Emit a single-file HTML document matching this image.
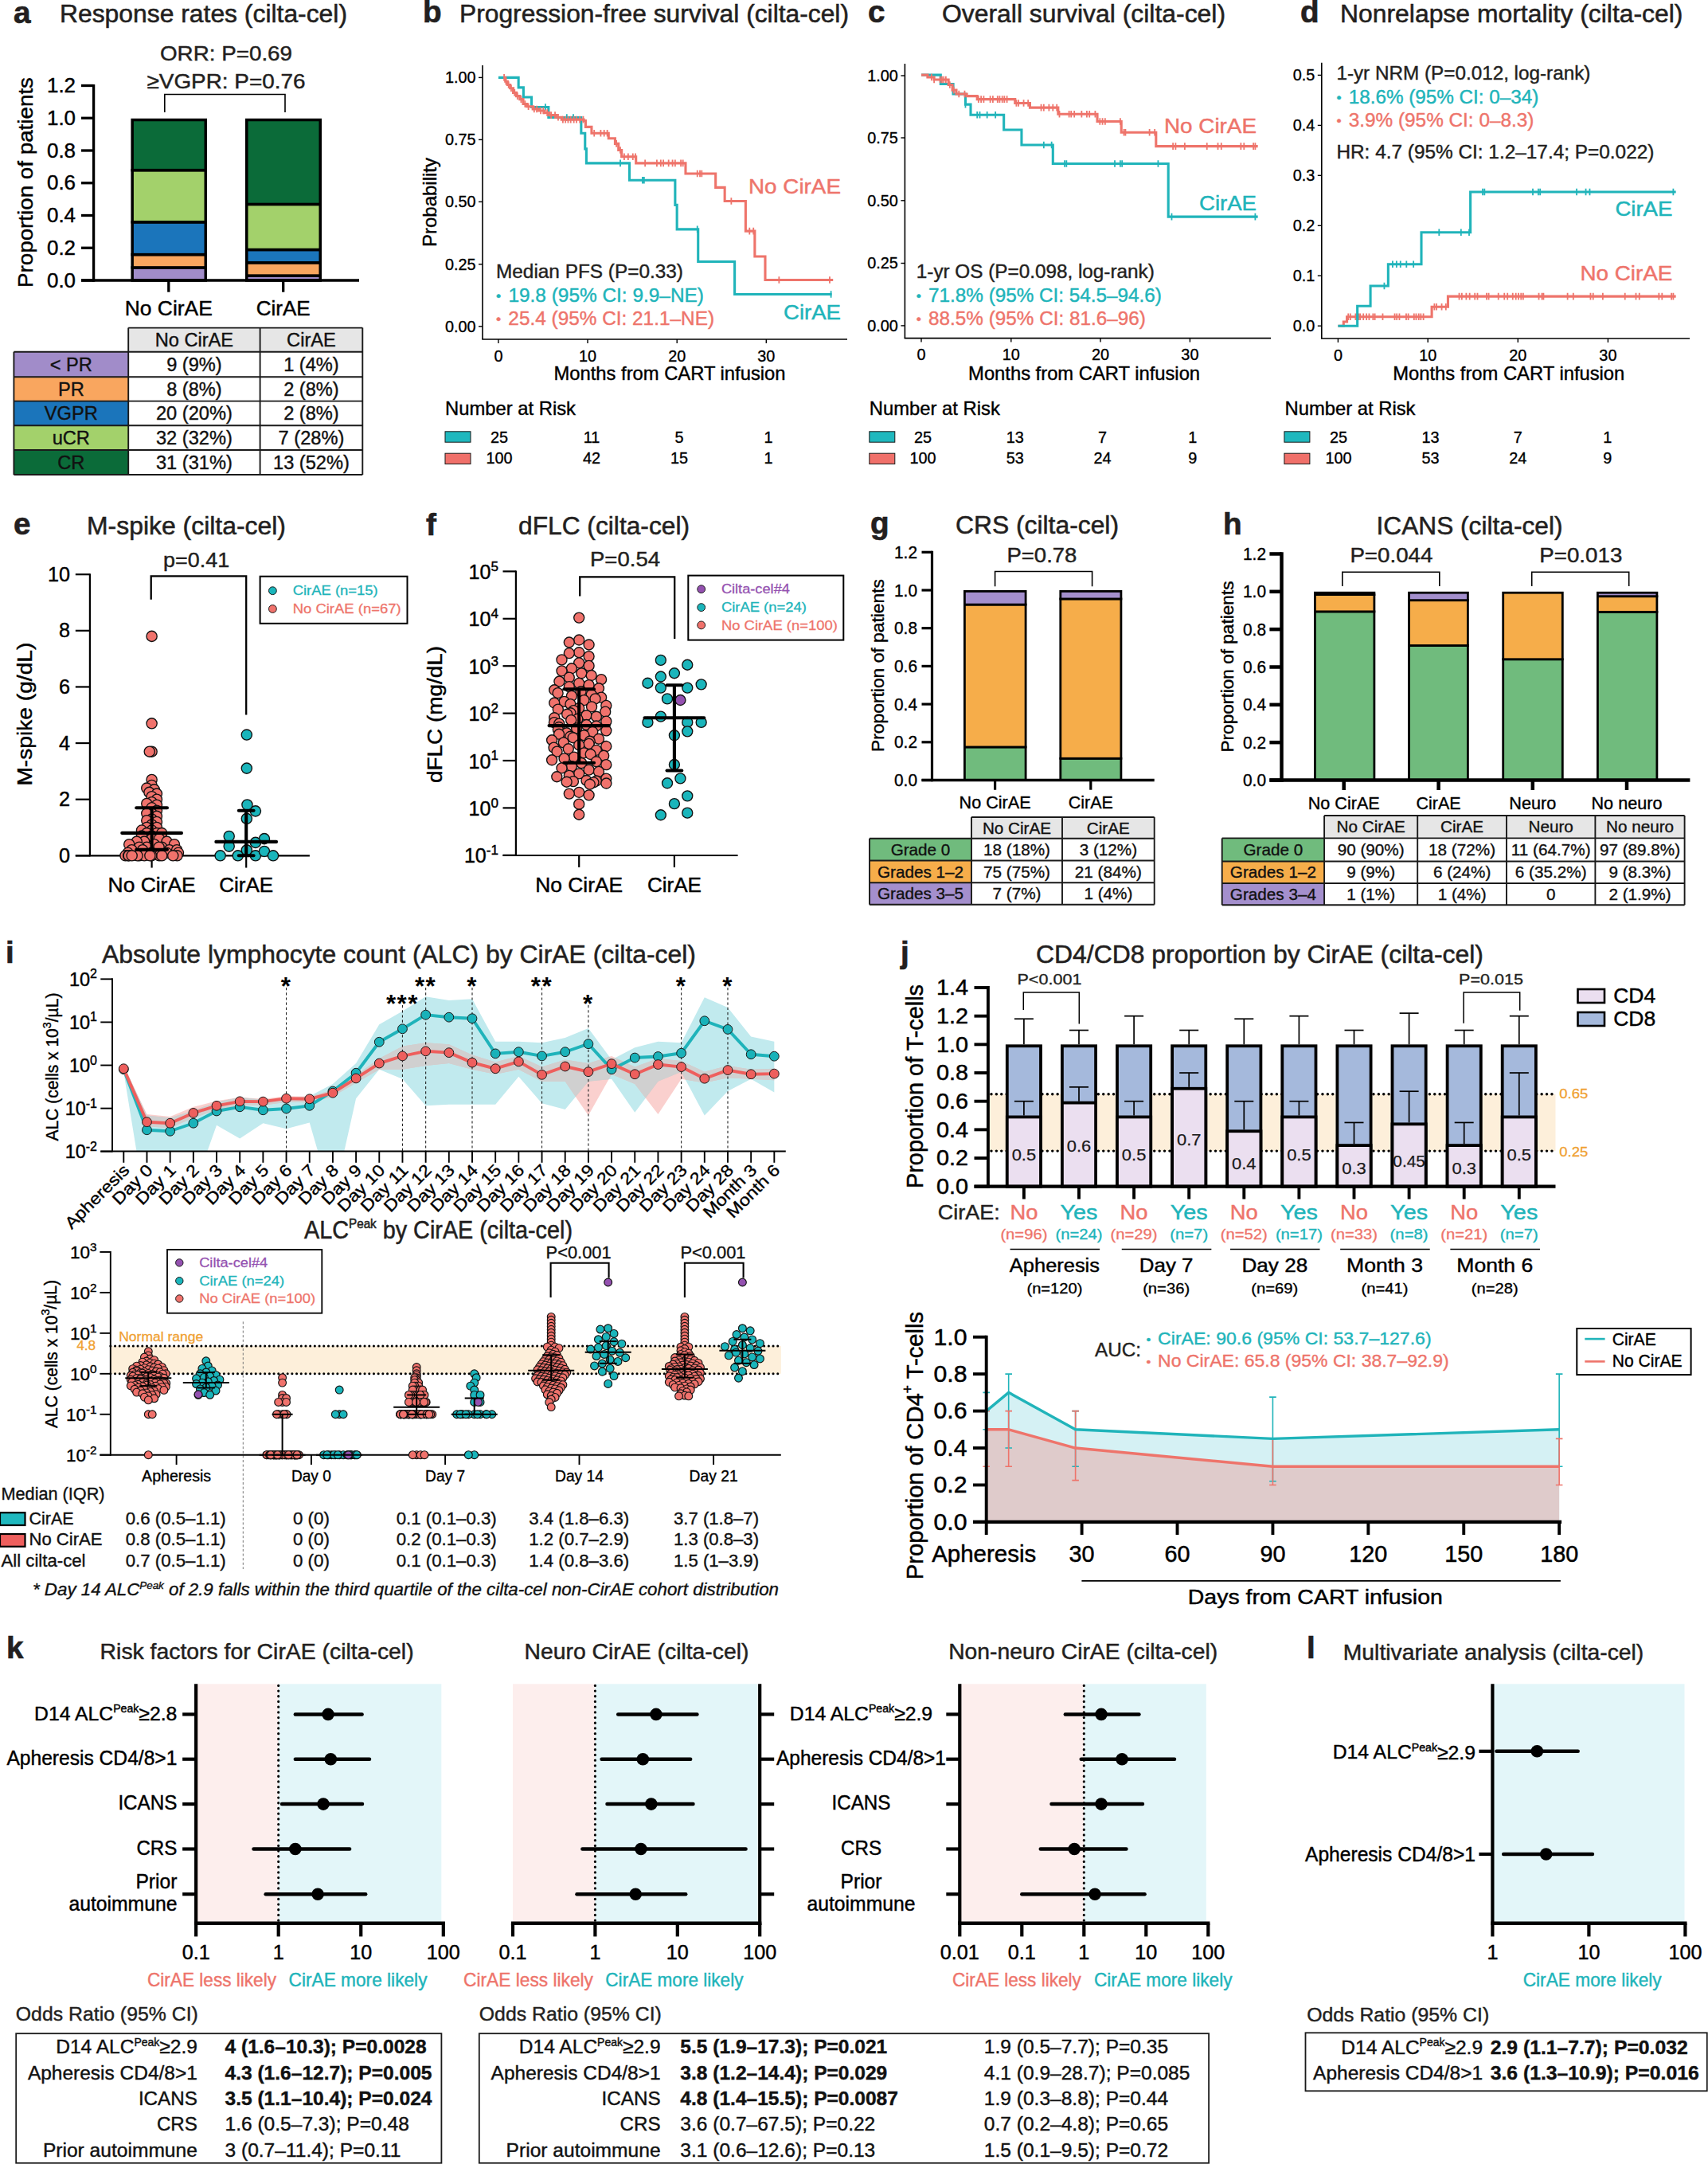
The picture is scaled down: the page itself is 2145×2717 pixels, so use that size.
<!DOCTYPE html>
<html lang="en"><head><meta charset="utf-8"><title>Figure</title>
<style>
html,body{margin:0;padding:0;background:#fff;}
svg{display:block;font-family:'Liberation Sans', Arial, Helvetica, sans-serif;}
text{white-space:pre;}
</style></head><body>
<svg width="2145" height="2717" viewBox="0 0 2145 2717">
<rect width="2145" height="2717" fill="#fff"/>
<g><text x="17" y="29" font-size="38.66" fill="#231f20" stroke="#231f20" stroke-width="0.66" font-weight="bold">a</text>
<text x="75" y="28" font-size="30.83" fill="#231f20" stroke="#231f20" stroke-width="0.52" textLength="361" lengthAdjust="spacingAndGlyphs">Response rates (cilta-cel)</text>
<text x="284" y="76" font-size="26.44" text-anchor="middle" fill="#231f20" stroke="#231f20" stroke-width="0.45" textLength="166" lengthAdjust="spacingAndGlyphs">ORR: P=0.69</text>
<text x="284" y="110.5" font-size="26.44" text-anchor="middle" fill="#231f20" stroke="#231f20" stroke-width="0.45" textLength="199" lengthAdjust="spacingAndGlyphs">≥VGPR: P=0.76</text>
<path d="M206.8 141 V118.5 H358 V141" fill="none" stroke="#000" stroke-width="1.6"/>
<rect x="166.15" y="335.91" width="92.1" height="16.09" fill="#a18cc9" stroke="#000" stroke-width="3.5"/>
<rect x="166.15" y="319.61" width="92.1" height="16.3" fill="#f9a65f" stroke="#000" stroke-width="3.5"/>
<rect x="166.15" y="278.86" width="92.1" height="40.75" fill="#1b75bb" stroke="#000" stroke-width="3.5"/>
<rect x="166.15" y="213.66" width="92.1" height="65.2" fill="#a3d16b" stroke="#000" stroke-width="3.5"/>
<rect x="166.15" y="150.5" width="92.1" height="63.16" fill="#0b6b39" stroke="#000" stroke-width="3.5"/>
<rect x="309.75" y="346.1" width="92.5" height="5.9" fill="#a18cc9" stroke="#000" stroke-width="3.5"/>
<rect x="309.75" y="329.8" width="92.5" height="16.3" fill="#f9a65f" stroke="#000" stroke-width="3.5"/>
<rect x="309.75" y="313.5" width="92.5" height="16.3" fill="#1b75bb" stroke="#000" stroke-width="3.5"/>
<rect x="309.75" y="256.45" width="92.5" height="57.05" fill="#a3d16b" stroke="#000" stroke-width="3.5"/>
<rect x="309.75" y="150.5" width="92.5" height="105.95" fill="#0b6b39" stroke="#000" stroke-width="3.5"/>
<line x1="117.6" y1="105.9" x2="117.6" y2="353.7" stroke="#000" stroke-width="3.3"/>
<line x1="102" y1="352" x2="451" y2="352" stroke="#000" stroke-width="3.4"/>
<line x1="102" y1="352" x2="117.6" y2="352" stroke="#000" stroke-width="3.3"/>
<text x="95" y="360.6" font-size="25.08" text-anchor="end" stroke="#000" stroke-width="0.43" textLength="36" lengthAdjust="spacingAndGlyphs">0.0</text>
<line x1="102" y1="311.25" x2="117.6" y2="311.25" stroke="#000" stroke-width="3.3"/>
<text x="95" y="319.85" font-size="25.08" text-anchor="end" stroke="#000" stroke-width="0.43" textLength="36" lengthAdjust="spacingAndGlyphs">0.2</text>
<line x1="102" y1="270.5" x2="117.6" y2="270.5" stroke="#000" stroke-width="3.3"/>
<text x="95" y="279.1" font-size="25.08" text-anchor="end" stroke="#000" stroke-width="0.43" textLength="36" lengthAdjust="spacingAndGlyphs">0.4</text>
<line x1="102" y1="229.75" x2="117.6" y2="229.75" stroke="#000" stroke-width="3.3"/>
<text x="95" y="238.35" font-size="25.08" text-anchor="end" stroke="#000" stroke-width="0.43" textLength="36" lengthAdjust="spacingAndGlyphs">0.6</text>
<line x1="102" y1="189" x2="117.6" y2="189" stroke="#000" stroke-width="3.3"/>
<text x="95" y="197.6" font-size="25.08" text-anchor="end" stroke="#000" stroke-width="0.43" textLength="36" lengthAdjust="spacingAndGlyphs">0.8</text>
<line x1="102" y1="148.25" x2="117.6" y2="148.25" stroke="#000" stroke-width="3.3"/>
<text x="95" y="156.85" font-size="25.08" text-anchor="end" stroke="#000" stroke-width="0.43" textLength="36" lengthAdjust="spacingAndGlyphs">1.0</text>
<line x1="102" y1="107.5" x2="117.6" y2="107.5" stroke="#000" stroke-width="3.3"/>
<text x="95" y="116.1" font-size="25.08" text-anchor="end" stroke="#000" stroke-width="0.43" textLength="36" lengthAdjust="spacingAndGlyphs">1.2</text>
<line x1="211.8" y1="352" x2="211.8" y2="366.7" stroke="#000" stroke-width="3.3"/>
<line x1="355.7" y1="352" x2="355.7" y2="366.7" stroke="#000" stroke-width="3.3"/>
<text x="211.8" y="396" font-size="26.12" text-anchor="middle" stroke="#000" stroke-width="0.44" textLength="110" lengthAdjust="spacingAndGlyphs">No CirAE</text>
<text x="355.7" y="396" font-size="26.12" text-anchor="middle" stroke="#000" stroke-width="0.44" textLength="68" lengthAdjust="spacingAndGlyphs">CirAE</text>
<text x="40.5" y="229" font-size="26.12" text-anchor="middle" stroke="#000" stroke-width="0.44" textLength="264" lengthAdjust="spacingAndGlyphs" transform="rotate(-90 40.5 229)">Proportion of patients</text>
<rect x="161.2" y="411.6" width="294.1" height="30.1" fill="#e6e6e6"/>
<rect x="17.4" y="441.7" width="143.8" height="31.6" fill="#a18cc9"/>
<rect x="17.4" y="473.3" width="143.8" height="30.3" fill="#f9a65f"/>
<rect x="17.4" y="503.6" width="143.8" height="30.7" fill="#1b75bb"/>
<rect x="17.4" y="534.3" width="143.8" height="30.7" fill="#a3d16b"/>
<rect x="17.4" y="565" width="143.8" height="31" fill="#0b6b39"/>
<path d="M161.2 411.6 H455.3 M17.4 441.7 H455.3 M17.4 473.3 H455.3 M17.4 503.6 H455.3 M17.4 534.3 H455.3 M17.4 565 H455.3 M17.4 596 H455.3 M17.4 441.7 V596 M161.2 411.6 V596 M326.6 411.6 V596 M455.3 411.6 V596" fill="none" stroke="#1a1a1a" stroke-width="1.9"/>
<text x="243.9" y="434.79" font-size="23.62" text-anchor="middle" fill="#111" stroke="#111" stroke-width="0.4">No CirAE</text>
<text x="390.95" y="434.79" font-size="23.62" text-anchor="middle" fill="#111" stroke="#111" stroke-width="0.4">CirAE</text>
<text x="89.3" y="465.64" font-size="23.62" text-anchor="middle" fill="#111" stroke="#111" stroke-width="0.4">&lt; PR</text>
<text x="243.9" y="465.64" font-size="23.62" text-anchor="middle" fill="#111" stroke="#111" stroke-width="0.4">9 (9%)</text>
<text x="390.95" y="465.64" font-size="23.62" text-anchor="middle" fill="#111" stroke="#111" stroke-width="0.4">1 (4%)</text>
<text x="89.3" y="496.59" font-size="23.62" text-anchor="middle" fill="#111" stroke="#111" stroke-width="0.4">PR</text>
<text x="243.9" y="496.59" font-size="23.62" text-anchor="middle" fill="#111" stroke="#111" stroke-width="0.4">8 (8%)</text>
<text x="390.95" y="496.59" font-size="23.62" text-anchor="middle" fill="#111" stroke="#111" stroke-width="0.4">2 (8%)</text>
<text x="89.3" y="527.09" font-size="23.62" text-anchor="middle" fill="#111" stroke="#111" stroke-width="0.4">VGPR</text>
<text x="243.9" y="527.09" font-size="23.62" text-anchor="middle" fill="#111" stroke="#111" stroke-width="0.4">20 (20%)</text>
<text x="390.95" y="527.09" font-size="23.62" text-anchor="middle" fill="#111" stroke="#111" stroke-width="0.4">2 (8%)</text>
<text x="89.3" y="557.79" font-size="23.62" text-anchor="middle" fill="#111" stroke="#111" stroke-width="0.4">uCR</text>
<text x="243.9" y="557.79" font-size="23.62" text-anchor="middle" fill="#111" stroke="#111" stroke-width="0.4">32 (32%)</text>
<text x="390.95" y="557.79" font-size="23.62" text-anchor="middle" fill="#111" stroke="#111" stroke-width="0.4">7 (28%)</text>
<text x="89.3" y="588.64" font-size="23.62" text-anchor="middle" fill="#111" stroke="#111" stroke-width="0.4">CR</text>
<text x="243.9" y="588.64" font-size="23.62" text-anchor="middle" fill="#111" stroke="#111" stroke-width="0.4">31 (31%)</text>
<text x="390.95" y="588.64" font-size="23.62" text-anchor="middle" fill="#111" stroke="#111" stroke-width="0.4">13 (52%)</text></g>
<g><text x="531" y="28" font-size="38.66" fill="#231f20" stroke="#231f20" stroke-width="0.66" font-weight="bold">b</text>
<text x="577" y="28" font-size="30.83" fill="#231f20" stroke="#231f20" stroke-width="0.52" textLength="489" lengthAdjust="spacingAndGlyphs">Progression-free survival (cilta-cel)</text>
<line x1="606" y1="82" x2="606" y2="426" stroke="#000" stroke-width="1.6"/>
<line x1="605.2" y1="426" x2="1064" y2="426" stroke="#000" stroke-width="1.6"/>
<line x1="601" y1="97.4" x2="606" y2="97.4" stroke="#000" stroke-width="1.4"/>
<text x="597.5" y="104.2" font-size="19.85" text-anchor="end" stroke="#000" stroke-width="0.34">1.00</text>
<line x1="601" y1="175.4" x2="606" y2="175.4" stroke="#000" stroke-width="1.4"/>
<text x="597.5" y="182.2" font-size="19.85" text-anchor="end" stroke="#000" stroke-width="0.34">0.75</text>
<line x1="601" y1="253.4" x2="606" y2="253.4" stroke="#000" stroke-width="1.4"/>
<text x="597.5" y="260.2" font-size="19.85" text-anchor="end" stroke="#000" stroke-width="0.34">0.50</text>
<line x1="601" y1="331.8" x2="606" y2="331.8" stroke="#000" stroke-width="1.4"/>
<text x="597.5" y="338.6" font-size="19.85" text-anchor="end" stroke="#000" stroke-width="0.34">0.25</text>
<line x1="601" y1="409.8" x2="606" y2="409.8" stroke="#000" stroke-width="1.4"/>
<text x="597.5" y="416.6" font-size="19.85" text-anchor="end" stroke="#000" stroke-width="0.34">0.00</text>
<line x1="625.9" y1="426" x2="625.9" y2="431" stroke="#000" stroke-width="1.4"/>
<text x="625.9" y="453.5" font-size="19.85" text-anchor="middle" stroke="#000" stroke-width="0.34">0</text>
<line x1="738" y1="426" x2="738" y2="431" stroke="#000" stroke-width="1.4"/>
<text x="738" y="453.5" font-size="19.85" text-anchor="middle" stroke="#000" stroke-width="0.34">10</text>
<line x1="850.2" y1="426" x2="850.2" y2="431" stroke="#000" stroke-width="1.4"/>
<text x="850.2" y="453.5" font-size="19.85" text-anchor="middle" stroke="#000" stroke-width="0.34">20</text>
<line x1="962.3" y1="426" x2="962.3" y2="431" stroke="#000" stroke-width="1.4"/>
<text x="962.3" y="453.5" font-size="19.85" text-anchor="middle" stroke="#000" stroke-width="0.34">30</text>
<text x="841" y="477" font-size="22.99" text-anchor="middle" stroke="#000" stroke-width="0.39" textLength="291" lengthAdjust="spacingAndGlyphs">Months from CART infusion</text>
<text x="559" y="520.6" font-size="22.99" stroke="#000" stroke-width="0.39" textLength="164" lengthAdjust="spacingAndGlyphs">Number at Risk</text>
<rect x="559" y="541.8" width="32" height="13.4" fill="#1fb8be" stroke="#1a1a1a" stroke-width="1"/>
<rect x="559" y="569.2" width="32" height="13.4" fill="#f0706a" stroke="#1a1a1a" stroke-width="1"/>
<text x="627" y="555.7" font-size="19.85" text-anchor="middle" stroke="#000" stroke-width="0.34">25</text>
<text x="743" y="555.7" font-size="19.85" text-anchor="middle" stroke="#000" stroke-width="0.34">11</text>
<text x="853" y="555.7" font-size="19.85" text-anchor="middle" stroke="#000" stroke-width="0.34">5</text>
<text x="965" y="555.7" font-size="19.85" text-anchor="middle" stroke="#000" stroke-width="0.34">1</text>
<text x="627" y="582" font-size="19.85" text-anchor="middle" stroke="#000" stroke-width="0.34">100</text>
<text x="743" y="582" font-size="19.85" text-anchor="middle" stroke="#000" stroke-width="0.34">42</text>
<text x="853" y="582" font-size="19.85" text-anchor="middle" stroke="#000" stroke-width="0.34">15</text>
<text x="965" y="582" font-size="19.85" text-anchor="middle" stroke="#000" stroke-width="0.34">1</text>
<text x="547.5" y="254" font-size="22.99" text-anchor="middle" stroke="#000" stroke-width="0.39" textLength="112" lengthAdjust="spacingAndGlyphs" transform="rotate(-90 547.5 254)">Probability</text>
<path d="M625.9 97.38 H651.15 V109.84 H657.38 V121.97 H667.54 V134.43 H688.85 V147.54 H729.84 V167.21 H734.75 V186.89 H736.39 V204.92 H790.49 V226.23 H847.87 V257.38 H850.16 V287.87 H876.72 V328.52 H922.62 V369.51 H1044.59 V369.51" fill="none" stroke="#20b4ba" stroke-width="3.1" stroke-linejoin="miter"/>
<path d="M684.92 130.13 V138.73 M711.8 143.24 V151.84 M720 143.24 V151.84 M779.02 200.62 V209.22 M806.89 221.93 V230.53 M808.85 221.93 V230.53 M875.74 283.57 V292.17 M1043.61 365.21 V373.81" fill="none" stroke="#20b4ba" stroke-width="1.8"/>
<path d="M633.11 97.4 H634.75 V102.3 H637.38 V106.56 H640.66 V110.82 H644.59 V116.39 H648.52 V120.66 H652.79 V124.59 H657.05 V130.49 H661.64 V133.77 H669.18 V137.05 H676.72 V139.02 H683.93 V141.64 H689.84 V144.59 H698.69 V147.21 H705.25 V150.16 H733.11 V151.48 H735.41 V159.34 H742.95 V167.21 H764.26 V173.77 H772.46 V180.33 H776.72 V188.52 H780.66 V196.72 H798.69 V204.92 H860.98 V218.03 H898.69 V235.41 H910.16 V252.46 H936.39 V290.16 H947.87 V321.97 H960.98 V351.48 H1046.23 V351.48" fill="none" stroke="#ee746b" stroke-width="3.1" stroke-linejoin="miter"/>
<path d="M633.11 93.1 V101.7 M635.41 98 V106.6 M638.69 102.26 V110.86 M641.97 106.52 V115.12 M646.23 112.09 V120.69 M649.84 116.36 V124.96 M654.43 120.29 V128.89 M659.34 126.19 V134.79 M663.61 129.47 V138.07 M670.82 132.75 V141.35 M674.1 132.75 V141.35 M679.02 134.72 V143.32 M682.3 134.72 V143.32 M687.21 137.34 V145.94 M692.13 140.29 V148.89 M697.05 140.29 V148.89 M700.98 142.91 V151.51 M706.89 145.86 V154.46 M710.16 145.86 V154.46 M713.44 145.86 V154.46 M716.72 145.86 V154.46 M720.66 145.86 V154.46 M723.93 145.86 V154.46 M728.2 145.86 V154.46 M732.46 145.86 V154.46 M746.23 162.91 V171.51 M754.43 162.91 V171.51 M758.69 162.91 V171.51 M762.62 162.91 V171.51 M774.1 176.03 V184.63 M779.02 184.22 V192.82 M783.93 192.42 V201.02 M788.85 192.42 V201.02 M794.75 192.42 V201.02 M798.03 192.42 V201.02 M810.16 200.62 V209.22 M824.92 200.62 V209.22 M829.84 200.62 V209.22 M833.11 200.62 V209.22 M839.67 200.62 V209.22 M844.59 200.62 V209.22 M847.87 200.62 V209.22 M855.08 200.62 V209.22 M857.7 200.62 V209.22 M875.74 213.73 V222.33 M879.02 213.73 V222.33 M881.31 213.73 V222.33 M918.36 248.16 V256.76 M941.31 285.86 V294.46 M946.23 285.86 V294.46 M978.36 347.18 V355.78 M1041.97 347.18 V355.78" fill="none" stroke="#ee746b" stroke-width="1.8"/>
<text x="623" y="349" font-size="24.03" fill="#231f20" stroke="#231f20" stroke-width="0.41" textLength="235" lengthAdjust="spacingAndGlyphs">Median PFS (P=0.33)</text>
<text x="623" y="378.7" font-size="24.03" fill="#20b4ba" stroke="#20b4ba" stroke-width="0.41" textLength="261" lengthAdjust="spacingAndGlyphs"><tspan font-size="72%" dy="-0.09em">•</tspan><tspan dy="0.065em" dx="0.1em"> 19.8 (95% CI: 9.9–NE)</tspan></text>
<text x="623" y="408" font-size="24.03" fill="#ee746b" stroke="#ee746b" stroke-width="0.41" textLength="274" lengthAdjust="spacingAndGlyphs"><tspan font-size="72%" dy="-0.09em">•</tspan><tspan dy="0.065em" dx="0.1em"> 25.4 (95% CI: 21.1–NE)</tspan></text>
<text x="1056" y="242.6" font-size="26.65" text-anchor="end" fill="#ee746b" stroke="#ee746b" stroke-width="0.45" textLength="116" lengthAdjust="spacingAndGlyphs">No CirAE</text>
<text x="1056" y="400.6" font-size="26.65" text-anchor="end" fill="#20b4ba" stroke="#20b4ba" stroke-width="0.45" textLength="72" lengthAdjust="spacingAndGlyphs">CirAE</text></g>
<g><text x="1090" y="28" font-size="38.66" fill="#231f20" stroke="#231f20" stroke-width="0.66" font-weight="bold">c</text>
<text x="1183" y="28" font-size="30.83" fill="#231f20" stroke="#231f20" stroke-width="0.52" textLength="356" lengthAdjust="spacingAndGlyphs">Overall survival (cilta-cel)</text>
<line x1="1136.4" y1="80" x2="1136.4" y2="424.6" stroke="#000" stroke-width="1.6"/>
<line x1="1135.6" y1="424.6" x2="1596" y2="424.6" stroke="#000" stroke-width="1.6"/>
<line x1="1131.4" y1="95" x2="1136.4" y2="95" stroke="#000" stroke-width="1.4"/>
<text x="1127.9" y="101.8" font-size="19.85" text-anchor="end" stroke="#000" stroke-width="0.34">1.00</text>
<line x1="1131.4" y1="173" x2="1136.4" y2="173" stroke="#000" stroke-width="1.4"/>
<text x="1127.9" y="179.8" font-size="19.85" text-anchor="end" stroke="#000" stroke-width="0.34">0.75</text>
<line x1="1131.4" y1="251.8" x2="1136.4" y2="251.8" stroke="#000" stroke-width="1.4"/>
<text x="1127.9" y="258.6" font-size="19.85" text-anchor="end" stroke="#000" stroke-width="0.34">0.50</text>
<line x1="1131.4" y1="330.5" x2="1136.4" y2="330.5" stroke="#000" stroke-width="1.4"/>
<text x="1127.9" y="337.3" font-size="19.85" text-anchor="end" stroke="#000" stroke-width="0.34">0.25</text>
<line x1="1131.4" y1="408.9" x2="1136.4" y2="408.9" stroke="#000" stroke-width="1.4"/>
<text x="1127.9" y="415.7" font-size="19.85" text-anchor="end" stroke="#000" stroke-width="0.34">0.00</text>
<line x1="1157" y1="424.6" x2="1157" y2="429.6" stroke="#000" stroke-width="1.4"/>
<text x="1157" y="452.1" font-size="19.85" text-anchor="middle" stroke="#000" stroke-width="0.34">0</text>
<line x1="1269.8" y1="424.6" x2="1269.8" y2="429.6" stroke="#000" stroke-width="1.4"/>
<text x="1269.8" y="452.1" font-size="19.85" text-anchor="middle" stroke="#000" stroke-width="0.34">10</text>
<line x1="1382" y1="424.6" x2="1382" y2="429.6" stroke="#000" stroke-width="1.4"/>
<text x="1382" y="452.1" font-size="19.85" text-anchor="middle" stroke="#000" stroke-width="0.34">20</text>
<line x1="1494.4" y1="424.6" x2="1494.4" y2="429.6" stroke="#000" stroke-width="1.4"/>
<text x="1494.4" y="452.1" font-size="19.85" text-anchor="middle" stroke="#000" stroke-width="0.34">30</text>
<text x="1361.6" y="477" font-size="22.99" text-anchor="middle" stroke="#000" stroke-width="0.39" textLength="291" lengthAdjust="spacingAndGlyphs">Months from CART infusion</text>
<text x="1091.8" y="520.6" font-size="22.99" stroke="#000" stroke-width="0.39" textLength="164" lengthAdjust="spacingAndGlyphs">Number at Risk</text>
<rect x="1091.8" y="541.8" width="32" height="13.4" fill="#1fb8be" stroke="#1a1a1a" stroke-width="1"/>
<rect x="1091.8" y="569.2" width="32" height="13.4" fill="#f0706a" stroke="#1a1a1a" stroke-width="1"/>
<text x="1159" y="555.7" font-size="19.85" text-anchor="middle" stroke="#000" stroke-width="0.34">25</text>
<text x="1274.8" y="555.7" font-size="19.85" text-anchor="middle" stroke="#000" stroke-width="0.34">13</text>
<text x="1384.6" y="555.7" font-size="19.85" text-anchor="middle" stroke="#000" stroke-width="0.34">7</text>
<text x="1497.7" y="555.7" font-size="19.85" text-anchor="middle" stroke="#000" stroke-width="0.34">1</text>
<text x="1159" y="582" font-size="19.85" text-anchor="middle" stroke="#000" stroke-width="0.34">100</text>
<text x="1274.8" y="582" font-size="19.85" text-anchor="middle" stroke="#000" stroke-width="0.34">53</text>
<text x="1384.6" y="582" font-size="19.85" text-anchor="middle" stroke="#000" stroke-width="0.34">24</text>
<text x="1497.7" y="582" font-size="19.85" text-anchor="middle" stroke="#000" stroke-width="0.34">9</text>
<path d="M1157.05 94.1 H1181.31 V105.57 H1197.05 V118.03 H1212.46 V131.15 H1219.02 V144.26 H1260.66 V162.95 H1282.95 V181.97 H1322.3 V205.57 H1467.21 V272.13 H1579.67 V272.13" fill="none" stroke="#20b4ba" stroke-width="3.1" stroke-linejoin="miter"/>
<path d="M1212.46 126.85 V135.45 M1227.21 139.96 V148.56 M1230.49 139.96 V148.56 M1239.67 139.96 V148.56 M1250.16 139.96 V148.56 M1310.82 177.67 V186.27 M1320.66 177.67 V186.27 M1337.05 201.27 V209.87 M1339.34 201.27 V209.87 M1400 201.27 V209.87 M1406.89 201.27 V209.87 M1409.18 201.27 V209.87 M1454.43 201.27 V209.87 M1471.48 267.83 V276.43 M1576.39 267.83 V276.43" fill="none" stroke="#20b4ba" stroke-width="1.8"/>
<path d="M1157.05 94.1 H1164.92 V97.05 H1173.11 V100 H1191.15 V106.56 H1196.07 V113.11 H1200.98 V118.03 H1214.1 V120.66 H1227.21 V124.59 H1274.75 V129.51 H1293.44 V135.08 H1328.85 V143.28 H1378.03 V152.46 H1408.2 V166.23 H1451.8 V183.61 H1579.67 V183.61" fill="none" stroke="#ee746b" stroke-width="3.1" stroke-linejoin="miter"/>
<path d="M1169.84 92.75 V101.35 M1173.11 95.7 V104.3 M1180.66 95.7 V104.3 M1182.95 95.7 V104.3 M1185.25 95.7 V104.3 M1187.87 95.7 V104.3 M1192.79 102.26 V110.86 M1197.7 108.81 V117.41 M1204.26 113.73 V122.33 M1211.48 113.73 V122.33 M1228.85 120.29 V128.89 M1232.13 120.29 V128.89 M1235.41 120.29 V128.89 M1243.61 120.29 V128.89 M1246.89 120.29 V128.89 M1252.79 120.29 V128.89 M1255.41 120.29 V128.89 M1258.69 120.29 V128.89 M1261.31 120.29 V128.89 M1264.59 120.29 V128.89 M1276.39 125.21 V133.81 M1279.02 125.21 V133.81 M1285.57 125.21 V133.81 M1291.15 125.21 V133.81 M1307.54 130.78 V139.38 M1310.82 130.78 V139.38 M1317.38 130.78 V139.38 M1322.3 130.78 V139.38 M1327.21 130.78 V139.38 M1330.49 138.98 V147.58 M1342.62 138.98 V147.58 M1345.25 138.98 V147.58 M1349.18 138.98 V147.58 M1358.36 138.98 V147.58 M1364.92 138.98 V147.58 M1368.2 138.98 V147.58 M1375.41 138.98 V147.58 M1381.31 148.16 V156.76 M1384.59 148.16 V156.76 M1387.87 148.16 V156.76 M1406.89 148.16 V156.76 M1411.48 161.93 V170.53 M1413.44 161.93 V170.53 M1443.61 161.93 V170.53 M1450.16 161.93 V170.53 M1473.11 179.31 V187.91 M1476.39 179.31 V187.91 M1487.87 179.31 V187.91 M1515.74 179.31 V187.91 M1529.51 179.31 V187.91 M1533.77 179.31 V187.91 M1558.36 179.31 V187.91 M1562.3 179.31 V187.91 M1574.1 179.31 V187.91 M1576.39 179.31 V187.91" fill="none" stroke="#ee746b" stroke-width="1.8"/>
<text x="1150.8" y="349" font-size="24.03" fill="#231f20" stroke="#231f20" stroke-width="0.41" textLength="299" lengthAdjust="spacingAndGlyphs">1-yr OS (P=0.098, log-rank)</text>
<text x="1150.8" y="378.7" font-size="24.03" fill="#20b4ba" stroke="#20b4ba" stroke-width="0.41" textLength="308" lengthAdjust="spacingAndGlyphs"><tspan font-size="72%" dy="-0.09em">•</tspan><tspan dy="0.065em" dx="0.1em"> 71.8% (95% CI: 54.5–94.6)</tspan></text>
<text x="1150.8" y="408" font-size="24.03" fill="#ee746b" stroke="#ee746b" stroke-width="0.41" textLength="288" lengthAdjust="spacingAndGlyphs"><tspan font-size="72%" dy="-0.09em">•</tspan><tspan dy="0.065em" dx="0.1em"> 88.5% (95% CI: 81.6–96)</tspan></text>
<text x="1578" y="167" font-size="26.65" text-anchor="end" fill="#ee746b" stroke="#ee746b" stroke-width="0.45" textLength="116" lengthAdjust="spacingAndGlyphs">No CirAE</text>
<text x="1578" y="264" font-size="26.65" text-anchor="end" fill="#20b4ba" stroke="#20b4ba" stroke-width="0.45" textLength="72" lengthAdjust="spacingAndGlyphs">CirAE</text></g>
<g><text x="1633" y="28" font-size="38.66" fill="#231f20" stroke="#231f20" stroke-width="0.66" font-weight="bold">d</text>
<text x="1683" y="28" font-size="30.83" fill="#231f20" stroke="#231f20" stroke-width="0.52" textLength="430.5" lengthAdjust="spacingAndGlyphs">Nonrelapse mortality (cilta-cel)</text>
<line x1="1659.8" y1="78.7" x2="1659.8" y2="425" stroke="#000" stroke-width="1.6"/>
<line x1="1659" y1="425" x2="2122" y2="425" stroke="#000" stroke-width="1.6"/>
<line x1="1654.8" y1="94.4" x2="1659.8" y2="94.4" stroke="#000" stroke-width="1.4"/>
<text x="1651.3" y="101.2" font-size="19.85" text-anchor="end" stroke="#000" stroke-width="0.34">0.5</text>
<line x1="1654.8" y1="157.4" x2="1659.8" y2="157.4" stroke="#000" stroke-width="1.4"/>
<text x="1651.3" y="164.2" font-size="19.85" text-anchor="end" stroke="#000" stroke-width="0.34">0.4</text>
<line x1="1654.8" y1="220.3" x2="1659.8" y2="220.3" stroke="#000" stroke-width="1.4"/>
<text x="1651.3" y="227.1" font-size="19.85" text-anchor="end" stroke="#000" stroke-width="0.34">0.3</text>
<line x1="1654.8" y1="283.3" x2="1659.8" y2="283.3" stroke="#000" stroke-width="1.4"/>
<text x="1651.3" y="290.1" font-size="19.85" text-anchor="end" stroke="#000" stroke-width="0.34">0.2</text>
<line x1="1654.8" y1="346.2" x2="1659.8" y2="346.2" stroke="#000" stroke-width="1.4"/>
<text x="1651.3" y="353" font-size="19.85" text-anchor="end" stroke="#000" stroke-width="0.34">0.1</text>
<line x1="1654.8" y1="409.2" x2="1659.8" y2="409.2" stroke="#000" stroke-width="1.4"/>
<text x="1651.3" y="416" font-size="19.85" text-anchor="end" stroke="#000" stroke-width="0.34">0.0</text>
<line x1="1680.4" y1="425" x2="1680.4" y2="430" stroke="#000" stroke-width="1.4"/>
<text x="1680.4" y="452.5" font-size="19.85" text-anchor="middle" stroke="#000" stroke-width="0.34">0</text>
<line x1="1793.2" y1="425" x2="1793.2" y2="430" stroke="#000" stroke-width="1.4"/>
<text x="1793.2" y="452.5" font-size="19.85" text-anchor="middle" stroke="#000" stroke-width="0.34">10</text>
<line x1="1906.3" y1="425" x2="1906.3" y2="430" stroke="#000" stroke-width="1.4"/>
<text x="1906.3" y="452.5" font-size="19.85" text-anchor="middle" stroke="#000" stroke-width="0.34">20</text>
<line x1="2019.4" y1="425" x2="2019.4" y2="430" stroke="#000" stroke-width="1.4"/>
<text x="2019.4" y="452.5" font-size="19.85" text-anchor="middle" stroke="#000" stroke-width="0.34">30</text>
<text x="1894.8" y="477" font-size="22.99" text-anchor="middle" stroke="#000" stroke-width="0.39" textLength="291" lengthAdjust="spacingAndGlyphs">Months from CART infusion</text>
<text x="1613.5" y="520.6" font-size="22.99" stroke="#000" stroke-width="0.39" textLength="164" lengthAdjust="spacingAndGlyphs">Number at Risk</text>
<rect x="1612.9" y="541.8" width="32" height="13.4" fill="#1fb8be" stroke="#1a1a1a" stroke-width="1"/>
<rect x="1612.9" y="569.2" width="32" height="13.4" fill="#f0706a" stroke="#1a1a1a" stroke-width="1"/>
<text x="1681" y="555.7" font-size="19.85" text-anchor="middle" stroke="#000" stroke-width="0.34">25</text>
<text x="1796.5" y="555.7" font-size="19.85" text-anchor="middle" stroke="#000" stroke-width="0.34">13</text>
<text x="1906.3" y="555.7" font-size="19.85" text-anchor="middle" stroke="#000" stroke-width="0.34">7</text>
<text x="2018.8" y="555.7" font-size="19.85" text-anchor="middle" stroke="#000" stroke-width="0.34">1</text>
<text x="1681" y="582" font-size="19.85" text-anchor="middle" stroke="#000" stroke-width="0.34">100</text>
<text x="1796.5" y="582" font-size="19.85" text-anchor="middle" stroke="#000" stroke-width="0.34">53</text>
<text x="1906.3" y="582" font-size="19.85" text-anchor="middle" stroke="#000" stroke-width="0.34">24</text>
<text x="2018.8" y="582" font-size="19.85" text-anchor="middle" stroke="#000" stroke-width="0.34">9</text>
<path d="M1680.41 409.18 H1687.3 V403.93 H1691.56 V397.7 H1798.11 V385.25 H1818.44 V372.13 H2104.67 V372.13" fill="none" stroke="#ee746b" stroke-width="3.1" stroke-linejoin="miter"/>
<path d="M1693.2 393.4 V402 M1695.82 393.4 V402 M1702.38 393.4 V402 M1704.34 393.4 V402 M1706.31 393.4 V402 M1708.28 393.4 V402 M1712.21 393.4 V402 M1716.15 393.4 V402 M1719.43 393.4 V402 M1724.34 393.4 V402 M1726.64 393.4 V402 M1736.48 393.4 V402 M1751.56 393.4 V402 M1754.18 393.4 V402 M1757.46 393.4 V402 M1765.98 393.4 V402 M1768.61 393.4 V402 M1775.82 393.4 V402 M1778.44 393.4 V402 M1781.72 393.4 V402 M1784.34 393.4 V402 M1787.62 393.4 V402 M1801.39 380.95 V389.55 M1804.02 380.95 V389.55 M1810.57 380.95 V389.55 M1815.82 380.95 V389.55 M1832.54 367.83 V376.43 M1835.82 367.83 V376.43 M1841.39 367.83 V376.43 M1845.66 367.83 V376.43 M1852.21 367.83 V376.43 M1855.49 367.83 V376.43 M1866.97 367.83 V376.43 M1869.59 367.83 V376.43 M1881.72 367.83 V376.43 M1889.26 367.83 V376.43 M1893.2 367.83 V376.43 M1899.75 367.83 V376.43 M1903.69 367.83 V376.43 M1906.97 367.83 V376.43 M1910.25 367.83 V376.43 M1912.87 367.83 V376.43 M1932.54 367.83 V376.43 M1936.48 367.83 V376.43 M1938.44 367.83 V376.43 M1968.61 367.83 V376.43 M1975.82 367.83 V376.43 M1997.46 367.83 V376.43 M2000.74 367.83 V376.43 M2012.87 367.83 V376.43 M2040.74 367.83 V376.43 M2054.51 367.83 V376.43 M2058.77 367.83 V376.43 M2083.36 367.83 V376.43 M2087.3 367.83 V376.43 M2099.1 367.83 V376.43 M2101.39 367.83 V376.43" fill="none" stroke="#ee746b" stroke-width="1.8"/>
<path d="M1680.41 409.18 H1704.67 V384.26 H1721.07 V359.02 H1743.36 V331.8 H1785 V291.8 H1846.64 V240.98 H2104.67 V240.98" fill="none" stroke="#20b4ba" stroke-width="3.1" stroke-linejoin="miter"/>
<path d="M1738.44 354.72 V363.32 M1748.93 327.5 V336.1 M1753.85 327.5 V336.1 M1758.77 327.5 V336.1 M1766.31 327.5 V336.1 M1775.16 327.5 V336.1 M1807.3 287.5 V296.1 M1834.84 287.5 V296.1 M1845 287.5 V296.1 M1862.05 236.68 V245.28 M1864.34 236.68 V245.28 M1925 236.68 V245.28 M1931.89 236.68 V245.28 M1934.18 236.68 V245.28 M1980.08 236.68 V245.28 M1991.56 236.68 V245.28 M1996.48 236.68 V245.28 M2101.39 236.68 V245.28" fill="none" stroke="#20b4ba" stroke-width="1.8"/>
<text x="1678.4" y="100" font-size="24.03" fill="#231f20" stroke="#231f20" stroke-width="0.41" textLength="319" lengthAdjust="spacingAndGlyphs">1-yr NRM (P=0.012, log-rank)</text>
<text x="1678.4" y="129.5" font-size="24.03" fill="#20b4ba" stroke="#20b4ba" stroke-width="0.41" textLength="254" lengthAdjust="spacingAndGlyphs"><tspan font-size="72%" dy="-0.09em">•</tspan><tspan dy="0.065em" dx="0.1em"> 18.6% (95% CI: 0–34)</tspan></text>
<text x="1678.4" y="159" font-size="24.03" fill="#ee746b" stroke="#ee746b" stroke-width="0.41" textLength="248" lengthAdjust="spacingAndGlyphs"><tspan font-size="72%" dy="-0.09em">•</tspan><tspan dy="0.065em" dx="0.1em"> 3.9% (95% CI: 0–8.3)</tspan></text>
<text x="1678.4" y="199" font-size="24.03" fill="#231f20" stroke="#231f20" stroke-width="0.41" textLength="399" lengthAdjust="spacingAndGlyphs">HR: 4.7 (95% CI: 1.2–17.4; P=0.022)</text>
<text x="2100.4" y="270.5" font-size="26.65" text-anchor="end" fill="#20b4ba" stroke="#20b4ba" stroke-width="0.45" textLength="72" lengthAdjust="spacingAndGlyphs">CirAE</text>
<text x="2100.4" y="351.8" font-size="26.65" text-anchor="end" fill="#ee746b" stroke="#ee746b" stroke-width="0.45" textLength="116" lengthAdjust="spacingAndGlyphs">No CirAE</text></g>
<g><text x="17" y="670.6" font-size="38.66" fill="#231f20" stroke="#231f20" stroke-width="0.66" font-weight="bold">e</text>
<text x="109" y="670.6" font-size="30.83" fill="#231f20" stroke="#231f20" stroke-width="0.52" textLength="250" lengthAdjust="spacingAndGlyphs">M-spike (cilta-cel)</text>
<text x="246.6" y="711.7" font-size="26.12" text-anchor="middle" fill="#231f20" stroke="#231f20" stroke-width="0.44" textLength="83" lengthAdjust="spacingAndGlyphs">p=0.41</text>
<path d="M189.7 752.8 V723.4 H309.2 V897.6" fill="none" stroke="#000" stroke-width="2.3"/>
<line x1="112.9" y1="720.3" x2="112.9" y2="1075.2" stroke="#000" stroke-width="2.2"/>
<line x1="94.8" y1="1074.3" x2="388.9" y2="1074.3" stroke="#000" stroke-width="2.2"/>
<line x1="94.8" y1="1074.3" x2="112.9" y2="1074.3" stroke="#000" stroke-width="2.2"/>
<text x="88" y="1082.9" font-size="25.08" text-anchor="end" stroke="#000" stroke-width="0.43" textLength="14" lengthAdjust="spacingAndGlyphs">0</text>
<line x1="94.8" y1="1003.68" x2="112.9" y2="1003.68" stroke="#000" stroke-width="2.2"/>
<text x="88" y="1012.28" font-size="25.08" text-anchor="end" stroke="#000" stroke-width="0.43" textLength="14" lengthAdjust="spacingAndGlyphs">2</text>
<line x1="94.8" y1="933.06" x2="112.9" y2="933.06" stroke="#000" stroke-width="2.2"/>
<text x="88" y="941.66" font-size="25.08" text-anchor="end" stroke="#000" stroke-width="0.43" textLength="14" lengthAdjust="spacingAndGlyphs">4</text>
<line x1="94.8" y1="862.44" x2="112.9" y2="862.44" stroke="#000" stroke-width="2.2"/>
<text x="88" y="871.04" font-size="25.08" text-anchor="end" stroke="#000" stroke-width="0.43" textLength="14" lengthAdjust="spacingAndGlyphs">6</text>
<line x1="94.8" y1="791.82" x2="112.9" y2="791.82" stroke="#000" stroke-width="2.2"/>
<text x="88" y="800.42" font-size="25.08" text-anchor="end" stroke="#000" stroke-width="0.43" textLength="14" lengthAdjust="spacingAndGlyphs">8</text>
<line x1="94.8" y1="721.2" x2="112.9" y2="721.2" stroke="#000" stroke-width="2.2"/>
<text x="88" y="729.8" font-size="25.08" text-anchor="end" stroke="#000" stroke-width="0.43" textLength="28" lengthAdjust="spacingAndGlyphs">10</text>
<line x1="190.6" y1="1074.3" x2="190.6" y2="1089.5" stroke="#000" stroke-width="2.2"/>
<line x1="309.2" y1="1074.3" x2="309.2" y2="1089.5" stroke="#000" stroke-width="2.2"/>
<g fill="#f0726c" stroke="#111" stroke-width="1.35"><circle cx="190.6" cy="798.88" r="6.6"/><circle cx="190.6" cy="908.34" r="6.6"/><circle cx="190.6" cy="943.65" r="6.6"/><circle cx="187.76" cy="943.65" r="6.6"/><circle cx="190.6" cy="978.96" r="6.6"/><circle cx="190.6" cy="986.02" r="6.6"/><circle cx="184.3" cy="989.56" r="6.6"/><circle cx="193.75" cy="991.32" r="6.6"/><circle cx="187.45" cy="994.85" r="6.6"/><circle cx="196.9" cy="996.62" r="6.6"/><circle cx="190.6" cy="1000.15" r="6.6"/><circle cx="196.9" cy="1003.68" r="6.6"/><circle cx="190.6" cy="1007.21" r="6.6"/><circle cx="184.3" cy="1008.98" r="6.6"/><circle cx="196.9" cy="1010.74" r="6.6"/><circle cx="190.6" cy="1014.27" r="6.6"/><circle cx="196.9" cy="1017.8" r="6.6"/><circle cx="190.6" cy="1021.33" r="6.6"/><circle cx="184.3" cy="1021.33" r="6.6"/><circle cx="196.9" cy="1024.87" r="6.6"/><circle cx="190.6" cy="1028.4" r="6.6"/><circle cx="184.3" cy="1030.16" r="6.6"/><circle cx="196.9" cy="1031.93" r="6.6"/><circle cx="190.6" cy="1035.46" r="6.6"/><circle cx="196.9" cy="1038.99" r="6.6"/><circle cx="184.3" cy="1038.99" r="6.6"/><circle cx="190.6" cy="1042.52" r="6.6"/><circle cx="178" cy="1042.52" r="6.6"/><circle cx="184.3" cy="1046.05" r="6.6"/><circle cx="196.9" cy="1046.05" r="6.6"/><circle cx="203.2" cy="1046.05" r="6.6"/><circle cx="190.6" cy="1049.58" r="6.6"/><circle cx="178" cy="1049.58" r="6.6"/><circle cx="190.6" cy="1053.11" r="6.6"/><circle cx="200.05" cy="1053.11" r="6.6"/><circle cx="181.15" cy="1056.64" r="6.6"/><circle cx="209.5" cy="1056.64" r="6.6"/><circle cx="171.7" cy="1056.64" r="6.6"/><circle cx="193.75" cy="1060.18" r="6.6"/><circle cx="162.25" cy="1060.18" r="6.6"/><circle cx="218.95" cy="1060.18" r="6.6"/><circle cx="184.3" cy="1063.71" r="6.6"/><circle cx="203.2" cy="1063.71" r="6.6"/><circle cx="174.85" cy="1063.71" r="6.6"/><circle cx="199.62" cy="1063.71" r="6.6"/><circle cx="212.65" cy="1067.24" r="6.6"/><circle cx="165.4" cy="1067.24" r="6.6"/><circle cx="222.1" cy="1067.24" r="6.6"/><circle cx="179.13" cy="1067.24" r="6.6"/><circle cx="190.6" cy="1070.77" r="6.6"/><circle cx="160.64" cy="1070.77" r="6.6"/><circle cx="209.22" cy="1070.77" r="6.6"/><circle cx="190.5" cy="1070.77" r="6.6"/><circle cx="223.96" cy="1070.77" r="6.6"/><circle cx="200.05" cy="1074.3" r="6.6"/><circle cx="174.85" cy="1074.3" r="6.6"/><circle cx="203.25" cy="1074.3" r="6.6"/><circle cx="222.46" cy="1074.3" r="6.6"/><circle cx="157.49" cy="1074.3" r="6.6"/><circle cx="217.24" cy="1074.3" r="6.6"/><circle cx="181.25" cy="1074.3" r="6.6"/><circle cx="172.49" cy="1074.3" r="6.6"/><circle cx="161.15" cy="1074.3" r="6.6"/><circle cx="190.21" cy="1074.3" r="6.6"/><circle cx="161.75" cy="1074.3" r="6.6"/><circle cx="188.36" cy="1074.3" r="6.6"/><circle cx="165.66" cy="1074.3" r="6.6"/></g>
<g fill="#1ab5bb" stroke="#111" stroke-width="1.35"><circle cx="309.83" cy="922.56" r="6.6"/><circle cx="309.83" cy="964.61" r="6.6"/><circle cx="310.46" cy="1010.45" r="6.6"/><circle cx="320.9" cy="1018.36" r="6.6"/><circle cx="309.83" cy="1027.84" r="6.6"/><circle cx="287.7" cy="1049.97" r="6.6"/><circle cx="331.96" cy="1053.13" r="6.6"/><circle cx="320.9" cy="1057.88" r="6.6"/><circle cx="287.7" cy="1062.62" r="6.6"/><circle cx="276.64" cy="1074.32" r="6.6"/><circle cx="298.77" cy="1074.32" r="6.6"/><circle cx="309.83" cy="1067.36" r="6.6"/><circle cx="320.9" cy="1074.32" r="6.6"/><circle cx="331.96" cy="1068.94" r="6.6"/><circle cx="343.03" cy="1074.32" r="6.6"/></g>
<line x1="190.6" y1="1014.2" x2="190.6" y2="1066.7" stroke="#000" stroke-width="4.1"/>
<line x1="153.25" y1="1045.9" x2="227.95" y2="1045.9" stroke="#000" stroke-width="4.1" stroke-linecap="round"/>
<line x1="171.25" y1="1014.2" x2="209.95" y2="1014.2" stroke="#000" stroke-width="4.1" stroke-linecap="round"/>
<line x1="171.25" y1="1066.7" x2="209.95" y2="1066.7" stroke="#000" stroke-width="4.1" stroke-linecap="round"/>
<line x1="309.2" y1="1017.7" x2="309.2" y2="1074.3" stroke="#000" stroke-width="4.1"/>
<line x1="271.35" y1="1056.9" x2="347.05" y2="1056.9" stroke="#000" stroke-width="4.1" stroke-linecap="round"/>
<line x1="299.85" y1="1017.7" x2="318.55" y2="1017.7" stroke="#000" stroke-width="4.1" stroke-linecap="round"/>
<line x1="299.85" y1="1074.3" x2="318.55" y2="1074.3" stroke="#000" stroke-width="4.1" stroke-linecap="round"/>
<text x="190.6" y="1119.5" font-size="26.12" text-anchor="middle" stroke="#000" stroke-width="0.44" textLength="110" lengthAdjust="spacingAndGlyphs">No CirAE</text>
<text x="309.2" y="1119.5" font-size="26.12" text-anchor="middle" stroke="#000" stroke-width="0.44" textLength="68" lengthAdjust="spacingAndGlyphs">CirAE</text>
<text x="40" y="896.6" font-size="26.12" text-anchor="middle" stroke="#000" stroke-width="0.44" textLength="180" lengthAdjust="spacingAndGlyphs" transform="rotate(-90 40 896.6)">M-spike (g/dL)</text>
<rect x="326.6" y="723.7" width="184.9" height="59.1" fill="#fff" stroke="#000" stroke-width="2"/>
<circle cx="342.4" cy="741.7" r="4.9" fill="#1ab5bb" stroke="#1a1a1a" stroke-width="1"/>
<text x="367.7" y="747" font-size="17.24" fill="#20b4ba" stroke="#20b4ba" stroke-width="0.29" textLength="107" lengthAdjust="spacingAndGlyphs">CirAE (n=15)</text>
<circle cx="342.4" cy="764.5" r="4.9" fill="#f0726c" stroke="#1a1a1a" stroke-width="1"/>
<text x="367.7" y="769.5" font-size="17.24" fill="#ee746b" stroke="#ee746b" stroke-width="0.29" textLength="136" lengthAdjust="spacingAndGlyphs">No CirAE (n=67)</text></g>
<g><text x="535" y="671.5" font-size="38.66" fill="#231f20" stroke="#231f20" stroke-width="0.66" font-weight="bold">f</text>
<text x="651" y="671" font-size="30.83" fill="#231f20" stroke="#231f20" stroke-width="0.52" textLength="215" lengthAdjust="spacingAndGlyphs">dFLC (cilta-cel)</text>
<text x="785" y="711" font-size="26.12" text-anchor="middle" fill="#231f20" stroke="#231f20" stroke-width="0.44" textLength="88" lengthAdjust="spacingAndGlyphs">P=0.54</text>
<path d="M728.2 748.5 V724.3 H847.2 V802" fill="none" stroke="#000" stroke-width="2.3"/>
<g fill="#f0726c" stroke="#111" stroke-width="1.35"><circle cx="727.2" cy="775.61" r="6.5"/><circle cx="727.2" cy="803.53" r="6.5"/><circle cx="714.8" cy="806.5" r="6.5"/><circle cx="739.6" cy="809.47" r="6.5"/><circle cx="727.2" cy="819.2" r="6.5"/><circle cx="714.8" cy="820.16" r="6.5"/><circle cx="739.6" cy="824.09" r="6.5"/><circle cx="705.5" cy="828.43" r="6.5"/><circle cx="727.2" cy="832.35" r="6.5"/><circle cx="739.6" cy="835.94" r="6.5"/><circle cx="717.9" cy="839.26" r="6.5"/><circle cx="705.5" cy="842.36" r="6.5"/><circle cx="730.3" cy="845.27" r="6.5"/><circle cx="742.7" cy="848.02" r="6.5"/><circle cx="714.8" cy="850.64" r="6.5"/><circle cx="755.1" cy="853.13" r="6.5"/><circle cx="702.4" cy="855.53" r="6.5"/><circle cx="727.2" cy="857.83" r="6.5"/><circle cx="739.6" cy="860.05" r="6.5"/><circle cx="714.8" cy="862.19" r="6.5"/><circle cx="752" cy="864.27" r="6.5"/><circle cx="696.2" cy="866.29" r="6.5"/><circle cx="729.61" cy="868.26" r="6.5"/><circle cx="700.6" cy="870.18" r="6.5"/><circle cx="742.7" cy="872.05" r="6.5"/><circle cx="717.9" cy="873.88" r="6.5"/><circle cx="755.1" cy="875.67" r="6.5"/><circle cx="747.51" cy="877.44" r="6.5"/><circle cx="733.4" cy="879.16" r="6.5"/><circle cx="708.6" cy="880.87" r="6.5"/><circle cx="696.2" cy="882.54" r="6.5"/><circle cx="716.4" cy="884.19" r="6.5"/><circle cx="761.3" cy="885.82" r="6.5"/><circle cx="743.07" cy="887.43" r="6.5"/><circle cx="727.2" cy="889.01" r="6.5"/><circle cx="700.81" cy="890.59" r="6.5"/><circle cx="720.39" cy="892.14" r="6.5"/><circle cx="760.2" cy="893.68" r="6.5"/><circle cx="716.48" cy="895.21" r="6.5"/><circle cx="712.19" cy="896.73" r="6.5"/><circle cx="736.5" cy="898.24" r="6.5"/><circle cx="748.9" cy="899.73" r="6.5"/><circle cx="696.2" cy="901.22" r="6.5"/><circle cx="725.37" cy="902.71" r="6.5"/><circle cx="717.19" cy="904.18" r="6.5"/><circle cx="761.3" cy="905.65" r="6.5"/><circle cx="695.96" cy="907.12" r="6.5"/><circle cx="702.25" cy="908.58" r="6.5"/><circle cx="736.5" cy="910.04" r="6.5"/><circle cx="748.9" cy="911.5" r="6.5"/><circle cx="701.98" cy="912.96" r="6.5"/><circle cx="724.1" cy="914.42" r="6.5"/><circle cx="700.87" cy="915.88" r="6.5"/><circle cx="761.3" cy="917.35" r="6.5"/><circle cx="744.25" cy="918.81" r="6.5"/><circle cx="711.7" cy="920.28" r="6.5"/><circle cx="702.06" cy="921.76" r="6.5"/><circle cx="733.4" cy="923.24" r="6.5"/><circle cx="716.3" cy="924.73" r="6.5"/><circle cx="719.68" cy="926.23" r="6.5"/><circle cx="752" cy="927.73" r="6.5"/><circle cx="693.1" cy="929.25" r="6.5"/><circle cx="740.72" cy="930.78" r="6.5"/><circle cx="707.79" cy="932.32" r="6.5"/><circle cx="739.6" cy="933.88" r="6.5"/><circle cx="727.2" cy="935.45" r="6.5"/><circle cx="761.3" cy="937.04" r="6.5"/><circle cx="695.53" cy="938.65" r="6.5"/><circle cx="713.8" cy="940.27" r="6.5"/><circle cx="748.9" cy="941.92" r="6.5"/><circle cx="699.53" cy="943.6" r="6.5"/><circle cx="733.4" cy="945.3" r="6.5"/><circle cx="741.64" cy="947.03" r="6.5"/><circle cx="758.2" cy="948.79" r="6.5"/><circle cx="721" cy="950.58" r="6.5"/><circle cx="708.6" cy="952.42" r="6.5"/><circle cx="693.1" cy="954.29" r="6.5"/><circle cx="748.9" cy="956.21" r="6.5"/><circle cx="730.3" cy="958.17" r="6.5"/><circle cx="761.3" cy="960.19" r="6.5"/><circle cx="717.9" cy="962.27" r="6.5"/><circle cx="705.5" cy="964.42" r="6.5"/><circle cx="739.6" cy="966.64" r="6.5"/><circle cx="752" cy="968.94" r="6.5"/><circle cx="727.2" cy="971.33" r="6.5"/><circle cx="714.8" cy="973.83" r="6.5"/><circle cx="699.3" cy="975.2" r="6.5"/><circle cx="761.3" cy="977.57" r="6.5"/><circle cx="736.5" cy="979.95" r="6.5"/><circle cx="748.9" cy="980.54" r="6.5"/><circle cx="719.94" cy="981.14" r="6.5"/><circle cx="711.66" cy="981.73" r="6.5"/><circle cx="745.44" cy="982.32" r="6.5"/><circle cx="761.38" cy="983.51" r="6.5"/><circle cx="740.79" cy="984.7" r="6.5"/><circle cx="727.2" cy="994.8" r="6.5"/><circle cx="714.8" cy="996.58" r="6.5"/><circle cx="739.6" cy="998.36" r="6.5"/><circle cx="727.2" cy="1009.65" r="6.5"/><circle cx="727.2" cy="1022.72" r="6.5"/></g>
<g fill="#1ab5bb" stroke="#111" stroke-width="1.35"><circle cx="829.84" cy="828.85" r="6.5"/><circle cx="863.28" cy="834.75" r="6.5"/><circle cx="846.89" cy="845.25" r="6.5"/><circle cx="829.84" cy="849.51" r="6.5"/><circle cx="813.44" cy="857.7" r="6.5"/><circle cx="880.66" cy="859.34" r="6.5"/><circle cx="829.84" cy="863.61" r="6.5"/><circle cx="863.28" cy="863.61" r="6.5"/><circle cx="838.03" cy="877.38" r="6.5"/><circle cx="829.84" cy="899.67" r="6.5"/><circle cx="813.44" cy="906.89" r="6.5"/><circle cx="863.28" cy="906.89" r="6.5"/><circle cx="880.66" cy="906.89" r="6.5"/><circle cx="863.28" cy="918.36" r="6.5"/><circle cx="846.89" cy="923.28" r="6.5"/><circle cx="846.89" cy="960" r="6.5"/><circle cx="854.43" cy="977.38" r="6.5"/><circle cx="838.03" cy="983.28" r="6.5"/><circle cx="863.28" cy="999.34" r="6.5"/><circle cx="846.89" cy="1009.18" r="6.5"/><circle cx="829.84" cy="1023.28" r="6.5"/><circle cx="863.28" cy="1020.66" r="6.5"/></g>
<g fill="#9451b0" stroke="#111" stroke-width="1.35"><circle cx="854.43" cy="879.02" r="6.5"/></g>
<line x1="727.2" y1="865.2" x2="727.2" y2="957.7" stroke="#000" stroke-width="4.1"/>
<line x1="689.55" y1="911.1" x2="764.85" y2="911.1" stroke="#000" stroke-width="4.1" stroke-linecap="round"/>
<line x1="708.35" y1="865.2" x2="746.05" y2="865.2" stroke="#000" stroke-width="4.1" stroke-linecap="round"/>
<line x1="708.35" y1="957.7" x2="746.05" y2="957.7" stroke="#000" stroke-width="4.1" stroke-linecap="round"/>
<line x1="846.9" y1="860.3" x2="846.9" y2="967.5" stroke="#000" stroke-width="4.1"/>
<line x1="809.55" y1="901.3" x2="884.25" y2="901.3" stroke="#000" stroke-width="4.1" stroke-linecap="round"/>
<line x1="837.55" y1="860.3" x2="856.25" y2="860.3" stroke="#000" stroke-width="4.1" stroke-linecap="round"/>
<line x1="837.55" y1="967.5" x2="856.25" y2="967.5" stroke="#000" stroke-width="4.1" stroke-linecap="round"/>
<line x1="647.9" y1="716.5" x2="647.9" y2="1075" stroke="#000" stroke-width="2.2"/>
<line x1="631.5" y1="1074" x2="926.6" y2="1074" stroke="#000" stroke-width="2.2"/>
<line x1="631.5" y1="1073.8" x2="647.9" y2="1073.8" stroke="#000" stroke-width="2.2"/>
<text x="626" y="1083.3" font-size="25.08" text-anchor="end" stroke="#000" stroke-width="0.43">10<tspan font-size="68%" dy="-0.59em">-1</tspan></text>
<line x1="631.5" y1="1014.4" x2="647.9" y2="1014.4" stroke="#000" stroke-width="2.2"/>
<text x="626" y="1023.9" font-size="25.08" text-anchor="end" stroke="#000" stroke-width="0.43">10<tspan font-size="68%" dy="-0.59em">0</tspan></text>
<line x1="631.5" y1="955" x2="647.9" y2="955" stroke="#000" stroke-width="2.2"/>
<text x="626" y="964.5" font-size="25.08" text-anchor="end" stroke="#000" stroke-width="0.43">10<tspan font-size="68%" dy="-0.59em">1</tspan></text>
<line x1="631.5" y1="895.6" x2="647.9" y2="895.6" stroke="#000" stroke-width="2.2"/>
<text x="626" y="905.1" font-size="25.08" text-anchor="end" stroke="#000" stroke-width="0.43">10<tspan font-size="68%" dy="-0.59em">2</tspan></text>
<line x1="631.5" y1="836.2" x2="647.9" y2="836.2" stroke="#000" stroke-width="2.2"/>
<text x="626" y="845.7" font-size="25.08" text-anchor="end" stroke="#000" stroke-width="0.43">10<tspan font-size="68%" dy="-0.59em">3</tspan></text>
<line x1="631.5" y1="776.8" x2="647.9" y2="776.8" stroke="#000" stroke-width="2.2"/>
<text x="626" y="786.3" font-size="25.08" text-anchor="end" stroke="#000" stroke-width="0.43">10<tspan font-size="68%" dy="-0.59em">4</tspan></text>
<line x1="631.5" y1="717.4" x2="647.9" y2="717.4" stroke="#000" stroke-width="2.2"/>
<text x="626" y="726.9" font-size="25.08" text-anchor="end" stroke="#000" stroke-width="0.43">10<tspan font-size="68%" dy="-0.59em">5</tspan></text>
<line x1="727.2" y1="1074" x2="727.2" y2="1088.9" stroke="#000" stroke-width="2.2"/>
<line x1="846.9" y1="1074" x2="846.9" y2="1088.9" stroke="#000" stroke-width="2.2"/>
<text x="727.2" y="1120" font-size="26.12" text-anchor="middle" stroke="#000" stroke-width="0.44" textLength="110" lengthAdjust="spacingAndGlyphs">No CirAE</text>
<text x="846.9" y="1120" font-size="26.12" text-anchor="middle" stroke="#000" stroke-width="0.44" textLength="68" lengthAdjust="spacingAndGlyphs">CirAE</text>
<text x="555" y="897" font-size="26.12" text-anchor="middle" stroke="#000" stroke-width="0.44" textLength="172" lengthAdjust="spacingAndGlyphs" transform="rotate(-90 555 897)">dFLC (mg/dL)</text>
<rect x="864.3" y="722.6" width="195" height="81" fill="#fff" stroke="#000" stroke-width="2"/>
<circle cx="880.7" cy="739.7" r="4.9" fill="#9451b0" stroke="#1a1a1a" stroke-width="1"/>
<text x="905.9" y="745.2" font-size="17.24" fill="#9451b0" stroke="#9451b0" stroke-width="0.29" textLength="86" lengthAdjust="spacingAndGlyphs">Cilta-cel#4</text>
<circle cx="880.7" cy="762.6" r="4.9" fill="#1ab5bb" stroke="#1a1a1a" stroke-width="1"/>
<text x="905.9" y="768.2" font-size="17.24" fill="#20b4ba" stroke="#20b4ba" stroke-width="0.29" textLength="107" lengthAdjust="spacingAndGlyphs">CirAE (n=24)</text>
<circle cx="880.7" cy="784.9" r="4.9" fill="#f0726c" stroke="#1a1a1a" stroke-width="1"/>
<text x="905.9" y="790.5" font-size="17.24" fill="#ee746b" stroke="#ee746b" stroke-width="0.29" textLength="146" lengthAdjust="spacingAndGlyphs">No CirAE (n=100)</text></g>
<g><text x="1093" y="669.8" font-size="38.66" fill="#231f20" stroke="#231f20" stroke-width="0.66" font-weight="bold">g</text>
<text x="1200" y="669.8" font-size="30.83" fill="#231f20" stroke="#231f20" stroke-width="0.52" textLength="205" lengthAdjust="spacingAndGlyphs">CRS (cilta-cel)</text>
<text x="1308.4" y="706.2" font-size="26.12" text-anchor="middle" fill="#231f20" stroke="#231f20" stroke-width="0.44" textLength="88" lengthAdjust="spacingAndGlyphs">P=0.78</text>
<path d="M1249.6 736.3 V717.5 H1371.6 V736.3" fill="none" stroke="#000" stroke-width="1.6"/>
<rect x="1211.4" y="937.97" width="76.7" height="41.53" fill="#70bb7d" stroke="#000" stroke-width="2.8"/>
<rect x="1211.4" y="759.09" width="76.7" height="178.88" fill="#f6ad4a" stroke="#000" stroke-width="2.8"/>
<rect x="1211.4" y="742.4" width="76.7" height="16.69" fill="#a48fcd" stroke="#000" stroke-width="2.8"/>
<rect x="1331.8" y="952.28" width="76.1" height="27.22" fill="#70bb7d" stroke="#000" stroke-width="2.8"/>
<rect x="1331.8" y="751.94" width="76.1" height="200.34" fill="#f6ad4a" stroke="#000" stroke-width="2.8"/>
<rect x="1331.8" y="742.4" width="76.1" height="9.54" fill="#a48fcd" stroke="#000" stroke-width="2.8"/>
<line x1="1170.5" y1="691.7" x2="1170.5" y2="981.2" stroke="#000" stroke-width="3.2"/>
<line x1="1157.5" y1="979.5" x2="1449.7" y2="979.5" stroke="#000" stroke-width="3.4"/>
<line x1="1157.5" y1="979.5" x2="1170.5" y2="979.5" stroke="#000" stroke-width="3.2"/>
<text x="1152" y="987.1" font-size="22.47" text-anchor="end" stroke="#000" stroke-width="0.38" textLength="29" lengthAdjust="spacingAndGlyphs">0.0</text>
<line x1="1157.5" y1="931.8" x2="1170.5" y2="931.8" stroke="#000" stroke-width="3.2"/>
<text x="1152" y="939.4" font-size="22.47" text-anchor="end" stroke="#000" stroke-width="0.38" textLength="29" lengthAdjust="spacingAndGlyphs">0.2</text>
<line x1="1157.5" y1="884.1" x2="1170.5" y2="884.1" stroke="#000" stroke-width="3.2"/>
<text x="1152" y="891.7" font-size="22.47" text-anchor="end" stroke="#000" stroke-width="0.38" textLength="29" lengthAdjust="spacingAndGlyphs">0.4</text>
<line x1="1157.5" y1="836.4" x2="1170.5" y2="836.4" stroke="#000" stroke-width="3.2"/>
<text x="1152" y="844" font-size="22.47" text-anchor="end" stroke="#000" stroke-width="0.38" textLength="29" lengthAdjust="spacingAndGlyphs">0.6</text>
<line x1="1157.5" y1="788.7" x2="1170.5" y2="788.7" stroke="#000" stroke-width="3.2"/>
<text x="1152" y="796.3" font-size="22.47" text-anchor="end" stroke="#000" stroke-width="0.38" textLength="29" lengthAdjust="spacingAndGlyphs">0.8</text>
<line x1="1157.5" y1="741" x2="1170.5" y2="741" stroke="#000" stroke-width="3.2"/>
<text x="1152" y="748.6" font-size="22.47" text-anchor="end" stroke="#000" stroke-width="0.38" textLength="29" lengthAdjust="spacingAndGlyphs">1.0</text>
<line x1="1157.5" y1="693.3" x2="1170.5" y2="693.3" stroke="#000" stroke-width="3.2"/>
<text x="1152" y="700.9" font-size="22.47" text-anchor="end" stroke="#000" stroke-width="0.38" textLength="29" lengthAdjust="spacingAndGlyphs">1.2</text>
<line x1="1249.6" y1="979.5" x2="1249.6" y2="991.7" stroke="#000" stroke-width="3.2"/>
<line x1="1369.8" y1="979.5" x2="1369.8" y2="991.7" stroke="#000" stroke-width="3.2"/>
<text x="1249.6" y="1015" font-size="22.47" text-anchor="middle" stroke="#000" stroke-width="0.38" textLength="90" lengthAdjust="spacingAndGlyphs">No CirAE</text>
<text x="1369.8" y="1015" font-size="22.47" text-anchor="middle" stroke="#000" stroke-width="0.38" textLength="56" lengthAdjust="spacingAndGlyphs">CirAE</text>
<text x="1110" y="835.5" font-size="22.47" text-anchor="middle" stroke="#000" stroke-width="0.38" textLength="217" lengthAdjust="spacingAndGlyphs" transform="rotate(-90 1110 835.5)">Proportion of patients</text>
<rect x="1220" y="1026" width="229.7" height="26.8" fill="#e6e6e6"/>
<rect x="1092" y="1052.8" width="128" height="27.7" fill="#70bb7d"/>
<rect x="1092" y="1080.5" width="128" height="27.8" fill="#f6ad4a"/>
<rect x="1092" y="1108.3" width="128" height="27.5" fill="#a48fcd"/>
<path d="M1220 1026 H1449.7 M1092 1052.8 H1449.7 M1092 1080.5 H1449.7 M1092 1108.3 H1449.7 M1092 1135.8 H1449.7 M1092 1052.8 V1135.8 M1220 1026 V1135.8 M1334 1026 V1135.8 M1449.7 1026 V1135.8" fill="none" stroke="#1a1a1a" stroke-width="1.9"/>
<text x="1277" y="1046.53" font-size="20.69" text-anchor="middle" fill="#111" stroke="#111" stroke-width="0.35">No CirAE</text>
<text x="1391.85" y="1046.53" font-size="20.69" text-anchor="middle" fill="#111" stroke="#111" stroke-width="0.35">CirAE</text>
<text x="1156" y="1073.78" font-size="20.69" text-anchor="middle" fill="#111" stroke="#111" stroke-width="0.35">Grade 0</text>
<text x="1277" y="1073.78" font-size="20.69" text-anchor="middle" fill="#111" stroke="#111" stroke-width="0.35">18 (18%)</text>
<text x="1391.85" y="1073.78" font-size="20.69" text-anchor="middle" fill="#111" stroke="#111" stroke-width="0.35">3 (12%)</text>
<text x="1156" y="1101.53" font-size="20.69" text-anchor="middle" fill="#111" stroke="#111" stroke-width="0.35">Grades 1–2</text>
<text x="1277" y="1101.53" font-size="20.69" text-anchor="middle" fill="#111" stroke="#111" stroke-width="0.35">75 (75%)</text>
<text x="1391.85" y="1101.53" font-size="20.69" text-anchor="middle" fill="#111" stroke="#111" stroke-width="0.35">21 (84%)</text>
<text x="1156" y="1129.18" font-size="20.69" text-anchor="middle" fill="#111" stroke="#111" stroke-width="0.35">Grades 3–5</text>
<text x="1277" y="1129.18" font-size="20.69" text-anchor="middle" fill="#111" stroke="#111" stroke-width="0.35">7 (7%)</text>
<text x="1391.85" y="1129.18" font-size="20.69" text-anchor="middle" fill="#111" stroke="#111" stroke-width="0.35">1 (4%)</text></g>
<g><text x="1536" y="671" font-size="38.66" fill="#231f20" stroke="#231f20" stroke-width="0.66" font-weight="bold">h</text>
<text x="1728.5" y="671" font-size="30.83" fill="#231f20" stroke="#231f20" stroke-width="0.52" textLength="234" lengthAdjust="spacingAndGlyphs">ICANS (cilta-cel)</text>
<text x="1747.4" y="706" font-size="26.12" text-anchor="middle" fill="#231f20" stroke="#231f20" stroke-width="0.44" textLength="104" lengthAdjust="spacingAndGlyphs">P=0.044</text>
<text x="1985.3" y="706" font-size="26.12" text-anchor="middle" fill="#231f20" stroke="#231f20" stroke-width="0.44" textLength="104" lengthAdjust="spacingAndGlyphs">P=0.013</text>
<path d="M1685.8 736 V718.2 H1807.8 V736" fill="none" stroke="#000" stroke-width="1.6"/>
<path d="M1923.7 736 V718.2 H2045.7 V736" fill="none" stroke="#000" stroke-width="1.6"/>
<rect x="1651.4" y="767.87" width="74.5" height="211.63" fill="#70bb7d" stroke="#000" stroke-width="2.8"/>
<rect x="1651.4" y="746.57" width="74.5" height="21.3" fill="#f6ad4a" stroke="#000" stroke-width="2.8"/>
<rect x="1651.4" y="744.2" width="74.5" height="2.37" fill="#a48fcd" stroke="#000" stroke-width="2.8"/>
<rect x="1769.5" y="810.48" width="73.9" height="169.02" fill="#70bb7d" stroke="#000" stroke-width="2.8"/>
<rect x="1769.5" y="753.67" width="73.9" height="56.81" fill="#f6ad4a" stroke="#000" stroke-width="2.8"/>
<rect x="1769.5" y="744.2" width="73.9" height="9.47" fill="#a48fcd" stroke="#000" stroke-width="2.8"/>
<rect x="1887.7" y="827.76" width="74.6" height="151.74" fill="#70bb7d" stroke="#000" stroke-width="2.8"/>
<rect x="1887.7" y="744.2" width="74.6" height="83.56" fill="#f6ad4a" stroke="#000" stroke-width="2.8"/>
<rect x="2006.4" y="768.34" width="74.5" height="211.16" fill="#70bb7d" stroke="#000" stroke-width="2.8"/>
<rect x="2006.4" y="748.7" width="74.5" height="19.65" fill="#f6ad4a" stroke="#000" stroke-width="2.8"/>
<rect x="2006.4" y="744.2" width="74.5" height="4.5" fill="#a48fcd" stroke="#000" stroke-width="2.8"/>
<line x1="1609.5" y1="693.2" x2="1609.5" y2="981.8" stroke="#000" stroke-width="4.5"/>
<line x1="1594.4" y1="979.5" x2="2122.4" y2="979.5" stroke="#000" stroke-width="4.6"/>
<line x1="1594.4" y1="979.5" x2="1609.5" y2="979.5" stroke="#000" stroke-width="4.5"/>
<text x="1590" y="987.1" font-size="22.47" text-anchor="end" stroke="#000" stroke-width="0.38" textLength="29" lengthAdjust="spacingAndGlyphs">0.0</text>
<line x1="1594.4" y1="932.16" x2="1609.5" y2="932.16" stroke="#000" stroke-width="4.5"/>
<text x="1590" y="939.76" font-size="22.47" text-anchor="end" stroke="#000" stroke-width="0.38" textLength="29" lengthAdjust="spacingAndGlyphs">0.2</text>
<line x1="1594.4" y1="884.82" x2="1609.5" y2="884.82" stroke="#000" stroke-width="4.5"/>
<text x="1590" y="892.42" font-size="22.47" text-anchor="end" stroke="#000" stroke-width="0.38" textLength="29" lengthAdjust="spacingAndGlyphs">0.4</text>
<line x1="1594.4" y1="837.48" x2="1609.5" y2="837.48" stroke="#000" stroke-width="4.5"/>
<text x="1590" y="845.08" font-size="22.47" text-anchor="end" stroke="#000" stroke-width="0.38" textLength="29" lengthAdjust="spacingAndGlyphs">0.6</text>
<line x1="1594.4" y1="790.14" x2="1609.5" y2="790.14" stroke="#000" stroke-width="4.5"/>
<text x="1590" y="797.74" font-size="22.47" text-anchor="end" stroke="#000" stroke-width="0.38" textLength="29" lengthAdjust="spacingAndGlyphs">0.8</text>
<line x1="1594.4" y1="742.8" x2="1609.5" y2="742.8" stroke="#000" stroke-width="4.5"/>
<text x="1590" y="750.4" font-size="22.47" text-anchor="end" stroke="#000" stroke-width="0.38" textLength="29" lengthAdjust="spacingAndGlyphs">1.0</text>
<line x1="1594.4" y1="695.46" x2="1609.5" y2="695.46" stroke="#000" stroke-width="4.5"/>
<text x="1590" y="703.06" font-size="22.47" text-anchor="end" stroke="#000" stroke-width="0.38" textLength="29" lengthAdjust="spacingAndGlyphs">1.2</text>
<line x1="1687.7" y1="979.5" x2="1687.7" y2="992" stroke="#000" stroke-width="4.5"/>
<line x1="1806.6" y1="979.5" x2="1806.6" y2="992" stroke="#000" stroke-width="4.5"/>
<line x1="1924.8" y1="979.5" x2="1924.8" y2="992" stroke="#000" stroke-width="4.5"/>
<line x1="2043" y1="979.5" x2="2043" y2="992" stroke="#000" stroke-width="4.5"/>
<text x="1687.7" y="1015.8" font-size="22.47" text-anchor="middle" stroke="#000" stroke-width="0.38" textLength="90" lengthAdjust="spacingAndGlyphs">No CirAE</text>
<text x="1806.6" y="1015.8" font-size="22.47" text-anchor="middle" stroke="#000" stroke-width="0.38" textLength="56" lengthAdjust="spacingAndGlyphs">CirAE</text>
<text x="1924.8" y="1015.8" font-size="22.47" text-anchor="middle" stroke="#000" stroke-width="0.38" textLength="59" lengthAdjust="spacingAndGlyphs">Neuro</text>
<text x="2043" y="1015.8" font-size="22.47" text-anchor="middle" stroke="#000" stroke-width="0.38" textLength="89" lengthAdjust="spacingAndGlyphs">No neuro</text>
<text x="1548.5" y="837" font-size="22.47" text-anchor="middle" stroke="#000" stroke-width="0.38" textLength="215" lengthAdjust="spacingAndGlyphs" transform="rotate(-90 1548.5 837)">Proportion of patients</text>
<rect x="1663.1" y="1024" width="452.5" height="28.4" fill="#e6e6e6"/>
<rect x="1534.7" y="1052.4" width="128.4" height="29.1" fill="#70bb7d"/>
<rect x="1534.7" y="1081.5" width="128.4" height="27.5" fill="#f6ad4a"/>
<rect x="1534.7" y="1109" width="128.4" height="27.2" fill="#a48fcd"/>
<path d="M1663.1 1024 H2115.6 M1534.7 1052.4 H2115.6 M1534.7 1081.5 H2115.6 M1534.7 1109 H2115.6 M1534.7 1136.2 H2115.6 M1534.7 1052.4 V1136.2 M1663.1 1024 V1136.2 M1780.2 1024 V1136.2 M1892 1024 V1136.2 M2003.4 1024 V1136.2 M2115.6 1024 V1136.2" fill="none" stroke="#1a1a1a" stroke-width="1.9"/>
<text x="1721.65" y="1045.33" font-size="20.69" text-anchor="middle" fill="#111" stroke="#111" stroke-width="0.35">No CirAE</text>
<text x="1836.1" y="1045.33" font-size="20.69" text-anchor="middle" fill="#111" stroke="#111" stroke-width="0.35">CirAE</text>
<text x="1947.7" y="1045.33" font-size="20.69" text-anchor="middle" fill="#111" stroke="#111" stroke-width="0.35">Neuro</text>
<text x="2059.5" y="1045.33" font-size="20.69" text-anchor="middle" fill="#111" stroke="#111" stroke-width="0.35">No neuro</text>
<text x="1598.9" y="1074.08" font-size="20.69" text-anchor="middle" fill="#111" stroke="#111" stroke-width="0.35">Grade 0</text>
<text x="1721.65" y="1074.08" font-size="20.69" text-anchor="middle" fill="#111" stroke="#111" stroke-width="0.35">90 (90%)</text>
<text x="1836.1" y="1074.08" font-size="20.69" text-anchor="middle" fill="#111" stroke="#111" stroke-width="0.35">18 (72%)</text>
<text x="1947.7" y="1074.08" font-size="20.69" text-anchor="middle" fill="#111" stroke="#111" stroke-width="0.35">11 (64.7%)</text>
<text x="2059.5" y="1074.08" font-size="20.69" text-anchor="middle" fill="#111" stroke="#111" stroke-width="0.35">97 (89.8%)</text>
<text x="1598.9" y="1102.38" font-size="20.69" text-anchor="middle" fill="#111" stroke="#111" stroke-width="0.35">Grades 1–2</text>
<text x="1721.65" y="1102.38" font-size="20.69" text-anchor="middle" fill="#111" stroke="#111" stroke-width="0.35">9 (9%)</text>
<text x="1836.1" y="1102.38" font-size="20.69" text-anchor="middle" fill="#111" stroke="#111" stroke-width="0.35">6 (24%)</text>
<text x="1947.7" y="1102.38" font-size="20.69" text-anchor="middle" fill="#111" stroke="#111" stroke-width="0.35">6 (35.2%)</text>
<text x="2059.5" y="1102.38" font-size="20.69" text-anchor="middle" fill="#111" stroke="#111" stroke-width="0.35">9 (8.3%)</text>
<text x="1598.9" y="1129.73" font-size="20.69" text-anchor="middle" fill="#111" stroke="#111" stroke-width="0.35">Grades 3–4</text>
<text x="1721.65" y="1129.73" font-size="20.69" text-anchor="middle" fill="#111" stroke="#111" stroke-width="0.35">1 (1%)</text>
<text x="1836.1" y="1129.73" font-size="20.69" text-anchor="middle" fill="#111" stroke="#111" stroke-width="0.35">1 (4%)</text>
<text x="1947.7" y="1129.73" font-size="20.69" text-anchor="middle" fill="#111" stroke="#111" stroke-width="0.35">0</text>
<text x="2059.5" y="1129.73" font-size="20.69" text-anchor="middle" fill="#111" stroke="#111" stroke-width="0.35">2 (1.9%)</text></g>
<g><text x="7" y="1208.7" font-size="38.66" fill="#231f20" stroke="#231f20" stroke-width="0.66" font-weight="bold">i</text>
<text x="128" y="1208.7" font-size="30.83" fill="#231f20" stroke="#231f20" stroke-width="0.52" textLength="746" lengthAdjust="spacingAndGlyphs">Absolute lymphocyte count (ALC) by CirAE (cilta-cel)</text>
<clipPath id="ci"><rect x="142" y="1225" width="850" height="220.5"/></clipPath>
<g clip-path="url(#ci)">
<path d="M155.3 1337.47 L184.48 1400.49 L213.66 1403.53 L242.84 1394.4 L272.02 1383.74 L301.2 1377.66 L330.38 1380.7 L359.56 1379.18 L388.74 1376.13 L417.92 1360.91 L447.1 1335.04 L476.28 1286.33 L505.46 1269.59 L534.64 1251.32 L563.82 1255.89 L593 1254.37 L622.18 1307.64 L651.36 1307.64 L680.54 1309.16 L709.72 1303.07 L738.9 1290.9 L768.08 1330.47 L797.26 1315.25 L826.44 1307.64 L855.62 1309.16 L884.8 1252.24 L913.98 1265.02 L943.16 1301.55 L972.34 1307.64 L972.34 1371.57 L943.16 1354.82 L913.98 1370.05 L884.8 1400.49 L855.62 1345.69 L826.44 1357.87 L797.26 1396.83 L768.08 1354.82 L738.9 1357.87 L709.72 1392.88 L680.54 1385.27 L651.36 1351.78 L622.18 1386.79 L593 1386.79 L563.82 1386.79 L534.64 1388.31 L505.46 1354.82 L476.28 1342.65 L447.1 1379.18 L417.92 1510.08 L388.74 1409.62 L359.56 1417.23 L330.38 1410.23 L301.2 1429.41 L272.02 1412.66 L242.84 1494.86 L213.66 1525.3 L184.48 1525.3 L155.3 1346.3 Z" fill="#c1eaee"/>
<path d="M155.3 1338.08 L184.48 1398.96 L213.66 1402.01 L242.84 1389.83 L272.02 1382.22 L301.2 1377.66 L330.38 1379.79 L359.56 1376.13 L388.74 1376.74 L417.92 1368.52 L447.1 1350.26 L476.28 1328.95 L505.46 1313.73 L534.64 1309.16 L563.82 1311.29 L593 1324.38 L622.18 1333.52 L651.36 1325.91 L680.54 1339.6 L709.72 1330.47 L738.9 1335.04 L768.08 1325.91 L797.26 1339.6 L826.44 1328.95 L855.62 1331.99 L884.8 1345.69 L913.98 1338.08 L943.16 1342.65 L972.34 1341.74 L972.34 1356.35 L943.16 1354.82 L913.98 1353.3 L884.8 1359.39 L855.62 1354.82 L826.44 1398.96 L797.26 1360.91 L768.08 1348.74 L738.9 1400.49 L709.72 1357.87 L680.54 1357.87 L651.36 1342.65 L622.18 1348.74 L593 1342.65 L563.82 1335.04 L534.64 1338.08 L505.46 1342.65 L476.28 1342.65 L447.1 1359.39 L417.92 1376.74 L388.74 1384.35 L359.56 1383.74 L330.38 1387.7 L301.2 1387.7 L272.02 1393.79 L242.84 1403.53 L213.66 1416.32 L184.48 1414.19 L155.3 1344.78 Z" fill="#f6a9a6" fill-opacity="0.55"/>
</g>
<clipPath id="cit"><path d="M155.3 1337.47 L184.48 1400.49 L213.66 1403.53 L242.84 1394.4 L272.02 1383.74 L301.2 1377.66 L330.38 1380.7 L359.56 1379.18 L388.74 1376.13 L417.92 1360.91 L447.1 1335.04 L476.28 1286.33 L505.46 1269.59 L534.64 1251.32 L563.82 1255.89 L593 1254.37 L622.18 1307.64 L651.36 1307.64 L680.54 1309.16 L709.72 1303.07 L738.9 1290.9 L768.08 1330.47 L797.26 1315.25 L826.44 1307.64 L855.62 1309.16 L884.8 1252.24 L913.98 1265.02 L943.16 1301.55 L972.34 1307.64 L972.34 1371.57 L943.16 1354.82 L913.98 1370.05 L884.8 1400.49 L855.62 1345.69 L826.44 1357.87 L797.26 1396.83 L768.08 1354.82 L738.9 1357.87 L709.72 1392.88 L680.54 1385.27 L651.36 1351.78 L622.18 1386.79 L593 1386.79 L563.82 1386.79 L534.64 1388.31 L505.46 1354.82 L476.28 1342.65 L447.1 1379.18 L417.92 1510.08 L388.74 1409.62 L359.56 1417.23 L330.38 1410.23 L301.2 1429.41 L272.02 1412.66 L242.84 1494.86 L213.66 1525.3 L184.48 1525.3 L155.3 1346.3 Z"/></clipPath>
<g clip-path="url(#ci)"><g clip-path="url(#cit)"><path d="M155.3 1338.08 L184.48 1398.96 L213.66 1402.01 L242.84 1389.83 L272.02 1382.22 L301.2 1377.66 L330.38 1379.79 L359.56 1376.13 L388.74 1376.74 L417.92 1368.52 L447.1 1350.26 L476.28 1328.95 L505.46 1313.73 L534.64 1309.16 L563.82 1311.29 L593 1324.38 L622.18 1333.52 L651.36 1325.91 L680.54 1339.6 L709.72 1330.47 L738.9 1335.04 L768.08 1325.91 L797.26 1339.6 L826.44 1328.95 L855.62 1331.99 L884.8 1345.69 L913.98 1338.08 L943.16 1342.65 L972.34 1341.74 L972.34 1356.35 L943.16 1354.82 L913.98 1353.3 L884.8 1359.39 L855.62 1354.82 L826.44 1398.96 L797.26 1360.91 L768.08 1348.74 L738.9 1400.49 L709.72 1357.87 L680.54 1357.87 L651.36 1342.65 L622.18 1348.74 L593 1342.65 L563.82 1335.04 L534.64 1338.08 L505.46 1342.65 L476.28 1342.65 L447.1 1359.39 L417.92 1376.74 L388.74 1384.35 L359.56 1383.74 L330.38 1387.7 L301.2 1387.7 L272.02 1393.79 L242.84 1403.53 L213.66 1416.32 L184.48 1414.19 L155.3 1344.78 Z" fill="#d0d0d0"/></g></g>
<line x1="359.56" y1="1240" x2="359.56" y2="1445.5" stroke="#222" stroke-width="1.1" stroke-dasharray="3.2 3"/>
<text x="359.56" y="1249" font-size="31.35" text-anchor="middle" font-weight="bold" letter-spacing="1.5">*</text>
<line x1="505.46" y1="1262" x2="505.46" y2="1445.5" stroke="#222" stroke-width="1.1" stroke-dasharray="3.2 3"/>
<text x="505.46" y="1271" font-size="31.35" text-anchor="middle" font-weight="bold" letter-spacing="1.5">***</text>
<line x1="534.64" y1="1240" x2="534.64" y2="1445.5" stroke="#222" stroke-width="1.1" stroke-dasharray="3.2 3"/>
<text x="534.64" y="1249" font-size="31.35" text-anchor="middle" font-weight="bold" letter-spacing="1.5">**</text>
<line x1="593" y1="1240" x2="593" y2="1445.5" stroke="#222" stroke-width="1.1" stroke-dasharray="3.2 3"/>
<text x="593" y="1249" font-size="31.35" text-anchor="middle" font-weight="bold" letter-spacing="1.5">*</text>
<line x1="680.54" y1="1240" x2="680.54" y2="1445.5" stroke="#222" stroke-width="1.1" stroke-dasharray="3.2 3"/>
<text x="680.54" y="1249" font-size="31.35" text-anchor="middle" font-weight="bold" letter-spacing="1.5">**</text>
<line x1="738.9" y1="1262" x2="738.9" y2="1445.5" stroke="#222" stroke-width="1.1" stroke-dasharray="3.2 3"/>
<text x="738.9" y="1271" font-size="31.35" text-anchor="middle" font-weight="bold" letter-spacing="1.5">*</text>
<line x1="855.62" y1="1240" x2="855.62" y2="1445.5" stroke="#222" stroke-width="1.1" stroke-dasharray="3.2 3"/>
<text x="855.62" y="1249" font-size="31.35" text-anchor="middle" font-weight="bold" letter-spacing="1.5">*</text>
<line x1="913.98" y1="1240" x2="913.98" y2="1445.5" stroke="#222" stroke-width="1.1" stroke-dasharray="3.2 3"/>
<text x="913.98" y="1249" font-size="31.35" text-anchor="middle" font-weight="bold" letter-spacing="1.5">*</text>
<path d="M155.3 1342.65 L184.48 1418.75 L213.66 1420.27 L242.84 1410.23 L272.02 1395.01 L301.2 1389.83 L330.38 1393.79 L359.56 1391.96 L388.74 1388.31 L417.92 1370.05 L447.1 1347.21 L476.28 1308.25 L505.46 1291.81 L534.64 1274.16 L563.82 1277.2 L593 1278.72 L622.18 1322.86 L651.36 1320.73 L680.54 1325.91 L709.72 1320.73 L738.9 1310.68 L768.08 1342.65 L797.26 1328.04 L826.44 1326.51 L855.62 1322.25 L884.8 1281.77 L913.98 1292.42 L943.16 1323.77 L972.34 1326.21" fill="none" stroke="#1fb3ba" stroke-width="3.9" stroke-linejoin="round"/>
<g fill="#19b2b9" stroke="#1a1a1a" stroke-width="1"><circle cx="155.3" cy="1342.65" r="5.9"/><circle cx="184.48" cy="1418.75" r="5.9"/><circle cx="213.66" cy="1420.27" r="5.9"/><circle cx="242.84" cy="1410.23" r="5.9"/><circle cx="272.02" cy="1395.01" r="5.9"/><circle cx="301.2" cy="1389.83" r="5.9"/><circle cx="330.38" cy="1393.79" r="5.9"/><circle cx="359.56" cy="1391.96" r="5.9"/><circle cx="388.74" cy="1388.31" r="5.9"/><circle cx="417.92" cy="1370.05" r="5.9"/><circle cx="447.1" cy="1347.21" r="5.9"/><circle cx="476.28" cy="1308.25" r="5.9"/><circle cx="505.46" cy="1291.81" r="5.9"/><circle cx="534.64" cy="1274.16" r="5.9"/><circle cx="563.82" cy="1277.2" r="5.9"/><circle cx="593" cy="1278.72" r="5.9"/><circle cx="622.18" cy="1322.86" r="5.9"/><circle cx="651.36" cy="1320.73" r="5.9"/><circle cx="680.54" cy="1325.91" r="5.9"/><circle cx="709.72" cy="1320.73" r="5.9"/><circle cx="738.9" cy="1310.68" r="5.9"/><circle cx="768.08" cy="1342.65" r="5.9"/><circle cx="797.26" cy="1328.04" r="5.9"/><circle cx="826.44" cy="1326.51" r="5.9"/><circle cx="855.62" cy="1322.25" r="5.9"/><circle cx="884.8" cy="1281.77" r="5.9"/><circle cx="913.98" cy="1292.42" r="5.9"/><circle cx="943.16" cy="1323.77" r="5.9"/><circle cx="972.34" cy="1326.21" r="5.9"/></g>
<path d="M155.3 1341.74 L184.48 1408.71 L213.66 1410.23 L242.84 1397.44 L272.02 1388.31 L301.2 1382.83 L330.38 1383.14 L359.56 1379.18 L388.74 1379.79 L417.92 1372.18 L447.1 1353.91 L476.28 1335.04 L505.46 1325.91 L534.64 1319.82 L563.82 1321.64 L593 1334.12 L622.18 1341.74 L651.36 1332.91 L680.54 1349.35 L709.72 1339 L738.9 1345.69 L768.08 1335.65 L797.26 1348.74 L826.44 1336.56 L855.62 1339.6 L884.8 1354.22 L913.98 1343.56 L943.16 1348.74 L972.34 1348.13" fill="none" stroke="#ee5f5d" stroke-width="3.9" stroke-linejoin="round"/>
<g fill="#ee5f5d" stroke="#1a1a1a" stroke-width="1"><circle cx="155.3" cy="1341.74" r="5.9"/><circle cx="184.48" cy="1408.71" r="5.9"/><circle cx="213.66" cy="1410.23" r="5.9"/><circle cx="242.84" cy="1397.44" r="5.9"/><circle cx="272.02" cy="1388.31" r="5.9"/><circle cx="301.2" cy="1382.83" r="5.9"/><circle cx="330.38" cy="1383.14" r="5.9"/><circle cx="359.56" cy="1379.18" r="5.9"/><circle cx="388.74" cy="1379.79" r="5.9"/><circle cx="417.92" cy="1372.18" r="5.9"/><circle cx="447.1" cy="1353.91" r="5.9"/><circle cx="476.28" cy="1335.04" r="5.9"/><circle cx="505.46" cy="1325.91" r="5.9"/><circle cx="534.64" cy="1319.82" r="5.9"/><circle cx="563.82" cy="1321.64" r="5.9"/><circle cx="593" cy="1334.12" r="5.9"/><circle cx="622.18" cy="1341.74" r="5.9"/><circle cx="651.36" cy="1332.91" r="5.9"/><circle cx="680.54" cy="1349.35" r="5.9"/><circle cx="709.72" cy="1339" r="5.9"/><circle cx="738.9" cy="1345.69" r="5.9"/><circle cx="768.08" cy="1335.65" r="5.9"/><circle cx="797.26" cy="1348.74" r="5.9"/><circle cx="826.44" cy="1336.56" r="5.9"/><circle cx="855.62" cy="1339.6" r="5.9"/><circle cx="884.8" cy="1354.22" r="5.9"/><circle cx="913.98" cy="1343.56" r="5.9"/><circle cx="943.16" cy="1348.74" r="5.9"/><circle cx="972.34" cy="1348.13" r="5.9"/></g>
<line x1="141" y1="1228.2" x2="141" y2="1446.5" stroke="#000" stroke-width="1.9"/>
<line x1="126.3" y1="1445.5" x2="986.8" y2="1445.5" stroke="#000" stroke-width="1.9"/>
<line x1="126.3" y1="1445.7" x2="141" y2="1445.7" stroke="#000" stroke-width="1.9"/>
<text x="122" y="1454.2" font-size="23.51" text-anchor="end" stroke="#000" stroke-width="0.4">10<tspan font-size="68%" dy="-0.59em">-2</tspan></text>
<line x1="126.3" y1="1391.6" x2="141" y2="1391.6" stroke="#000" stroke-width="1.9"/>
<text x="122" y="1400.1" font-size="23.51" text-anchor="end" stroke="#000" stroke-width="0.4">10<tspan font-size="68%" dy="-0.59em">-1</tspan></text>
<line x1="126.3" y1="1337.5" x2="141" y2="1337.5" stroke="#000" stroke-width="1.9"/>
<text x="122" y="1346" font-size="23.51" text-anchor="end" stroke="#000" stroke-width="0.4">10<tspan font-size="68%" dy="-0.59em">0</tspan></text>
<line x1="126.3" y1="1283.4" x2="141" y2="1283.4" stroke="#000" stroke-width="1.9"/>
<text x="122" y="1291.9" font-size="23.51" text-anchor="end" stroke="#000" stroke-width="0.4">10<tspan font-size="68%" dy="-0.59em">1</tspan></text>
<line x1="126.3" y1="1229.3" x2="141" y2="1229.3" stroke="#000" stroke-width="1.9"/>
<text x="122" y="1237.8" font-size="23.51" text-anchor="end" stroke="#000" stroke-width="0.4">10<tspan font-size="68%" dy="-0.59em">2</tspan></text>
<line x1="155.3" y1="1445.5" x2="155.3" y2="1459.8" stroke="#000" stroke-width="1.9"/>
<text x="163.8" y="1470.5" font-size="20.9" text-anchor="end" stroke="#000" stroke-width="0.36" textLength="104.4" lengthAdjust="spacingAndGlyphs" transform="rotate(-45 163.8 1470.5)">Apheresis</text>
<line x1="184.48" y1="1445.5" x2="184.48" y2="1459.8" stroke="#000" stroke-width="1.9"/>
<text x="192.98" y="1470.5" font-size="20.9" text-anchor="end" stroke="#000" stroke-width="0.36" textLength="61.4" lengthAdjust="spacingAndGlyphs" transform="rotate(-45 192.98 1470.5)">Day 0</text>
<line x1="213.66" y1="1445.5" x2="213.66" y2="1459.8" stroke="#000" stroke-width="1.9"/>
<text x="222.16" y="1470.5" font-size="20.9" text-anchor="end" stroke="#000" stroke-width="0.36" textLength="61.4" lengthAdjust="spacingAndGlyphs" transform="rotate(-45 222.16 1470.5)">Day 1</text>
<line x1="242.84" y1="1445.5" x2="242.84" y2="1459.8" stroke="#000" stroke-width="1.9"/>
<text x="251.34" y="1470.5" font-size="20.9" text-anchor="end" stroke="#000" stroke-width="0.36" textLength="61.4" lengthAdjust="spacingAndGlyphs" transform="rotate(-45 251.34 1470.5)">Day 2</text>
<line x1="272.02" y1="1445.5" x2="272.02" y2="1459.8" stroke="#000" stroke-width="1.9"/>
<text x="280.52" y="1470.5" font-size="20.9" text-anchor="end" stroke="#000" stroke-width="0.36" textLength="61.4" lengthAdjust="spacingAndGlyphs" transform="rotate(-45 280.52 1470.5)">Day 3</text>
<line x1="301.2" y1="1445.5" x2="301.2" y2="1459.8" stroke="#000" stroke-width="1.9"/>
<text x="309.7" y="1470.5" font-size="20.9" text-anchor="end" stroke="#000" stroke-width="0.36" textLength="61.4" lengthAdjust="spacingAndGlyphs" transform="rotate(-45 309.7 1470.5)">Day 4</text>
<line x1="330.38" y1="1445.5" x2="330.38" y2="1459.8" stroke="#000" stroke-width="1.9"/>
<text x="338.88" y="1470.5" font-size="20.9" text-anchor="end" stroke="#000" stroke-width="0.36" textLength="61.4" lengthAdjust="spacingAndGlyphs" transform="rotate(-45 338.88 1470.5)">Day 5</text>
<line x1="359.56" y1="1445.5" x2="359.56" y2="1459.8" stroke="#000" stroke-width="1.9"/>
<text x="368.06" y="1470.5" font-size="20.9" text-anchor="end" stroke="#000" stroke-width="0.36" textLength="61.4" lengthAdjust="spacingAndGlyphs" transform="rotate(-45 368.06 1470.5)">Day 6</text>
<line x1="388.74" y1="1445.5" x2="388.74" y2="1459.8" stroke="#000" stroke-width="1.9"/>
<text x="397.24" y="1470.5" font-size="20.9" text-anchor="end" stroke="#000" stroke-width="0.36" textLength="61.4" lengthAdjust="spacingAndGlyphs" transform="rotate(-45 397.24 1470.5)">Day 7</text>
<line x1="417.92" y1="1445.5" x2="417.92" y2="1459.8" stroke="#000" stroke-width="1.9"/>
<text x="426.42" y="1470.5" font-size="20.9" text-anchor="end" stroke="#000" stroke-width="0.36" textLength="61.4" lengthAdjust="spacingAndGlyphs" transform="rotate(-45 426.42 1470.5)">Day 8</text>
<line x1="447.1" y1="1445.5" x2="447.1" y2="1459.8" stroke="#000" stroke-width="1.9"/>
<text x="455.6" y="1470.5" font-size="20.9" text-anchor="end" stroke="#000" stroke-width="0.36" textLength="61.4" lengthAdjust="spacingAndGlyphs" transform="rotate(-45 455.6 1470.5)">Day 9</text>
<line x1="476.28" y1="1445.5" x2="476.28" y2="1459.8" stroke="#000" stroke-width="1.9"/>
<text x="484.78" y="1470.5" font-size="20.9" text-anchor="end" stroke="#000" stroke-width="0.36" textLength="74.4" lengthAdjust="spacingAndGlyphs" transform="rotate(-45 484.78 1470.5)">Day 10</text>
<line x1="505.46" y1="1445.5" x2="505.46" y2="1459.8" stroke="#000" stroke-width="1.9"/>
<text x="513.96" y="1470.5" font-size="20.9" text-anchor="end" stroke="#000" stroke-width="0.36" textLength="74.4" lengthAdjust="spacingAndGlyphs" transform="rotate(-45 513.96 1470.5)">Day 11</text>
<line x1="534.64" y1="1445.5" x2="534.64" y2="1459.8" stroke="#000" stroke-width="1.9"/>
<text x="543.14" y="1470.5" font-size="20.9" text-anchor="end" stroke="#000" stroke-width="0.36" textLength="74.4" lengthAdjust="spacingAndGlyphs" transform="rotate(-45 543.14 1470.5)">Day 12</text>
<line x1="563.82" y1="1445.5" x2="563.82" y2="1459.8" stroke="#000" stroke-width="1.9"/>
<text x="572.32" y="1470.5" font-size="20.9" text-anchor="end" stroke="#000" stroke-width="0.36" textLength="74.4" lengthAdjust="spacingAndGlyphs" transform="rotate(-45 572.32 1470.5)">Day 13</text>
<line x1="593" y1="1445.5" x2="593" y2="1459.8" stroke="#000" stroke-width="1.9"/>
<text x="601.5" y="1470.5" font-size="20.9" text-anchor="end" stroke="#000" stroke-width="0.36" textLength="74.4" lengthAdjust="spacingAndGlyphs" transform="rotate(-45 601.5 1470.5)">Day 14</text>
<line x1="622.18" y1="1445.5" x2="622.18" y2="1459.8" stroke="#000" stroke-width="1.9"/>
<text x="630.68" y="1470.5" font-size="20.9" text-anchor="end" stroke="#000" stroke-width="0.36" textLength="74.4" lengthAdjust="spacingAndGlyphs" transform="rotate(-45 630.68 1470.5)">Day 15</text>
<line x1="651.36" y1="1445.5" x2="651.36" y2="1459.8" stroke="#000" stroke-width="1.9"/>
<text x="659.86" y="1470.5" font-size="20.9" text-anchor="end" stroke="#000" stroke-width="0.36" textLength="74.4" lengthAdjust="spacingAndGlyphs" transform="rotate(-45 659.86 1470.5)">Day 16</text>
<line x1="680.54" y1="1445.5" x2="680.54" y2="1459.8" stroke="#000" stroke-width="1.9"/>
<text x="689.04" y="1470.5" font-size="20.9" text-anchor="end" stroke="#000" stroke-width="0.36" textLength="74.4" lengthAdjust="spacingAndGlyphs" transform="rotate(-45 689.04 1470.5)">Day 17</text>
<line x1="709.72" y1="1445.5" x2="709.72" y2="1459.8" stroke="#000" stroke-width="1.9"/>
<text x="718.22" y="1470.5" font-size="20.9" text-anchor="end" stroke="#000" stroke-width="0.36" textLength="74.4" lengthAdjust="spacingAndGlyphs" transform="rotate(-45 718.22 1470.5)">Day 18</text>
<line x1="738.9" y1="1445.5" x2="738.9" y2="1459.8" stroke="#000" stroke-width="1.9"/>
<text x="747.4" y="1470.5" font-size="20.9" text-anchor="end" stroke="#000" stroke-width="0.36" textLength="74.4" lengthAdjust="spacingAndGlyphs" transform="rotate(-45 747.4 1470.5)">Day 19</text>
<line x1="768.08" y1="1445.5" x2="768.08" y2="1459.8" stroke="#000" stroke-width="1.9"/>
<text x="776.58" y="1470.5" font-size="20.9" text-anchor="end" stroke="#000" stroke-width="0.36" textLength="74.4" lengthAdjust="spacingAndGlyphs" transform="rotate(-45 776.58 1470.5)">Day 20</text>
<line x1="797.26" y1="1445.5" x2="797.26" y2="1459.8" stroke="#000" stroke-width="1.9"/>
<text x="805.76" y="1470.5" font-size="20.9" text-anchor="end" stroke="#000" stroke-width="0.36" textLength="74.4" lengthAdjust="spacingAndGlyphs" transform="rotate(-45 805.76 1470.5)">Day 21</text>
<line x1="826.44" y1="1445.5" x2="826.44" y2="1459.8" stroke="#000" stroke-width="1.9"/>
<text x="834.94" y="1470.5" font-size="20.9" text-anchor="end" stroke="#000" stroke-width="0.36" textLength="74.4" lengthAdjust="spacingAndGlyphs" transform="rotate(-45 834.94 1470.5)">Day 22</text>
<line x1="855.62" y1="1445.5" x2="855.62" y2="1459.8" stroke="#000" stroke-width="1.9"/>
<text x="864.12" y="1470.5" font-size="20.9" text-anchor="end" stroke="#000" stroke-width="0.36" textLength="74.4" lengthAdjust="spacingAndGlyphs" transform="rotate(-45 864.12 1470.5)">Day 23</text>
<line x1="884.8" y1="1445.5" x2="884.8" y2="1459.8" stroke="#000" stroke-width="1.9"/>
<text x="893.3" y="1470.5" font-size="20.9" text-anchor="end" stroke="#000" stroke-width="0.36" textLength="74.4" lengthAdjust="spacingAndGlyphs" transform="rotate(-45 893.3 1470.5)">Day 24</text>
<line x1="913.98" y1="1445.5" x2="913.98" y2="1459.8" stroke="#000" stroke-width="1.9"/>
<text x="922.48" y="1470.5" font-size="20.9" text-anchor="end" stroke="#000" stroke-width="0.36" textLength="74.4" lengthAdjust="spacingAndGlyphs" transform="rotate(-45 922.48 1470.5)">Day 28</text>
<line x1="943.16" y1="1445.5" x2="943.16" y2="1459.8" stroke="#000" stroke-width="1.9"/>
<text x="951.66" y="1470.5" font-size="20.9" text-anchor="end" stroke="#000" stroke-width="0.36" textLength="84.9" lengthAdjust="spacingAndGlyphs" transform="rotate(-45 951.66 1470.5)">Month 3</text>
<line x1="972.34" y1="1445.5" x2="972.34" y2="1459.8" stroke="#000" stroke-width="1.9"/>
<text x="980.84" y="1470.5" font-size="20.9" text-anchor="end" stroke="#000" stroke-width="0.36" textLength="84.9" lengthAdjust="spacingAndGlyphs" transform="rotate(-45 980.84 1470.5)">Month 6</text>
<text x="73" y="1339.6" font-size="22.47" text-anchor="middle" stroke="#000" stroke-width="0.38" textLength="186" lengthAdjust="spacingAndGlyphs" transform="rotate(-90 73 1339.6)">ALC (cells x 10<tspan font-size="68%" dy="-0.59em">3</tspan><tspan dy="0.4em">/µL)</tspan></text></g>
<g><text x="382" y="1555" font-size="30.83" fill="#231f20" stroke="#231f20" stroke-width="0.52" textLength="337" lengthAdjust="spacingAndGlyphs">ALC<tspan font-size="53%" dy="-0.79em">Peak</tspan><tspan dy="0.42em"> by CirAE (cilta-cel)</tspan></text>
<rect x="138.8" y="1690.09" width="842" height="34.71" fill="#fdefda"/>
<line x1="138.8" y1="1690.09" x2="980.8" y2="1690.09" stroke="#000" stroke-width="3" stroke-dasharray="0.1 5.6" stroke-linecap="round"/>
<line x1="138.8" y1="1724.8" x2="980.8" y2="1724.8" stroke="#000" stroke-width="3" stroke-dasharray="0.1 5.6" stroke-linecap="round"/>
<line x1="305.3" y1="1659.4" x2="305.3" y2="1970" stroke="#777" stroke-width="1" stroke-dasharray="3 2.6"/>
<line x1="138.8" y1="1571" x2="138.8" y2="1827.8" stroke="#000" stroke-width="1.9"/>
<line x1="125.4" y1="1826.8" x2="980.8" y2="1826.8" stroke="#000" stroke-width="1.9"/>
<line x1="125.4" y1="1826.7" x2="138.8" y2="1826.7" stroke="#000" stroke-width="1.9"/>
<text x="121.5" y="1834.9" font-size="22.47" text-anchor="end" stroke="#000" stroke-width="0.38">10<tspan font-size="68%" dy="-0.59em">-2</tspan></text>
<line x1="125.4" y1="1775.75" x2="138.8" y2="1775.75" stroke="#000" stroke-width="1.9"/>
<text x="121.5" y="1783.95" font-size="22.47" text-anchor="end" stroke="#000" stroke-width="0.38">10<tspan font-size="68%" dy="-0.59em">-1</tspan></text>
<line x1="125.4" y1="1724.8" x2="138.8" y2="1724.8" stroke="#000" stroke-width="1.9"/>
<text x="121.5" y="1733" font-size="22.47" text-anchor="end" stroke="#000" stroke-width="0.38">10<tspan font-size="68%" dy="-0.59em">0</tspan></text>
<line x1="125.4" y1="1673.85" x2="138.8" y2="1673.85" stroke="#000" stroke-width="1.9"/>
<text x="121.5" y="1682.05" font-size="22.47" text-anchor="end" stroke="#000" stroke-width="0.38">10<tspan font-size="68%" dy="-0.59em">1</tspan></text>
<line x1="125.4" y1="1622.9" x2="138.8" y2="1622.9" stroke="#000" stroke-width="1.9"/>
<text x="121.5" y="1631.1" font-size="22.47" text-anchor="end" stroke="#000" stroke-width="0.38">10<tspan font-size="68%" dy="-0.59em">2</tspan></text>
<line x1="125.4" y1="1571.95" x2="138.8" y2="1571.95" stroke="#000" stroke-width="1.9"/>
<text x="121.5" y="1580.15" font-size="22.47" text-anchor="end" stroke="#000" stroke-width="0.38">10<tspan font-size="68%" dy="-0.59em">3</tspan></text>
<g fill="#f0726c" stroke="#111" stroke-width="1.15"><circle cx="186.3" cy="1696.78" r="4.9"/><circle cx="186.3" cy="1701.87" r="4.9"/><circle cx="181.4" cy="1704.01" r="4.9"/><circle cx="188.75" cy="1706.05" r="4.9"/><circle cx="193.65" cy="1707.66" r="4.9"/><circle cx="183.85" cy="1709" r="4.9"/><circle cx="178.95" cy="1710.16" r="4.9"/><circle cx="188.75" cy="1711.18" r="4.9"/><circle cx="193.65" cy="1712.11" r="4.9"/><circle cx="198.55" cy="1712.96" r="4.9"/><circle cx="183.85" cy="1713.75" r="4.9"/><circle cx="176.5" cy="1714.48" r="4.9"/><circle cx="171.6" cy="1715.17" r="4.9"/><circle cx="188.75" cy="1715.83" r="4.9"/><circle cx="203.45" cy="1716.45" r="4.9"/><circle cx="193.65" cy="1717.04" r="4.9"/><circle cx="181.4" cy="1717.61" r="4.9"/><circle cx="198.55" cy="1718.15" r="4.9"/><circle cx="166.7" cy="1718.68" r="4.9"/><circle cx="176.5" cy="1719.19" r="4.9"/><circle cx="186.3" cy="1719.68" r="4.9"/><circle cx="171.6" cy="1720.16" r="4.9"/><circle cx="205.9" cy="1720.63" r="4.9"/><circle cx="191.2" cy="1721.08" r="4.9"/><circle cx="171.49" cy="1721.53" r="4.9"/><circle cx="196.1" cy="1721.96" r="4.9"/><circle cx="181.4" cy="1722.39" r="4.9"/><circle cx="201" cy="1722.81" r="4.9"/><circle cx="166.7" cy="1723.22" r="4.9"/><circle cx="176.5" cy="1723.62" r="4.9"/><circle cx="178.82" cy="1724.02" r="4.9"/><circle cx="186.3" cy="1724.41" r="4.9"/><circle cx="208.35" cy="1724.8" r="4.9"/><circle cx="204.29" cy="1725.18" r="4.9"/><circle cx="191.2" cy="1725.56" r="4.9"/><circle cx="169.05" cy="1725.93" r="4.9"/><circle cx="173.46" cy="1726.3" r="4.9"/><circle cx="196.1" cy="1726.67" r="4.9"/><circle cx="164.25" cy="1727.03" r="4.9"/><circle cx="193.1" cy="1727.39" r="4.9"/><circle cx="181.4" cy="1727.75" r="4.9"/><circle cx="166.8" cy="1728.11" r="4.9"/><circle cx="201" cy="1728.46" r="4.9"/><circle cx="183.97" cy="1728.82" r="4.9"/><circle cx="198.54" cy="1729.17" r="4.9"/><circle cx="188.75" cy="1729.52" r="4.9"/><circle cx="176.5" cy="1729.87" r="4.9"/><circle cx="205.9" cy="1730.22" r="4.9"/><circle cx="171.6" cy="1730.57" r="4.9"/><circle cx="176.54" cy="1730.91" r="4.9"/><circle cx="179.39" cy="1731.26" r="4.9"/><circle cx="176.53" cy="1731.61" r="4.9"/><circle cx="193.65" cy="1731.96" r="4.9"/><circle cx="164.25" cy="1732.31" r="4.9"/><circle cx="183.48" cy="1732.66" r="4.9"/><circle cx="201" cy="1733.01" r="4.9"/><circle cx="198.86" cy="1733.37" r="4.9"/><circle cx="196.46" cy="1733.72" r="4.9"/><circle cx="188.75" cy="1734.08" r="4.9"/><circle cx="169.15" cy="1734.44" r="4.9"/><circle cx="205.9" cy="1734.8" r="4.9"/><circle cx="165.8" cy="1735.16" r="4.9"/><circle cx="174.05" cy="1735.53" r="4.9"/><circle cx="178.95" cy="1735.9" r="4.9"/><circle cx="194.7" cy="1736.27" r="4.9"/><circle cx="208.71" cy="1736.65" r="4.9"/><circle cx="206.21" cy="1737.03" r="4.9"/><circle cx="183.85" cy="1737.42" r="4.9"/><circle cx="201" cy="1737.81" r="4.9"/><circle cx="173.48" cy="1738.21" r="4.9"/><circle cx="188.75" cy="1738.61" r="4.9"/><circle cx="184.25" cy="1739.02" r="4.9"/><circle cx="169.15" cy="1739.44" r="4.9"/><circle cx="164.25" cy="1739.87" r="4.9"/><circle cx="195.42" cy="1740.3" r="4.9"/><circle cx="178.95" cy="1740.75" r="4.9"/><circle cx="208.35" cy="1741.2" r="4.9"/><circle cx="203.45" cy="1741.67" r="4.9"/><circle cx="173.66" cy="1742.15" r="4.9"/><circle cx="191.2" cy="1742.64" r="4.9"/><circle cx="186.3" cy="1743.15" r="4.9"/><circle cx="198.55" cy="1743.68" r="4.9"/><circle cx="169.15" cy="1744.22" r="4.9"/><circle cx="181.4" cy="1744.79" r="4.9"/><circle cx="205.9" cy="1745.38" r="4.9"/><circle cx="176.5" cy="1746" r="4.9"/><circle cx="193.65" cy="1746.65" r="4.9"/><circle cx="188.75" cy="1747.34" r="4.9"/><circle cx="171.6" cy="1748.08" r="4.9"/><circle cx="183.85" cy="1748.87" r="4.9"/><circle cx="178.95" cy="1749.72" r="4.9"/><circle cx="196.1" cy="1750.64" r="4.9"/><circle cx="191.2" cy="1751.67" r="4.9"/><circle cx="186.3" cy="1752.83" r="4.9"/><circle cx="181.4" cy="1754.17" r="4.9"/><circle cx="193.65" cy="1755.78" r="4.9"/><circle cx="186.3" cy="1757.82" r="4.9"/><circle cx="186.3" cy="1775.75" r="4.9"/><circle cx="191.2" cy="1775.75" r="4.9"/><circle cx="186.3" cy="1826.7" r="4.9"/></g>
<g fill="#1ab5bb" stroke="#111" stroke-width="1.15"><circle cx="258.8" cy="1708.77" r="4.9"/><circle cx="261.25" cy="1714.97" r="4.9"/><circle cx="253.9" cy="1718.38" r="4.9"/><circle cx="266.15" cy="1720.9" r="4.9"/><circle cx="258.8" cy="1722.98" r="4.9"/><circle cx="251.45" cy="1724.79" r="4.9"/><circle cx="271.05" cy="1726.43" r="4.9"/><circle cx="263.7" cy="1727.95" r="4.9"/><circle cx="256.35" cy="1729.39" r="4.9"/><circle cx="246.55" cy="1730.77" r="4.9"/><circle cx="275.95" cy="1732.13" r="4.9"/><circle cx="268.6" cy="1733.46" r="4.9"/><circle cx="261.25" cy="1734.8" r="4.9"/><circle cx="253.9" cy="1736.15" r="4.9"/><circle cx="246.55" cy="1737.53" r="4.9"/><circle cx="273.5" cy="1738.97" r="4.9"/><circle cx="266.15" cy="1740.49" r="4.9"/><circle cx="258.8" cy="1742.13" r="4.9"/><circle cx="251.45" cy="1743.94" r="4.9"/><circle cx="271.05" cy="1746.02" r="4.9"/><circle cx="256.35" cy="1748.54" r="4.9"/><circle cx="263.7" cy="1751.29" r="4.9"/><circle cx="249" cy="1751.29" r="4.9"/></g>
<g fill="#9451b0" stroke="#111" stroke-width="1.15"><circle cx="249.1" cy="1750.78" r="4.9"/></g>
<line x1="186.3" y1="1722.69" x2="186.3" y2="1740.14" stroke="#000" stroke-width="2"/>
<line x1="157.3" y1="1730.3" x2="215.3" y2="1730.3" stroke="#000" stroke-width="2"/>
<line x1="175.3" y1="1722.69" x2="197.3" y2="1722.69" stroke="#000" stroke-width="2"/>
<line x1="175.3" y1="1740.14" x2="197.3" y2="1740.14" stroke="#000" stroke-width="2"/>
<line x1="258.8" y1="1723.1" x2="258.8" y2="1742.47" stroke="#000" stroke-width="2"/>
<line x1="229.8" y1="1736.1" x2="287.8" y2="1736.1" stroke="#000" stroke-width="2"/>
<line x1="247.8" y1="1723.1" x2="269.8" y2="1723.1" stroke="#000" stroke-width="2"/>
<line x1="247.8" y1="1742.47" x2="269.8" y2="1742.47" stroke="#000" stroke-width="2"/>
<g fill="#f0726c" stroke="#111" stroke-width="1.15"><circle cx="354.6" cy="1826.7" r="4.9"/><circle cx="359.5" cy="1826.7" r="4.9"/><circle cx="349.7" cy="1826.7" r="4.9"/><circle cx="347.25" cy="1826.7" r="4.9"/><circle cx="361.95" cy="1826.7" r="4.9"/><circle cx="366.85" cy="1826.7" r="4.9"/><circle cx="342.35" cy="1826.7" r="4.9"/><circle cx="337.45" cy="1826.7" r="4.9"/><circle cx="371.75" cy="1826.7" r="4.9"/><circle cx="374.2" cy="1826.7" r="4.9"/><circle cx="335" cy="1826.7" r="4.9"/><circle cx="360.17" cy="1826.7" r="4.9"/><circle cx="343.21" cy="1826.7" r="4.9"/><circle cx="371.23" cy="1826.7" r="4.9"/><circle cx="373.22" cy="1826.7" r="4.9"/><circle cx="347.51" cy="1826.7" r="4.9"/><circle cx="351.41" cy="1826.7" r="4.9"/><circle cx="344.06" cy="1826.7" r="4.9"/><circle cx="350.85" cy="1826.7" r="4.9"/><circle cx="343.78" cy="1826.7" r="4.9"/><circle cx="350.52" cy="1826.7" r="4.9"/><circle cx="371.39" cy="1826.7" r="4.9"/><circle cx="362.41" cy="1826.7" r="4.9"/><circle cx="371.36" cy="1826.7" r="4.9"/><circle cx="372.55" cy="1826.7" r="4.9"/><circle cx="370.47" cy="1826.7" r="4.9"/><circle cx="355.71" cy="1826.7" r="4.9"/><circle cx="365.84" cy="1826.7" r="4.9"/><circle cx="346.67" cy="1826.7" r="4.9"/><circle cx="351.83" cy="1826.7" r="4.9"/><circle cx="367.13" cy="1826.7" r="4.9"/><circle cx="363.44" cy="1826.7" r="4.9"/><circle cx="369.2" cy="1826.7" r="4.9"/><circle cx="353.22" cy="1826.7" r="4.9"/><circle cx="348.81" cy="1826.7" r="4.9"/><circle cx="357.79" cy="1826.7" r="4.9"/><circle cx="346.22" cy="1826.7" r="4.9"/><circle cx="358.14" cy="1826.7" r="4.9"/><circle cx="364.9" cy="1826.7" r="4.9"/><circle cx="346.61" cy="1826.7" r="4.9"/><circle cx="345.52" cy="1826.7" r="4.9"/><circle cx="359.78" cy="1826.7" r="4.9"/><circle cx="344.43" cy="1826.7" r="4.9"/><circle cx="340.46" cy="1826.7" r="4.9"/><circle cx="334.93" cy="1826.7" r="4.9"/><circle cx="361.12" cy="1826.7" r="4.9"/><circle cx="340.08" cy="1826.7" r="4.9"/><circle cx="369.79" cy="1826.7" r="4.9"/><circle cx="340.18" cy="1826.7" r="4.9"/><circle cx="375.45" cy="1826.7" r="4.9"/><circle cx="359.61" cy="1826.7" r="4.9"/><circle cx="369.63" cy="1826.7" r="4.9"/><circle cx="370.7" cy="1826.7" r="4.9"/><circle cx="354.52" cy="1826.7" r="4.9"/><circle cx="338.5" cy="1826.7" r="4.9"/><circle cx="364.39" cy="1826.7" r="4.9"/><circle cx="349.92" cy="1826.7" r="4.9"/><circle cx="366.73" cy="1826.7" r="4.9"/><circle cx="350.7" cy="1826.7" r="4.9"/><circle cx="345.66" cy="1826.7" r="4.9"/><circle cx="372.79" cy="1826.7" r="4.9"/><circle cx="343.85" cy="1826.7" r="4.9"/><circle cx="369.17" cy="1826.7" r="4.9"/><circle cx="347.38" cy="1826.7" r="4.9"/><circle cx="362.33" cy="1826.7" r="4.9"/><circle cx="339.39" cy="1826.7" r="4.9"/><circle cx="340.02" cy="1826.7" r="4.9"/><circle cx="373.26" cy="1826.7" r="4.9"/><circle cx="373.01" cy="1826.7" r="4.9"/><circle cx="348.55" cy="1826.7" r="4.9"/></g>
<g fill="#f0726c" stroke="#111" stroke-width="1.15"><circle cx="354.6" cy="1729.74" r="4.9"/><circle cx="354.6" cy="1736.1" r="4.9"/><circle cx="354.6" cy="1751.44" r="4.9"/><circle cx="354.6" cy="1755.47" r="4.9"/><circle cx="359.5" cy="1755.47" r="4.9"/><circle cx="354.6" cy="1760.41" r="4.9"/><circle cx="359.5" cy="1760.41" r="4.9"/><circle cx="349.7" cy="1760.41" r="4.9"/><circle cx="354.6" cy="1775.75" r="4.9"/><circle cx="349.7" cy="1775.75" r="4.9"/><circle cx="359.5" cy="1775.75" r="4.9"/><circle cx="347.51" cy="1775.75" r="4.9"/><circle cx="360.12" cy="1775.75" r="4.9"/><circle cx="356.89" cy="1775.75" r="4.9"/></g>
<g fill="#1ab5bb" stroke="#111" stroke-width="1.15"><circle cx="426.2" cy="1745.08" r="4.9"/><circle cx="426.2" cy="1775.75" r="4.9"/><circle cx="421.3" cy="1775.75" r="4.9"/><circle cx="431.1" cy="1775.75" r="4.9"/><circle cx="426.2" cy="1826.7" r="4.9"/><circle cx="421.3" cy="1826.7" r="4.9"/><circle cx="431.1" cy="1826.7" r="4.9"/><circle cx="436" cy="1826.7" r="4.9"/><circle cx="416.4" cy="1826.7" r="4.9"/><circle cx="440.9" cy="1826.7" r="4.9"/><circle cx="411.5" cy="1826.7" r="4.9"/><circle cx="406.6" cy="1826.7" r="4.9"/><circle cx="445.8" cy="1826.7" r="4.9"/><circle cx="440.21" cy="1826.7" r="4.9"/><circle cx="441.37" cy="1826.7" r="4.9"/><circle cx="412.85" cy="1826.7" r="4.9"/><circle cx="437.13" cy="1826.7" r="4.9"/><circle cx="419.16" cy="1826.7" r="4.9"/><circle cx="448.06" cy="1826.7" r="4.9"/><circle cx="424.25" cy="1826.7" r="4.9"/><circle cx="445.99" cy="1826.7" r="4.9"/><circle cx="448.17" cy="1826.7" r="4.9"/><circle cx="410.65" cy="1826.7" r="4.9"/><circle cx="438.61" cy="1826.7" r="4.9"/></g>
<g fill="#9451b0" stroke="#111" stroke-width="1.15"><circle cx="437.5" cy="1826.8" r="4.9"/></g>
<line x1="354.6" y1="1775.75" x2="354.6" y2="1826.65" stroke="#000" stroke-width="2"/>
<line x1="325.6" y1="1826.65" x2="383.6" y2="1826.65" stroke="#000" stroke-width="2"/>
<line x1="341.6" y1="1775.75" x2="367.6" y2="1775.75" stroke="#000" stroke-width="2"/>
<line x1="341.6" y1="1826.65" x2="367.6" y2="1826.65" stroke="#000" stroke-width="2"/>
<line x1="397" y1="1826.8" x2="455" y2="1826.8" stroke="#000" stroke-width="2"/>
<g fill="#f0726c" stroke="#111" stroke-width="1.15"><circle cx="523.2" cy="1775.75" r="4.9"/><circle cx="518.3" cy="1775.75" r="4.9"/><circle cx="528.1" cy="1775.75" r="4.9"/><circle cx="513.4" cy="1775.75" r="4.9"/><circle cx="533" cy="1775.75" r="4.9"/><circle cx="508.5" cy="1775.75" r="4.9"/><circle cx="537.9" cy="1775.75" r="4.9"/><circle cx="542.8" cy="1775.75" r="4.9"/><circle cx="503.6" cy="1775.75" r="4.9"/><circle cx="527.12" cy="1775.75" r="4.9"/><circle cx="507.28" cy="1775.75" r="4.9"/><circle cx="528.49" cy="1775.75" r="4.9"/><circle cx="518.7" cy="1775.75" r="4.9"/><circle cx="536.23" cy="1775.75" r="4.9"/><circle cx="535.7" cy="1775.75" r="4.9"/><circle cx="512.41" cy="1775.75" r="4.9"/><circle cx="514.65" cy="1775.75" r="4.9"/><circle cx="518.72" cy="1775.75" r="4.9"/><circle cx="535.24" cy="1775.75" r="4.9"/><circle cx="528.19" cy="1775.75" r="4.9"/><circle cx="528.73" cy="1775.75" r="4.9"/><circle cx="528.88" cy="1775.75" r="4.9"/><circle cx="521.09" cy="1775.75" r="4.9"/><circle cx="513.36" cy="1775.75" r="4.9"/><circle cx="513.51" cy="1775.75" r="4.9"/><circle cx="502.64" cy="1775.75" r="4.9"/><circle cx="504.61" cy="1775.75" r="4.9"/><circle cx="502.54" cy="1775.75" r="4.9"/><circle cx="526.02" cy="1775.75" r="4.9"/><circle cx="509.48" cy="1775.75" r="4.9"/><circle cx="529.59" cy="1775.75" r="4.9"/><circle cx="502.95" cy="1775.75" r="4.9"/><circle cx="511.13" cy="1775.75" r="4.9"/><circle cx="506.48" cy="1775.75" r="4.9"/><circle cx="513.83" cy="1775.75" r="4.9"/><circle cx="535.98" cy="1775.75" r="4.9"/><circle cx="517.35" cy="1775.75" r="4.9"/><circle cx="507.33" cy="1775.75" r="4.9"/><circle cx="519.65" cy="1775.75" r="4.9"/><circle cx="507.22" cy="1775.75" r="4.9"/><circle cx="506.48" cy="1775.75" r="4.9"/><circle cx="540.77" cy="1775.75" r="4.9"/><circle cx="538.82" cy="1775.75" r="4.9"/><circle cx="517.94" cy="1775.75" r="4.9"/><circle cx="517.23" cy="1775.75" r="4.9"/><circle cx="523.2" cy="1826.7" r="4.9"/><circle cx="518.3" cy="1826.7" r="4.9"/><circle cx="528.1" cy="1826.7" r="4.9"/><circle cx="533" cy="1826.7" r="4.9"/></g>
<g fill="#f0726c" stroke="#111" stroke-width="1.15"><circle cx="523.2" cy="1716.58" r="4.9"/><circle cx="523.2" cy="1720.77" r="4.9"/><circle cx="523.2" cy="1724.8" r="4.9"/><circle cx="523.2" cy="1727.13" r="4.9"/><circle cx="523.2" cy="1729.74" r="4.9"/><circle cx="520.75" cy="1729.74" r="4.9"/><circle cx="523.2" cy="1732.69" r="4.9"/><circle cx="520.75" cy="1732.69" r="4.9"/><circle cx="523.2" cy="1736.1" r="4.9"/><circle cx="525.65" cy="1736.1" r="4.9"/><circle cx="520.75" cy="1736.1" r="4.9"/><circle cx="523.2" cy="1740.14" r="4.9"/><circle cx="525.65" cy="1740.14" r="4.9"/><circle cx="520.75" cy="1740.14" r="4.9"/><circle cx="518.3" cy="1740.14" r="4.9"/><circle cx="523.2" cy="1745.08" r="4.9"/><circle cx="525.65" cy="1745.08" r="4.9"/><circle cx="520.75" cy="1745.08" r="4.9"/><circle cx="518.3" cy="1745.08" r="4.9"/><circle cx="528.1" cy="1745.08" r="4.9"/><circle cx="530.55" cy="1745.08" r="4.9"/><circle cx="523.2" cy="1751.44" r="4.9"/><circle cx="520.75" cy="1751.44" r="4.9"/><circle cx="525.65" cy="1751.44" r="4.9"/><circle cx="518.3" cy="1751.44" r="4.9"/><circle cx="528.1" cy="1751.44" r="4.9"/><circle cx="515.85" cy="1751.44" r="4.9"/><circle cx="530.55" cy="1751.44" r="4.9"/><circle cx="513.4" cy="1751.44" r="4.9"/><circle cx="533" cy="1751.44" r="4.9"/><circle cx="527.95" cy="1751.44" r="4.9"/><circle cx="523.2" cy="1760.41" r="4.9"/><circle cx="520.75" cy="1760.41" r="4.9"/><circle cx="525.65" cy="1760.41" r="4.9"/><circle cx="528.1" cy="1760.41" r="4.9"/><circle cx="518.3" cy="1760.41" r="4.9"/><circle cx="515.85" cy="1760.41" r="4.9"/><circle cx="530.55" cy="1760.41" r="4.9"/><circle cx="533" cy="1760.41" r="4.9"/><circle cx="513.4" cy="1760.41" r="4.9"/><circle cx="526.09" cy="1760.41" r="4.9"/><circle cx="535.2" cy="1760.41" r="4.9"/><circle cx="534.74" cy="1760.41" r="4.9"/><circle cx="532.55" cy="1760.41" r="4.9"/><circle cx="522.5" cy="1760.41" r="4.9"/></g>
<g fill="#1ab5bb" stroke="#111" stroke-width="1.15"><circle cx="595.7" cy="1724.8" r="4.9"/><circle cx="598.15" cy="1729.74" r="4.9"/><circle cx="595.7" cy="1736.1" r="4.9"/><circle cx="590.8" cy="1740.14" r="4.9"/><circle cx="595.7" cy="1745.08" r="4.9"/><circle cx="595.7" cy="1751.44" r="4.9"/><circle cx="603.05" cy="1751.44" r="4.9"/><circle cx="595.7" cy="1760.41" r="4.9"/><circle cx="603.05" cy="1760.41" r="4.9"/><circle cx="595.7" cy="1775.75" r="4.9"/><circle cx="603.05" cy="1775.75" r="4.9"/><circle cx="588.35" cy="1775.75" r="4.9"/><circle cx="581" cy="1775.75" r="4.9"/><circle cx="610.4" cy="1775.75" r="4.9"/><circle cx="617.75" cy="1775.75" r="4.9"/><circle cx="573.65" cy="1775.75" r="4.9"/><circle cx="579" cy="1775.75" r="4.9"/><circle cx="599.53" cy="1775.75" r="4.9"/><circle cx="611.15" cy="1775.75" r="4.9"/><circle cx="577.91" cy="1775.75" r="4.9"/><circle cx="585.06" cy="1775.75" r="4.9"/><circle cx="595.7" cy="1826.7" r="4.9"/><circle cx="588.35" cy="1826.7" r="4.9"/></g>
<g fill="#9451b0" stroke="#111" stroke-width="1.15"><circle cx="600.5" cy="1760.41" r="4.9"/></g>
<line x1="523.2" y1="1751.44" x2="523.2" y2="1775.75" stroke="#000" stroke-width="2"/>
<line x1="494.2" y1="1766.78" x2="552.2" y2="1766.78" stroke="#000" stroke-width="2"/>
<line x1="511.2" y1="1751.44" x2="535.2" y2="1751.44" stroke="#000" stroke-width="2"/>
<line x1="511.2" y1="1775.75" x2="535.2" y2="1775.75" stroke="#000" stroke-width="2"/>
<line x1="595.7" y1="1755.47" x2="595.7" y2="1775.75" stroke="#000" stroke-width="2"/>
<line x1="566.7" y1="1775.7" x2="624.7" y2="1775.7" stroke="#000" stroke-width="2"/>
<line x1="583.7" y1="1755.47" x2="607.7" y2="1755.47" stroke="#000" stroke-width="2"/>
<line x1="583.7" y1="1775.75" x2="607.7" y2="1775.75" stroke="#000" stroke-width="2"/>
<g fill="#f0726c" stroke="#111" stroke-width="1.15"><circle cx="692.2" cy="1653.37" r="4.9"/><circle cx="692.2" cy="1657.34" r="4.9"/><circle cx="692.2" cy="1661.32" r="4.9"/><circle cx="692.2" cy="1665.29" r="4.9"/><circle cx="692.2" cy="1669.26" r="4.9"/><circle cx="692.2" cy="1673.24" r="4.9"/><circle cx="692.2" cy="1677.21" r="4.9"/><circle cx="692.2" cy="1681.19" r="4.9"/><circle cx="692.2" cy="1685.16" r="4.9"/><circle cx="692.2" cy="1689.13" r="4.9"/><circle cx="687.3" cy="1691.17" r="4.9"/><circle cx="697.1" cy="1691.17" r="4.9"/><circle cx="702" cy="1692.61" r="4.9"/><circle cx="692.2" cy="1695.15" r="4.9"/><circle cx="697.1" cy="1697.14" r="4.9"/><circle cx="689.75" cy="1698.81" r="4.9"/><circle cx="694.65" cy="1700.26" r="4.9"/><circle cx="699.55" cy="1701.55" r="4.9"/><circle cx="687.3" cy="1702.71" r="4.9"/><circle cx="692.2" cy="1703.77" r="4.9"/><circle cx="697.1" cy="1704.76" r="4.9"/><circle cx="702" cy="1705.68" r="4.9"/><circle cx="684.85" cy="1706.55" r="4.9"/><circle cx="689.75" cy="1707.37" r="4.9"/><circle cx="694.65" cy="1708.16" r="4.9"/><circle cx="699.55" cy="1708.9" r="4.9"/><circle cx="682.4" cy="1709.62" r="4.9"/><circle cx="704.45" cy="1710.31" r="4.9"/><circle cx="687.3" cy="1710.98" r="4.9"/><circle cx="692.2" cy="1711.63" r="4.9"/><circle cx="697.1" cy="1712.25" r="4.9"/><circle cx="679.95" cy="1712.86" r="4.9"/><circle cx="702" cy="1713.46" r="4.9"/><circle cx="684.85" cy="1714.04" r="4.9"/><circle cx="706.9" cy="1714.61" r="4.9"/><circle cx="689.75" cy="1715.17" r="4.9"/><circle cx="694.65" cy="1715.71" r="4.9"/><circle cx="677.5" cy="1716.25" r="4.9"/><circle cx="699.55" cy="1716.78" r="4.9"/><circle cx="682.4" cy="1717.3" r="4.9"/><circle cx="704.45" cy="1717.81" r="4.9"/><circle cx="687.3" cy="1718.32" r="4.9"/><circle cx="692.2" cy="1718.82" r="4.9"/><circle cx="709.35" cy="1719.32" r="4.9"/><circle cx="675.05" cy="1719.81" r="4.9"/><circle cx="697.1" cy="1720.3" r="4.9"/><circle cx="679.95" cy="1720.78" r="4.9"/><circle cx="702" cy="1721.26" r="4.9"/><circle cx="684.85" cy="1721.74" r="4.9"/><circle cx="689.75" cy="1722.21" r="4.9"/><circle cx="706.9" cy="1722.69" r="4.9"/><circle cx="711.8" cy="1723.16" r="4.9"/><circle cx="694.65" cy="1723.63" r="4.9"/><circle cx="677.5" cy="1724.1" r="4.9"/><circle cx="699.55" cy="1724.57" r="4.9"/><circle cx="682.4" cy="1725.03" r="4.9"/><circle cx="687.3" cy="1725.5" r="4.9"/><circle cx="704.45" cy="1725.97" r="4.9"/><circle cx="709.35" cy="1726.44" r="4.9"/><circle cx="692.2" cy="1726.91" r="4.9"/><circle cx="675.05" cy="1727.39" r="4.9"/><circle cx="697.1" cy="1727.86" r="4.9"/><circle cx="679.95" cy="1728.34" r="4.9"/><circle cx="684.85" cy="1728.82" r="4.9"/><circle cx="702" cy="1729.3" r="4.9"/><circle cx="706.9" cy="1729.79" r="4.9"/><circle cx="689.75" cy="1730.28" r="4.9"/><circle cx="672.6" cy="1730.78" r="4.9"/><circle cx="694.65" cy="1731.28" r="4.9"/><circle cx="677.5" cy="1731.79" r="4.9"/><circle cx="682.4" cy="1732.3" r="4.9"/><circle cx="699.55" cy="1732.82" r="4.9"/><circle cx="687.3" cy="1733.35" r="4.9"/><circle cx="704.45" cy="1733.89" r="4.9"/><circle cx="692.2" cy="1734.43" r="4.9"/><circle cx="675.05" cy="1734.99" r="4.9"/><circle cx="679.95" cy="1735.56" r="4.9"/><circle cx="697.1" cy="1736.14" r="4.9"/><circle cx="684.85" cy="1736.74" r="4.9"/><circle cx="702" cy="1737.35" r="4.9"/><circle cx="689.75" cy="1737.97" r="4.9"/><circle cx="706.9" cy="1738.62" r="4.9"/><circle cx="694.65" cy="1739.29" r="4.9"/><circle cx="682.4" cy="1739.98" r="4.9"/><circle cx="699.55" cy="1740.7" r="4.9"/><circle cx="687.3" cy="1741.44" r="4.9"/><circle cx="704.45" cy="1742.23" r="4.9"/><circle cx="692.2" cy="1743.05" r="4.9"/><circle cx="697.1" cy="1743.92" r="4.9"/><circle cx="684.85" cy="1744.84" r="4.9"/><circle cx="702" cy="1745.83" r="4.9"/><circle cx="689.75" cy="1746.89" r="4.9"/><circle cx="694.65" cy="1748.05" r="4.9"/><circle cx="699.55" cy="1749.34" r="4.9"/><circle cx="687.3" cy="1750.79" r="4.9"/><circle cx="692.2" cy="1752.46" r="4.9"/><circle cx="697.1" cy="1754.45" r="4.9"/><circle cx="692.2" cy="1756.99" r="4.9"/><circle cx="689.75" cy="1760.58" r="4.9"/><circle cx="692.2" cy="1766.58" r="4.9"/></g>
<g fill="#1ab5bb" stroke="#111" stroke-width="1.15"><circle cx="763.7" cy="1667.74" r="4.9"/><circle cx="753.9" cy="1669.02" r="4.9"/><circle cx="771.05" cy="1674.42" r="4.9"/><circle cx="761.25" cy="1678.42" r="4.9"/><circle cx="751.45" cy="1681.71" r="4.9"/><circle cx="771.05" cy="1684.58" r="4.9"/><circle cx="780.85" cy="1687.17" r="4.9"/><circle cx="761.25" cy="1689.58" r="4.9"/><circle cx="751.45" cy="1691.86" r="4.9"/><circle cx="741.65" cy="1694.05" r="4.9"/><circle cx="768.6" cy="1696.19" r="4.9"/><circle cx="778.4" cy="1698.31" r="4.9"/><circle cx="758.8" cy="1700.42" r="4.9"/><circle cx="749" cy="1702.56" r="4.9"/><circle cx="785.7" cy="1704.75" r="4.9"/><circle cx="766.15" cy="1707.03" r="4.9"/><circle cx="775.95" cy="1709.44" r="4.9"/><circle cx="756.35" cy="1712.03" r="4.9"/><circle cx="746.55" cy="1714.9" r="4.9"/><circle cx="766.15" cy="1718.19" r="4.9"/><circle cx="756.35" cy="1722.19" r="4.9"/><circle cx="771.05" cy="1727.59" r="4.9"/><circle cx="763.7" cy="1737.4" r="4.9"/></g>
<g fill="#9451b0" stroke="#111" stroke-width="1.15"><circle cx="763.7" cy="1610" r="4.9"/></g>
<line x1="692.2" y1="1701.24" x2="692.2" y2="1732.69" stroke="#000" stroke-width="2"/>
<line x1="663.2" y1="1720.77" x2="721.2" y2="1720.77" stroke="#000" stroke-width="2"/>
<line x1="681.2" y1="1701.24" x2="703.2" y2="1701.24" stroke="#000" stroke-width="2"/>
<line x1="681.2" y1="1732.69" x2="703.2" y2="1732.69" stroke="#000" stroke-width="2"/>
<line x1="763.7" y1="1684.07" x2="763.7" y2="1711.79" stroke="#000" stroke-width="2"/>
<line x1="734.7" y1="1697.72" x2="792.7" y2="1697.72" stroke="#000" stroke-width="2"/>
<line x1="752.7" y1="1684.07" x2="774.7" y2="1684.07" stroke="#000" stroke-width="2"/>
<line x1="752.7" y1="1711.79" x2="774.7" y2="1711.79" stroke="#000" stroke-width="2"/>
<g fill="#f0726c" stroke="#111" stroke-width="1.15"><circle cx="859.9" cy="1653.37" r="4.9"/><circle cx="859.9" cy="1657.34" r="4.9"/><circle cx="859.9" cy="1661.32" r="4.9"/><circle cx="859.9" cy="1665.29" r="4.9"/><circle cx="859.9" cy="1669.26" r="4.9"/><circle cx="859.9" cy="1673.24" r="4.9"/><circle cx="859.9" cy="1677.21" r="4.9"/><circle cx="859.9" cy="1681.19" r="4.9"/><circle cx="859.9" cy="1685.16" r="4.9"/><circle cx="859.9" cy="1689.13" r="4.9"/><circle cx="864.8" cy="1691.17" r="4.9"/><circle cx="855" cy="1691.17" r="4.9"/><circle cx="859.9" cy="1693.5" r="4.9"/><circle cx="855" cy="1695.8" r="4.9"/><circle cx="859.9" cy="1697.62" r="4.9"/><circle cx="864.8" cy="1699.14" r="4.9"/><circle cx="855" cy="1700.45" r="4.9"/><circle cx="859.9" cy="1701.62" r="4.9"/><circle cx="867.25" cy="1702.68" r="4.9"/><circle cx="852.55" cy="1703.65" r="4.9"/><circle cx="847.65" cy="1704.55" r="4.9"/><circle cx="857.45" cy="1705.38" r="4.9"/><circle cx="862.35" cy="1706.17" r="4.9"/><circle cx="867.25" cy="1706.92" r="4.9"/><circle cx="852.55" cy="1707.63" r="4.9"/><circle cx="872.15" cy="1708.31" r="4.9"/><circle cx="847.65" cy="1708.96" r="4.9"/><circle cx="859.9" cy="1709.59" r="4.9"/><circle cx="864.8" cy="1710.2" r="4.9"/><circle cx="855" cy="1710.79" r="4.9"/><circle cx="877.05" cy="1711.36" r="4.9"/><circle cx="869.7" cy="1711.91" r="4.9"/><circle cx="850.1" cy="1712.45" r="4.9"/><circle cx="845.2" cy="1712.98" r="4.9"/><circle cx="862.35" cy="1713.5" r="4.9"/><circle cx="857.45" cy="1714" r="4.9"/><circle cx="874.6" cy="1714.5" r="4.9"/><circle cx="867.25" cy="1714.99" r="4.9"/><circle cx="840.3" cy="1715.47" r="4.9"/><circle cx="852.55" cy="1715.94" r="4.9"/><circle cx="847.65" cy="1716.41" r="4.9"/><circle cx="879.5" cy="1716.87" r="4.9"/><circle cx="859.9" cy="1717.33" r="4.9"/><circle cx="872.15" cy="1717.78" r="4.9"/><circle cx="864.8" cy="1718.23" r="4.9"/><circle cx="842.75" cy="1718.67" r="4.9"/><circle cx="855" cy="1719.11" r="4.9"/><circle cx="850.1" cy="1719.55" r="4.9"/><circle cx="877.05" cy="1719.98" r="4.9"/><circle cx="841.75" cy="1720.41" r="4.9"/><circle cx="869.7" cy="1720.84" r="4.9"/><circle cx="859.9" cy="1721.27" r="4.9"/><circle cx="847.69" cy="1721.7" r="4.9"/><circle cx="856.84" cy="1722.12" r="4.9"/><circle cx="864.8" cy="1722.55" r="4.9"/><circle cx="852.55" cy="1722.97" r="4.9"/><circle cx="874.6" cy="1723.4" r="4.9"/><circle cx="879.5" cy="1723.83" r="4.9"/><circle cx="842.75" cy="1724.25" r="4.9"/><circle cx="856.11" cy="1724.68" r="4.9"/><circle cx="869.7" cy="1725.11" r="4.9"/><circle cx="851.19" cy="1725.54" r="4.9"/><circle cx="859.9" cy="1725.98" r="4.9"/><circle cx="847.57" cy="1726.42" r="4.9"/><circle cx="864.8" cy="1726.85" r="4.9"/><circle cx="877.05" cy="1727.3" r="4.9"/><circle cx="840.3" cy="1727.74" r="4.9"/><circle cx="872.15" cy="1728.2" r="4.9"/><circle cx="855" cy="1728.65" r="4.9"/><circle cx="845.72" cy="1729.11" r="4.9"/><circle cx="850.1" cy="1729.58" r="4.9"/><circle cx="859.9" cy="1730.05" r="4.9"/><circle cx="867.25" cy="1730.53" r="4.9"/><circle cx="879.5" cy="1731.02" r="4.9"/><circle cx="874.6" cy="1731.52" r="4.9"/><circle cx="842.75" cy="1732.03" r="4.9"/><circle cx="847.7" cy="1732.54" r="4.9"/><circle cx="855" cy="1733.07" r="4.9"/><circle cx="862.35" cy="1733.61" r="4.9"/><circle cx="869.7" cy="1734.17" r="4.9"/><circle cx="877.05" cy="1734.74" r="4.9"/><circle cx="840.3" cy="1735.33" r="4.9"/><circle cx="850.1" cy="1735.93" r="4.9"/><circle cx="857.45" cy="1736.56" r="4.9"/><circle cx="864.8" cy="1737.21" r="4.9"/><circle cx="872.15" cy="1737.89" r="4.9"/><circle cx="845.2" cy="1738.6" r="4.9"/><circle cx="852.55" cy="1739.35" r="4.9"/><circle cx="859.9" cy="1740.14" r="4.9"/><circle cx="867.25" cy="1740.98" r="4.9"/><circle cx="847.65" cy="1741.88" r="4.9"/><circle cx="855" cy="1742.84" r="4.9"/><circle cx="862.35" cy="1743.9" r="4.9"/><circle cx="867.25" cy="1745.07" r="4.9"/><circle cx="857.45" cy="1746.39" r="4.9"/><circle cx="862.35" cy="1747.9" r="4.9"/><circle cx="855" cy="1749.72" r="4.9"/><circle cx="859.9" cy="1752.03" r="4.9"/><circle cx="864.8" cy="1752.82" r="4.9"/><circle cx="852.55" cy="1752.82" r="4.9"/></g>
<g fill="#1ab5bb" stroke="#111" stroke-width="1.15"><circle cx="932.4" cy="1667.74" r="4.9"/><circle cx="942.2" cy="1670.84" r="4.9"/><circle cx="925.05" cy="1675.53" r="4.9"/><circle cx="934.85" cy="1679" r="4.9"/><circle cx="944.65" cy="1681.85" r="4.9"/><circle cx="920.15" cy="1684.35" r="4.9"/><circle cx="954.45" cy="1686.6" r="4.9"/><circle cx="932.4" cy="1688.69" r="4.9"/><circle cx="910.35" cy="1690.67" r="4.9"/><circle cx="942.2" cy="1692.57" r="4.9"/><circle cx="922.6" cy="1694.43" r="4.9"/><circle cx="952" cy="1696.27" r="4.9"/><circle cx="924.36" cy="1698.1" r="4.9"/><circle cx="934.85" cy="1699.96" r="4.9"/><circle cx="915.25" cy="1701.87" r="4.9"/><circle cx="944.65" cy="1703.85" r="4.9"/><circle cx="954.45" cy="1705.94" r="4.9"/><circle cx="927.5" cy="1708.19" r="4.9"/><circle cx="937.3" cy="1710.68" r="4.9"/><circle cx="947.1" cy="1713.54" r="4.9"/><circle cx="922.6" cy="1717.01" r="4.9"/><circle cx="932.4" cy="1721.7" r="4.9"/><circle cx="927.5" cy="1730.22" r="4.9"/></g>
<g fill="#9451b0" stroke="#111" stroke-width="1.15"><circle cx="932.4" cy="1610" r="4.9"/></g>
<line x1="859.9" y1="1700.49" x2="859.9" y2="1729.74" stroke="#000" stroke-width="2"/>
<line x1="830.9" y1="1718.99" x2="888.9" y2="1718.99" stroke="#000" stroke-width="2"/>
<line x1="848.9" y1="1700.49" x2="870.9" y2="1700.49" stroke="#000" stroke-width="2"/>
<line x1="848.9" y1="1729.74" x2="870.9" y2="1729.74" stroke="#000" stroke-width="2"/>
<line x1="932.4" y1="1681.74" x2="932.4" y2="1711.79" stroke="#000" stroke-width="2"/>
<line x1="903.4" y1="1695.85" x2="961.4" y2="1695.85" stroke="#000" stroke-width="2"/>
<line x1="921.4" y1="1681.74" x2="943.4" y2="1681.74" stroke="#000" stroke-width="2"/>
<line x1="921.4" y1="1711.79" x2="943.4" y2="1711.79" stroke="#000" stroke-width="2"/>
<text x="726.6" y="1580.2" font-size="21.42" text-anchor="middle" fill="#111" stroke="#111" stroke-width="0.36" textLength="82" lengthAdjust="spacingAndGlyphs">P&lt;0.001</text>
<path d="M691.6 1629 V1585.7 H764.6 V1604.6" fill="none" stroke="#000" stroke-width="2.1"/>
<text x="895.5" y="1580.2" font-size="21.42" text-anchor="middle" fill="#111" stroke="#111" stroke-width="0.36" textLength="82" lengthAdjust="spacingAndGlyphs">P&lt;0.001</text>
<path d="M859.9 1629 V1585.7 H933.6 V1604.6" fill="none" stroke="#000" stroke-width="2.1"/>
<text x="120.2" y="1695.3" font-size="17.24" text-anchor="end" fill="#f0a030" stroke="#f0a030" stroke-width="0.29">4.8</text>
<text x="149.2" y="1684.3" font-size="17.24" fill="#f0a030" stroke="#f0a030" stroke-width="0.29" textLength="106" lengthAdjust="spacingAndGlyphs">Normal range</text>
<line x1="221.6" y1="1826.8" x2="221.6" y2="1839" stroke="#000" stroke-width="1.9"/>
<text x="221.6" y="1860.3" font-size="19.33" text-anchor="middle" stroke="#000" stroke-width="0.33" textLength="87" lengthAdjust="spacingAndGlyphs">Apheresis</text>
<line x1="390.9" y1="1826.8" x2="390.9" y2="1839" stroke="#000" stroke-width="1.9"/>
<text x="390.9" y="1860.3" font-size="19.33" text-anchor="middle" stroke="#000" stroke-width="0.33" textLength="50" lengthAdjust="spacingAndGlyphs">Day 0</text>
<line x1="559.1" y1="1826.8" x2="559.1" y2="1839" stroke="#000" stroke-width="1.9"/>
<text x="559.1" y="1860.3" font-size="19.33" text-anchor="middle" stroke="#000" stroke-width="0.33" textLength="50" lengthAdjust="spacingAndGlyphs">Day 7</text>
<line x1="727.5" y1="1826.8" x2="727.5" y2="1839" stroke="#000" stroke-width="1.9"/>
<text x="727.5" y="1860.3" font-size="19.33" text-anchor="middle" stroke="#000" stroke-width="0.33" textLength="61" lengthAdjust="spacingAndGlyphs">Day 14</text>
<line x1="896.1" y1="1826.8" x2="896.1" y2="1839" stroke="#000" stroke-width="1.9"/>
<text x="896.1" y="1860.3" font-size="19.33" text-anchor="middle" stroke="#000" stroke-width="0.33" textLength="61" lengthAdjust="spacingAndGlyphs">Day 21</text>
<text x="71.5" y="1700" font-size="22.47" text-anchor="middle" stroke="#000" stroke-width="0.38" textLength="186" lengthAdjust="spacingAndGlyphs" transform="rotate(-90 71.5 1700)">ALC (cells x 10<tspan font-size="68%" dy="-0.59em">3</tspan><tspan dy="0.4em">/µL)</tspan></text>
<rect x="210" y="1569" width="194.3" height="79.7" fill="#fff" stroke="#000" stroke-width="1.8"/>
<circle cx="225.3" cy="1585.4" r="4.7" fill="#9451b0" stroke="#1a1a1a" stroke-width="1"/>
<text x="250.2" y="1590.8" font-size="17.24" fill="#9451b0" stroke="#9451b0" stroke-width="0.29" textLength="86" lengthAdjust="spacingAndGlyphs">Cilta-cel#4</text>
<circle cx="225.3" cy="1608.2" r="4.7" fill="#1ab5bb" stroke="#1a1a1a" stroke-width="1"/>
<text x="250.2" y="1613.6" font-size="17.24" fill="#20b4ba" stroke="#20b4ba" stroke-width="0.29" textLength="107" lengthAdjust="spacingAndGlyphs">CirAE (n=24)</text>
<circle cx="225.3" cy="1630.5" r="4.7" fill="#f0726c" stroke="#1a1a1a" stroke-width="1"/>
<text x="250.2" y="1636" font-size="17.24" fill="#ee746b" stroke="#ee746b" stroke-width="0.29" textLength="146" lengthAdjust="spacingAndGlyphs">No CirAE (n=100)</text>
<text x="1.5" y="1883" font-size="22.47" fill="#111" stroke="#111" stroke-width="0.38" textLength="130" lengthAdjust="spacingAndGlyphs">Median (IQR)</text>
<rect x="0" y="1899.2" width="31.5" height="15.8" fill="#1fb8be" stroke="#000" stroke-width="2.2"/>
<rect x="0" y="1926" width="31.5" height="15.8" fill="#ee5f5d" stroke="#000" stroke-width="2.2"/>
<text x="36.5" y="1913.6" font-size="22.47" fill="#111" stroke="#111" stroke-width="0.38" textLength="56" lengthAdjust="spacingAndGlyphs">CirAE</text>
<text x="36.5" y="1940.3" font-size="22.47" fill="#111" stroke="#111" stroke-width="0.38" textLength="92" lengthAdjust="spacingAndGlyphs">No CirAE</text>
<text x="1.5" y="1967" font-size="22.47" fill="#111" stroke="#111" stroke-width="0.38" textLength="106" lengthAdjust="spacingAndGlyphs">All cilta-cel</text>
<text x="220.7" y="1913.6" font-size="22.47" text-anchor="middle" fill="#111" stroke="#111" stroke-width="0.38" textLength="126" lengthAdjust="spacingAndGlyphs">0.6 (0.5–1.1)</text>
<text x="390.9" y="1913.6" font-size="22.47" text-anchor="middle" fill="#111" stroke="#111" stroke-width="0.38" textLength="46" lengthAdjust="spacingAndGlyphs">0 (0)</text>
<text x="560.7" y="1913.6" font-size="22.47" text-anchor="middle" fill="#111" stroke="#111" stroke-width="0.38" textLength="126" lengthAdjust="spacingAndGlyphs">0.1 (0.1–0.3)</text>
<text x="727.2" y="1913.6" font-size="22.47" text-anchor="middle" fill="#111" stroke="#111" stroke-width="0.38" textLength="126" lengthAdjust="spacingAndGlyphs">3.4 (1.8–6.3)</text>
<text x="899.5" y="1913.6" font-size="22.47" text-anchor="middle" fill="#111" stroke="#111" stroke-width="0.38" textLength="107" lengthAdjust="spacingAndGlyphs">3.7 (1.8–7)</text>
<text x="220.7" y="1940.3" font-size="22.47" text-anchor="middle" fill="#111" stroke="#111" stroke-width="0.38" textLength="126" lengthAdjust="spacingAndGlyphs">0.8 (0.5–1.1)</text>
<text x="390.9" y="1940.3" font-size="22.47" text-anchor="middle" fill="#111" stroke="#111" stroke-width="0.38" textLength="46" lengthAdjust="spacingAndGlyphs">0 (0)</text>
<text x="560.7" y="1940.3" font-size="22.47" text-anchor="middle" fill="#111" stroke="#111" stroke-width="0.38" textLength="126" lengthAdjust="spacingAndGlyphs">0.2 (0.1–0.3)</text>
<text x="727.2" y="1940.3" font-size="22.47" text-anchor="middle" fill="#111" stroke="#111" stroke-width="0.38" textLength="126" lengthAdjust="spacingAndGlyphs">1.2 (0.7–2.9)</text>
<text x="899.5" y="1940.3" font-size="22.47" text-anchor="middle" fill="#111" stroke="#111" stroke-width="0.38" textLength="107" lengthAdjust="spacingAndGlyphs">1.3 (0.8–3)</text>
<text x="220.7" y="1966.8" font-size="22.47" text-anchor="middle" fill="#111" stroke="#111" stroke-width="0.38" textLength="126" lengthAdjust="spacingAndGlyphs">0.7 (0.5–1.1)</text>
<text x="390.9" y="1966.8" font-size="22.47" text-anchor="middle" fill="#111" stroke="#111" stroke-width="0.38" textLength="46" lengthAdjust="spacingAndGlyphs">0 (0)</text>
<text x="560.7" y="1966.8" font-size="22.47" text-anchor="middle" fill="#111" stroke="#111" stroke-width="0.38" textLength="126" lengthAdjust="spacingAndGlyphs">0.1 (0.1–0.3)</text>
<text x="727.2" y="1966.8" font-size="22.47" text-anchor="middle" fill="#111" stroke="#111" stroke-width="0.38" textLength="126" lengthAdjust="spacingAndGlyphs">1.4 (0.8–3.6)</text>
<text x="899.5" y="1966.8" font-size="22.47" text-anchor="middle" fill="#111" stroke="#111" stroke-width="0.38" textLength="107" lengthAdjust="spacingAndGlyphs">1.5 (1–3.9)</text>
<text x="41" y="2003.4" font-size="21.42" fill="#111" stroke="#111" stroke-width="0.36" font-style="italic" textLength="937" lengthAdjust="spacingAndGlyphs">* Day 14 ALC<tspan font-size="60%" dy="-0.65em">Peak</tspan><tspan dy="0.39em"> of 2.9 falls within the third quartile of the cilta-cel non-CirAE cohort distribution</tspan></text></g>
<g><text x="1131" y="1208.7" font-size="38.66" fill="#231f20" stroke="#231f20" stroke-width="0.66" font-weight="bold">j</text>
<text x="1301" y="1208.7" font-size="30.83" fill="#231f20" stroke="#231f20" stroke-width="0.52" textLength="562" lengthAdjust="spacingAndGlyphs">CD4/CD8 proportion by CirAE (cilta-cel)</text>
<rect x="1240.9" y="1373.77" width="712.6" height="71.34" fill="#fdefda"/>
<line x1="1244.9" y1="1445.11" x2="1953.5" y2="1445.11" stroke="#000" stroke-width="3.4" stroke-dasharray="0.1 6.3" stroke-linecap="round"/>
<line x1="1244.9" y1="1373.77" x2="1953.5" y2="1373.77" stroke="#000" stroke-width="3.4" stroke-dasharray="0.1 6.3" stroke-linecap="round"/>
<rect x="1264.8" y="1313.25" width="42.2" height="176.45" fill="#a5b9dc" stroke="#000" stroke-width="3.8"/>
<rect x="1264.8" y="1402.43" width="42.2" height="87.27" fill="#ebdff0" stroke="#000" stroke-width="3.8"/>
<line x1="1285.9" y1="1311.35" x2="1285.9" y2="1279.25" stroke="#000" stroke-width="1.7"/>
<line x1="1273.9" y1="1279.25" x2="1297.9" y2="1279.25" stroke="#000" stroke-width="1.7"/>
<line x1="1285.9" y1="1400.53" x2="1285.9" y2="1382.69" stroke="#000" stroke-width="1.7"/>
<line x1="1273.9" y1="1382.69" x2="1297.9" y2="1382.69" stroke="#000" stroke-width="1.7"/>
<text x="1285.9" y="1456.5" font-size="20.48" text-anchor="middle" fill="#1a1a1a" stroke="#1a1a1a" stroke-width="0.25" textLength="30.5" lengthAdjust="spacingAndGlyphs">0.5</text>
<line x1="1285.9" y1="1489.7" x2="1285.9" y2="1505.5" stroke="#000" stroke-width="3.9"/>
<text x="1285.9" y="1530.8" font-size="26.12" text-anchor="middle" fill="#ee746b" stroke="#ee746b" stroke-width="0.44" textLength="35" lengthAdjust="spacingAndGlyphs">No</text>
<text x="1285.9" y="1555.7" font-size="18.81" text-anchor="middle" fill="#ee746b" stroke="#ee746b" stroke-width="0.32" textLength="59" lengthAdjust="spacingAndGlyphs">(n=96)</text>
<rect x="1333.9" y="1313.25" width="42.2" height="176.45" fill="#a5b9dc" stroke="#000" stroke-width="3.8"/>
<rect x="1333.9" y="1384.59" width="42.2" height="105.11" fill="#ebdff0" stroke="#000" stroke-width="3.8"/>
<line x1="1355" y1="1311.35" x2="1355" y2="1293.52" stroke="#000" stroke-width="1.7"/>
<line x1="1343" y1="1293.52" x2="1367" y2="1293.52" stroke="#000" stroke-width="1.7"/>
<line x1="1355" y1="1382.69" x2="1355" y2="1364.86" stroke="#000" stroke-width="1.7"/>
<line x1="1343" y1="1364.86" x2="1367" y2="1364.86" stroke="#000" stroke-width="1.7"/>
<text x="1355" y="1446" font-size="20.48" text-anchor="middle" fill="#1a1a1a" stroke="#1a1a1a" stroke-width="0.25" textLength="30.5" lengthAdjust="spacingAndGlyphs">0.6</text>
<line x1="1355" y1="1489.7" x2="1355" y2="1505.5" stroke="#000" stroke-width="3.9"/>
<text x="1355" y="1530.8" font-size="26.12" text-anchor="middle" fill="#20b4ba" stroke="#20b4ba" stroke-width="0.44" textLength="47" lengthAdjust="spacingAndGlyphs">Yes</text>
<text x="1355" y="1555.7" font-size="18.81" text-anchor="middle" fill="#20b4ba" stroke="#20b4ba" stroke-width="0.32" textLength="59" lengthAdjust="spacingAndGlyphs">(n=24)</text>
<rect x="1403" y="1313.25" width="42.2" height="176.45" fill="#a5b9dc" stroke="#000" stroke-width="3.8"/>
<rect x="1403" y="1402.43" width="42.2" height="87.27" fill="#ebdff0" stroke="#000" stroke-width="3.8"/>
<line x1="1424.1" y1="1311.35" x2="1424.1" y2="1275.68" stroke="#000" stroke-width="1.7"/>
<line x1="1412.1" y1="1275.68" x2="1436.1" y2="1275.68" stroke="#000" stroke-width="1.7"/>
<line x1="1424.1" y1="1400.53" x2="1424.1" y2="1382.69" stroke="#000" stroke-width="1.7"/>
<line x1="1412.1" y1="1382.69" x2="1436.1" y2="1382.69" stroke="#000" stroke-width="1.7"/>
<text x="1424.1" y="1456.5" font-size="20.48" text-anchor="middle" fill="#1a1a1a" stroke="#1a1a1a" stroke-width="0.25" textLength="30.5" lengthAdjust="spacingAndGlyphs">0.5</text>
<line x1="1424.1" y1="1489.7" x2="1424.1" y2="1505.5" stroke="#000" stroke-width="3.9"/>
<text x="1424.1" y="1530.8" font-size="26.12" text-anchor="middle" fill="#ee746b" stroke="#ee746b" stroke-width="0.44" textLength="35" lengthAdjust="spacingAndGlyphs">No</text>
<text x="1424.1" y="1555.7" font-size="18.81" text-anchor="middle" fill="#ee746b" stroke="#ee746b" stroke-width="0.32" textLength="59" lengthAdjust="spacingAndGlyphs">(n=29)</text>
<rect x="1472.1" y="1313.25" width="42.2" height="176.45" fill="#a5b9dc" stroke="#000" stroke-width="3.8"/>
<rect x="1472.1" y="1366.76" width="42.2" height="122.94" fill="#ebdff0" stroke="#000" stroke-width="3.8"/>
<line x1="1493.2" y1="1311.35" x2="1493.2" y2="1293.52" stroke="#000" stroke-width="1.7"/>
<line x1="1481.2" y1="1293.52" x2="1505.2" y2="1293.52" stroke="#000" stroke-width="1.7"/>
<line x1="1493.2" y1="1364.86" x2="1493.2" y2="1347.02" stroke="#000" stroke-width="1.7"/>
<line x1="1481.2" y1="1347.02" x2="1505.2" y2="1347.02" stroke="#000" stroke-width="1.7"/>
<text x="1493.2" y="1437.5" font-size="20.48" text-anchor="middle" fill="#1a1a1a" stroke="#1a1a1a" stroke-width="0.25" textLength="30.5" lengthAdjust="spacingAndGlyphs">0.7</text>
<line x1="1493.2" y1="1489.7" x2="1493.2" y2="1505.5" stroke="#000" stroke-width="3.9"/>
<text x="1493.2" y="1530.8" font-size="26.12" text-anchor="middle" fill="#20b4ba" stroke="#20b4ba" stroke-width="0.44" textLength="47" lengthAdjust="spacingAndGlyphs">Yes</text>
<text x="1493.2" y="1555.7" font-size="18.81" text-anchor="middle" fill="#20b4ba" stroke="#20b4ba" stroke-width="0.32" textLength="48" lengthAdjust="spacingAndGlyphs">(n=7)</text>
<rect x="1541.2" y="1313.25" width="42.2" height="176.45" fill="#a5b9dc" stroke="#000" stroke-width="3.8"/>
<rect x="1541.2" y="1420.26" width="42.2" height="69.44" fill="#ebdff0" stroke="#000" stroke-width="3.8"/>
<line x1="1562.3" y1="1311.35" x2="1562.3" y2="1279.25" stroke="#000" stroke-width="1.7"/>
<line x1="1550.3" y1="1279.25" x2="1574.3" y2="1279.25" stroke="#000" stroke-width="1.7"/>
<line x1="1562.3" y1="1418.36" x2="1562.3" y2="1382.69" stroke="#000" stroke-width="1.7"/>
<line x1="1550.3" y1="1382.69" x2="1574.3" y2="1382.69" stroke="#000" stroke-width="1.7"/>
<text x="1562.3" y="1467.5" font-size="20.48" text-anchor="middle" fill="#1a1a1a" stroke="#1a1a1a" stroke-width="0.25" textLength="30.5" lengthAdjust="spacingAndGlyphs">0.4</text>
<line x1="1562.3" y1="1489.7" x2="1562.3" y2="1505.5" stroke="#000" stroke-width="3.9"/>
<text x="1562.3" y="1530.8" font-size="26.12" text-anchor="middle" fill="#ee746b" stroke="#ee746b" stroke-width="0.44" textLength="35" lengthAdjust="spacingAndGlyphs">No</text>
<text x="1562.3" y="1555.7" font-size="18.81" text-anchor="middle" fill="#ee746b" stroke="#ee746b" stroke-width="0.32" textLength="59" lengthAdjust="spacingAndGlyphs">(n=52)</text>
<rect x="1610.3" y="1313.25" width="42.2" height="176.45" fill="#a5b9dc" stroke="#000" stroke-width="3.8"/>
<rect x="1610.3" y="1402.43" width="42.2" height="87.27" fill="#ebdff0" stroke="#000" stroke-width="3.8"/>
<line x1="1631.4" y1="1311.35" x2="1631.4" y2="1275.68" stroke="#000" stroke-width="1.7"/>
<line x1="1619.4" y1="1275.68" x2="1643.4" y2="1275.68" stroke="#000" stroke-width="1.7"/>
<line x1="1631.4" y1="1400.53" x2="1631.4" y2="1382.69" stroke="#000" stroke-width="1.7"/>
<line x1="1619.4" y1="1382.69" x2="1643.4" y2="1382.69" stroke="#000" stroke-width="1.7"/>
<text x="1631.4" y="1456.5" font-size="20.48" text-anchor="middle" fill="#1a1a1a" stroke="#1a1a1a" stroke-width="0.25" textLength="30.5" lengthAdjust="spacingAndGlyphs">0.5</text>
<line x1="1631.4" y1="1489.7" x2="1631.4" y2="1505.5" stroke="#000" stroke-width="3.9"/>
<text x="1631.4" y="1530.8" font-size="26.12" text-anchor="middle" fill="#20b4ba" stroke="#20b4ba" stroke-width="0.44" textLength="47" lengthAdjust="spacingAndGlyphs">Yes</text>
<text x="1631.4" y="1555.7" font-size="18.81" text-anchor="middle" fill="#20b4ba" stroke="#20b4ba" stroke-width="0.32" textLength="59" lengthAdjust="spacingAndGlyphs">(n=17)</text>
<rect x="1679.4" y="1313.25" width="42.2" height="176.45" fill="#a5b9dc" stroke="#000" stroke-width="3.8"/>
<rect x="1679.4" y="1438.1" width="42.2" height="51.6" fill="#ebdff0" stroke="#000" stroke-width="3.8"/>
<line x1="1700.5" y1="1311.35" x2="1700.5" y2="1293.52" stroke="#000" stroke-width="1.7"/>
<line x1="1688.5" y1="1293.52" x2="1712.5" y2="1293.52" stroke="#000" stroke-width="1.7"/>
<line x1="1700.5" y1="1436.2" x2="1700.5" y2="1409.44" stroke="#000" stroke-width="1.7"/>
<line x1="1688.5" y1="1409.44" x2="1712.5" y2="1409.44" stroke="#000" stroke-width="1.7"/>
<text x="1700.5" y="1473.5" font-size="20.48" text-anchor="middle" fill="#1a1a1a" stroke="#1a1a1a" stroke-width="0.25" textLength="30.5" lengthAdjust="spacingAndGlyphs">0.3</text>
<line x1="1700.5" y1="1489.7" x2="1700.5" y2="1505.5" stroke="#000" stroke-width="3.9"/>
<text x="1700.5" y="1530.8" font-size="26.12" text-anchor="middle" fill="#ee746b" stroke="#ee746b" stroke-width="0.44" textLength="35" lengthAdjust="spacingAndGlyphs">No</text>
<text x="1700.5" y="1555.7" font-size="18.81" text-anchor="middle" fill="#ee746b" stroke="#ee746b" stroke-width="0.32" textLength="59" lengthAdjust="spacingAndGlyphs">(n=33)</text>
<rect x="1748.5" y="1313.25" width="42.2" height="176.45" fill="#a5b9dc" stroke="#000" stroke-width="3.8"/>
<rect x="1748.5" y="1411.34" width="42.2" height="78.36" fill="#ebdff0" stroke="#000" stroke-width="3.8"/>
<line x1="1769.6" y1="1311.35" x2="1769.6" y2="1272.11" stroke="#000" stroke-width="1.7"/>
<line x1="1757.6" y1="1272.11" x2="1781.6" y2="1272.11" stroke="#000" stroke-width="1.7"/>
<line x1="1769.6" y1="1409.44" x2="1769.6" y2="1370.21" stroke="#000" stroke-width="1.7"/>
<line x1="1757.6" y1="1370.21" x2="1781.6" y2="1370.21" stroke="#000" stroke-width="1.7"/>
<text x="1769.6" y="1465" font-size="20.48" text-anchor="middle" fill="#1a1a1a" stroke="#1a1a1a" stroke-width="0.25" textLength="40.5" lengthAdjust="spacingAndGlyphs">0.45</text>
<line x1="1769.6" y1="1489.7" x2="1769.6" y2="1505.5" stroke="#000" stroke-width="3.9"/>
<text x="1769.6" y="1530.8" font-size="26.12" text-anchor="middle" fill="#20b4ba" stroke="#20b4ba" stroke-width="0.44" textLength="47" lengthAdjust="spacingAndGlyphs">Yes</text>
<text x="1769.6" y="1555.7" font-size="18.81" text-anchor="middle" fill="#20b4ba" stroke="#20b4ba" stroke-width="0.32" textLength="48" lengthAdjust="spacingAndGlyphs">(n=8)</text>
<rect x="1817.6" y="1313.25" width="42.2" height="176.45" fill="#a5b9dc" stroke="#000" stroke-width="3.8"/>
<rect x="1817.6" y="1438.1" width="42.2" height="51.6" fill="#ebdff0" stroke="#000" stroke-width="3.8"/>
<line x1="1838.7" y1="1311.35" x2="1838.7" y2="1293.52" stroke="#000" stroke-width="1.7"/>
<line x1="1826.7" y1="1293.52" x2="1850.7" y2="1293.52" stroke="#000" stroke-width="1.7"/>
<line x1="1838.7" y1="1436.2" x2="1838.7" y2="1409.44" stroke="#000" stroke-width="1.7"/>
<line x1="1826.7" y1="1409.44" x2="1850.7" y2="1409.44" stroke="#000" stroke-width="1.7"/>
<text x="1838.7" y="1473.5" font-size="20.48" text-anchor="middle" fill="#1a1a1a" stroke="#1a1a1a" stroke-width="0.25" textLength="30.5" lengthAdjust="spacingAndGlyphs">0.3</text>
<line x1="1838.7" y1="1489.7" x2="1838.7" y2="1505.5" stroke="#000" stroke-width="3.9"/>
<text x="1838.7" y="1530.8" font-size="26.12" text-anchor="middle" fill="#ee746b" stroke="#ee746b" stroke-width="0.44" textLength="35" lengthAdjust="spacingAndGlyphs">No</text>
<text x="1838.7" y="1555.7" font-size="18.81" text-anchor="middle" fill="#ee746b" stroke="#ee746b" stroke-width="0.32" textLength="59" lengthAdjust="spacingAndGlyphs">(n=21)</text>
<rect x="1886.7" y="1313.25" width="42.2" height="176.45" fill="#a5b9dc" stroke="#000" stroke-width="3.8"/>
<rect x="1886.7" y="1402.43" width="42.2" height="87.27" fill="#ebdff0" stroke="#000" stroke-width="3.8"/>
<line x1="1907.8" y1="1311.35" x2="1907.8" y2="1275.68" stroke="#000" stroke-width="1.7"/>
<line x1="1895.8" y1="1275.68" x2="1919.8" y2="1275.68" stroke="#000" stroke-width="1.7"/>
<line x1="1907.8" y1="1400.53" x2="1907.8" y2="1347.02" stroke="#000" stroke-width="1.7"/>
<line x1="1895.8" y1="1347.02" x2="1919.8" y2="1347.02" stroke="#000" stroke-width="1.7"/>
<text x="1907.8" y="1456.5" font-size="20.48" text-anchor="middle" fill="#1a1a1a" stroke="#1a1a1a" stroke-width="0.25" textLength="30.5" lengthAdjust="spacingAndGlyphs">0.5</text>
<line x1="1907.8" y1="1489.7" x2="1907.8" y2="1505.5" stroke="#000" stroke-width="3.9"/>
<text x="1907.8" y="1530.8" font-size="26.12" text-anchor="middle" fill="#20b4ba" stroke="#20b4ba" stroke-width="0.44" textLength="47" lengthAdjust="spacingAndGlyphs">Yes</text>
<text x="1907.8" y="1555.7" font-size="18.81" text-anchor="middle" fill="#20b4ba" stroke="#20b4ba" stroke-width="0.32" textLength="48" lengthAdjust="spacingAndGlyphs">(n=7)</text>
<line x1="1240.9" y1="1238" x2="1240.9" y2="1491.8" stroke="#000" stroke-width="3.9"/>
<line x1="1223.5" y1="1489.7" x2="1953.5" y2="1489.7" stroke="#000" stroke-width="4.2"/>
<line x1="1223.5" y1="1489.7" x2="1240.9" y2="1489.7" stroke="#000" stroke-width="3.9"/>
<text x="1216" y="1499" font-size="27.17" text-anchor="end" stroke="#000" stroke-width="0.46" textLength="40" lengthAdjust="spacingAndGlyphs">0.0</text>
<line x1="1223.5" y1="1454.03" x2="1240.9" y2="1454.03" stroke="#000" stroke-width="3.9"/>
<text x="1216" y="1463.33" font-size="27.17" text-anchor="end" stroke="#000" stroke-width="0.46" textLength="40" lengthAdjust="spacingAndGlyphs">0.2</text>
<line x1="1223.5" y1="1418.36" x2="1240.9" y2="1418.36" stroke="#000" stroke-width="3.9"/>
<text x="1216" y="1427.66" font-size="27.17" text-anchor="end" stroke="#000" stroke-width="0.46" textLength="40" lengthAdjust="spacingAndGlyphs">0.4</text>
<line x1="1223.5" y1="1382.69" x2="1240.9" y2="1382.69" stroke="#000" stroke-width="3.9"/>
<text x="1216" y="1391.99" font-size="27.17" text-anchor="end" stroke="#000" stroke-width="0.46" textLength="40" lengthAdjust="spacingAndGlyphs">0.6</text>
<line x1="1223.5" y1="1347.02" x2="1240.9" y2="1347.02" stroke="#000" stroke-width="3.9"/>
<text x="1216" y="1356.32" font-size="27.17" text-anchor="end" stroke="#000" stroke-width="0.46" textLength="40" lengthAdjust="spacingAndGlyphs">0.8</text>
<line x1="1223.5" y1="1311.35" x2="1240.9" y2="1311.35" stroke="#000" stroke-width="3.9"/>
<text x="1216" y="1320.65" font-size="27.17" text-anchor="end" stroke="#000" stroke-width="0.46" textLength="40" lengthAdjust="spacingAndGlyphs">1.0</text>
<line x1="1223.5" y1="1275.68" x2="1240.9" y2="1275.68" stroke="#000" stroke-width="3.9"/>
<text x="1216" y="1284.98" font-size="27.17" text-anchor="end" stroke="#000" stroke-width="0.46" textLength="40" lengthAdjust="spacingAndGlyphs">1.2</text>
<line x1="1223.5" y1="1240.01" x2="1240.9" y2="1240.01" stroke="#000" stroke-width="3.9"/>
<text x="1216" y="1249.31" font-size="27.17" text-anchor="end" stroke="#000" stroke-width="0.46" textLength="40" lengthAdjust="spacingAndGlyphs">1.4</text>
<text x="1158.5" y="1364" font-size="29.26" text-anchor="middle" stroke="#000" stroke-width="0.5" textLength="256" lengthAdjust="spacingAndGlyphs" transform="rotate(-90 1158.5 1364)">Proportion of T-cells</text>
<text x="1177.8" y="1530.8" font-size="26.12" fill="#231f20" stroke="#231f20" stroke-width="0.44" textLength="78" lengthAdjust="spacingAndGlyphs">CirAE:</text>
<text x="1317.9" y="1235.5" font-size="18.81" text-anchor="middle" fill="#231f20" stroke="#231f20" stroke-width="0.32" textLength="81" lengthAdjust="spacingAndGlyphs">P&lt;0.001</text>
<path d="M1285.3 1268 V1246.1 H1355.3 V1285.4" fill="none" stroke="#000" stroke-width="1.5"/>
<text x="1872.5" y="1235.5" font-size="18.81" text-anchor="middle" fill="#231f20" stroke="#231f20" stroke-width="0.32" textLength="81" lengthAdjust="spacingAndGlyphs">P=0.015</text>
<path d="M1838.1 1284.8 V1246.1 H1908.7 V1268.7" fill="none" stroke="#000" stroke-width="1.5"/>
<text x="1958.3" y="1379.2" font-size="17.24" fill="#f0a030" stroke="#f0a030" stroke-width="0.29" textLength="36" lengthAdjust="spacingAndGlyphs">0.65</text>
<text x="1958.3" y="1451.6" font-size="17.24" fill="#f0a030" stroke="#f0a030" stroke-width="0.29" textLength="36" lengthAdjust="spacingAndGlyphs">0.25</text>
<line x1="1268.55" y1="1568.5" x2="1381.15" y2="1568.5" stroke="#000" stroke-width="1.6"/>
<text x="1324.45" y="1596.8" font-size="24.56" text-anchor="middle" stroke="#000" stroke-width="0.42" textLength="113.12" lengthAdjust="spacingAndGlyphs">Apheresis</text>
<text x="1324.45" y="1624.2" font-size="18.81" text-anchor="middle" stroke="#000" stroke-width="0.32" textLength="70" lengthAdjust="spacingAndGlyphs">(n=120)</text>
<line x1="1408.75" y1="1568.5" x2="1521.35" y2="1568.5" stroke="#000" stroke-width="1.6"/>
<text x="1464.65" y="1596.8" font-size="24.56" text-anchor="middle" stroke="#000" stroke-width="0.42" textLength="67.67" lengthAdjust="spacingAndGlyphs">Day 7</text>
<text x="1464.65" y="1624.2" font-size="18.81" text-anchor="middle" stroke="#000" stroke-width="0.32" textLength="59" lengthAdjust="spacingAndGlyphs">(n=36)</text>
<line x1="1544.95" y1="1568.5" x2="1657.55" y2="1568.5" stroke="#000" stroke-width="1.6"/>
<text x="1600.85" y="1596.8" font-size="24.56" text-anchor="middle" stroke="#000" stroke-width="0.42" textLength="82.82" lengthAdjust="spacingAndGlyphs">Day 28</text>
<text x="1600.85" y="1624.2" font-size="18.81" text-anchor="middle" stroke="#000" stroke-width="0.32" textLength="59" lengthAdjust="spacingAndGlyphs">(n=69)</text>
<line x1="1683.15" y1="1568.5" x2="1795.75" y2="1568.5" stroke="#000" stroke-width="1.6"/>
<text x="1739.05" y="1596.8" font-size="24.56" text-anchor="middle" stroke="#000" stroke-width="0.42" textLength="95.95" lengthAdjust="spacingAndGlyphs">Month 3</text>
<text x="1739.05" y="1624.2" font-size="18.81" text-anchor="middle" stroke="#000" stroke-width="0.32" textLength="59" lengthAdjust="spacingAndGlyphs">(n=41)</text>
<line x1="1821.35" y1="1568.5" x2="1933.95" y2="1568.5" stroke="#000" stroke-width="1.6"/>
<text x="1877.25" y="1596.8" font-size="24.56" text-anchor="middle" stroke="#000" stroke-width="0.42" textLength="95.95" lengthAdjust="spacingAndGlyphs">Month 6</text>
<text x="1877.25" y="1624.2" font-size="18.81" text-anchor="middle" stroke="#000" stroke-width="0.32" textLength="59" lengthAdjust="spacingAndGlyphs">(n=28)</text>
<rect x="1981.5" y="1242" width="33.5" height="17" fill="#ebdff0" stroke="#000" stroke-width="2.6"/>
<rect x="1981.5" y="1271" width="33.5" height="17" fill="#a5b9dc" stroke="#000" stroke-width="2.6"/>
<text x="2026.2" y="1259.3" font-size="26.12" stroke="#000" stroke-width="0.44" textLength="53" lengthAdjust="spacingAndGlyphs">CD4</text>
<text x="2026.2" y="1287.5" font-size="26.12" stroke="#000" stroke-width="0.44" textLength="53" lengthAdjust="spacingAndGlyphs">CD8</text></g>
<g><path d="M1238.7 1771.58 L1266.68 1748.36 L1350.62 1794.8 L1598.43 1806.41 L1958.16 1794.8 L1958.16 1910.9 L1238.7 1910.9 Z" fill="#d5f1f4"/>
<path d="M1238.7 1794.8 L1266.68 1794.8 L1350.62 1818.02 L1598.43 1841.24 L1958.16 1841.24 L1958.16 1910.9 L1238.7 1910.9 Z" fill="#dfcbcb"/>
<path d="M1238.7 1794.8 V1748.36 M1234.4 1794.8 H1243 M1234.4 1748.36 H1243 M1266.68 1818.02 V1725.14 M1262.38 1818.02 H1270.98 M1262.38 1725.14 H1270.98 M1350.62 1841.24 V1771.58 M1346.32 1841.24 H1354.92 M1346.32 1771.58 H1354.92 M1598.43 1859.82 V1754.16 M1594.13 1859.82 H1602.73 M1594.13 1754.16 H1602.73 M1958.16 1841.24 V1725.14 M1953.86 1841.24 H1962.46 M1953.86 1725.14 H1962.46" fill="none" stroke="#20b4ba" stroke-width="1.6"/>
<path d="M1238.7 1841.24 V1771.58 M1234.4 1841.24 H1243 M1234.4 1771.58 H1243 M1266.68 1841.24 V1771.58 M1262.38 1841.24 H1270.98 M1262.38 1771.58 H1270.98 M1350.62 1858.66 V1771.58 M1346.32 1858.66 H1354.92 M1346.32 1771.58 H1354.92 M1598.43 1864.46 V1806.41 M1594.13 1864.46 H1602.73 M1594.13 1806.41 H1602.73 M1958.16 1864.46 V1806.41 M1953.86 1864.46 H1962.46 M1953.86 1806.41 H1962.46" fill="none" stroke="#ee746b" stroke-width="1.6"/>
<path d="M1238.7 1771.58 L1266.68 1748.36 L1350.62 1794.8 L1598.43 1806.41 L1958.16 1794.8" fill="none" stroke="#20b4ba" stroke-width="3.4" stroke-linejoin="round"/>
<path d="M1238.7 1794.8 L1266.68 1794.8 L1350.62 1818.02 L1598.43 1841.24 L1958.16 1841.24" fill="none" stroke="#ee746b" stroke-width="3.4" stroke-linejoin="round"/>
<line x1="1238.7" y1="1676.7" x2="1238.7" y2="1913" stroke="#000" stroke-width="3.9"/>
<line x1="1222" y1="1910.9" x2="1961.1" y2="1910.9" stroke="#000" stroke-width="4.2"/>
<line x1="1222" y1="1910.9" x2="1238.7" y2="1910.9" stroke="#000" stroke-width="3.9"/>
<text x="1214.5" y="1920.7" font-size="28.74" text-anchor="end" stroke="#000" stroke-width="0.49" textLength="42" lengthAdjust="spacingAndGlyphs">0.0</text>
<line x1="1222" y1="1864.46" x2="1238.7" y2="1864.46" stroke="#000" stroke-width="3.9"/>
<text x="1214.5" y="1874.26" font-size="28.74" text-anchor="end" stroke="#000" stroke-width="0.49" textLength="42" lengthAdjust="spacingAndGlyphs">0.2</text>
<line x1="1222" y1="1818.02" x2="1238.7" y2="1818.02" stroke="#000" stroke-width="3.9"/>
<text x="1214.5" y="1827.82" font-size="28.74" text-anchor="end" stroke="#000" stroke-width="0.49" textLength="42" lengthAdjust="spacingAndGlyphs">0.4</text>
<line x1="1222" y1="1771.58" x2="1238.7" y2="1771.58" stroke="#000" stroke-width="3.9"/>
<text x="1214.5" y="1781.38" font-size="28.74" text-anchor="end" stroke="#000" stroke-width="0.49" textLength="42" lengthAdjust="spacingAndGlyphs">0.6</text>
<line x1="1222" y1="1725.14" x2="1238.7" y2="1725.14" stroke="#000" stroke-width="3.9"/>
<text x="1214.5" y="1734.94" font-size="28.74" text-anchor="end" stroke="#000" stroke-width="0.49" textLength="42" lengthAdjust="spacingAndGlyphs">0.8</text>
<line x1="1222" y1="1678.7" x2="1238.7" y2="1678.7" stroke="#000" stroke-width="3.9"/>
<text x="1214.5" y="1688.5" font-size="28.74" text-anchor="end" stroke="#000" stroke-width="0.49" textLength="42" lengthAdjust="spacingAndGlyphs">1.0</text>
<line x1="1238.7" y1="1910.9" x2="1238.7" y2="1927" stroke="#000" stroke-width="3.9"/>
<line x1="1358.61" y1="1910.9" x2="1358.61" y2="1927" stroke="#000" stroke-width="3.9"/>
<text x="1358.61" y="1960.5" font-size="28.74" text-anchor="middle" stroke="#000" stroke-width="0.49" textLength="32" lengthAdjust="spacingAndGlyphs">30</text>
<line x1="1478.52" y1="1910.9" x2="1478.52" y2="1927" stroke="#000" stroke-width="3.9"/>
<text x="1478.52" y="1960.5" font-size="28.74" text-anchor="middle" stroke="#000" stroke-width="0.49" textLength="32" lengthAdjust="spacingAndGlyphs">60</text>
<line x1="1598.43" y1="1910.9" x2="1598.43" y2="1927" stroke="#000" stroke-width="3.9"/>
<text x="1598.43" y="1960.5" font-size="28.74" text-anchor="middle" stroke="#000" stroke-width="0.49" textLength="32" lengthAdjust="spacingAndGlyphs">90</text>
<line x1="1718.34" y1="1910.9" x2="1718.34" y2="1927" stroke="#000" stroke-width="3.9"/>
<text x="1718.34" y="1960.5" font-size="28.74" text-anchor="middle" stroke="#000" stroke-width="0.49" textLength="48" lengthAdjust="spacingAndGlyphs">120</text>
<line x1="1838.25" y1="1910.9" x2="1838.25" y2="1927" stroke="#000" stroke-width="3.9"/>
<text x="1838.25" y="1960.5" font-size="28.74" text-anchor="middle" stroke="#000" stroke-width="0.49" textLength="48" lengthAdjust="spacingAndGlyphs">150</text>
<line x1="1958.16" y1="1910.9" x2="1958.16" y2="1927" stroke="#000" stroke-width="3.9"/>
<text x="1958.16" y="1960.5" font-size="28.74" text-anchor="middle" stroke="#000" stroke-width="0.49" textLength="48" lengthAdjust="spacingAndGlyphs">180</text>
<text x="1235.7" y="1960.5" font-size="28.74" text-anchor="middle" stroke="#000" stroke-width="0.49" textLength="131" lengthAdjust="spacingAndGlyphs">Apheresis</text>
<text x="1158.5" y="1815" font-size="29.26" text-anchor="middle" stroke="#000" stroke-width="0.5" transform="rotate(-90 1158.5 1815)">Proportion of CD4<tspan font-size="60%" dy="-0.7em">+</tspan><tspan dy="0.42em"> T-cells</tspan></text>
<line x1="1358.4" y1="1984.9" x2="1959.9" y2="1984.9" stroke="#000" stroke-width="1.6"/>
<text x="1651.8" y="2014.4" font-size="26.12" text-anchor="middle" stroke="#000" stroke-width="0.44" textLength="320" lengthAdjust="spacingAndGlyphs">Days from CART infusion</text>
<text x="1375.1" y="1703" font-size="22.99" fill="#231f20" stroke="#231f20" stroke-width="0.39" textLength="58" lengthAdjust="spacingAndGlyphs">AUC:</text>
<text x="1439.6" y="1688.1" font-size="21.42" fill="#20b4ba" stroke="#20b4ba" stroke-width="0.36" textLength="358" lengthAdjust="spacingAndGlyphs"><tspan font-size="72%" dy="-0.09em">•</tspan><tspan dy="0.065em" dx="0.1em"> CirAE: 90.6 (95% CI: 53.7–127.6)</tspan></text>
<text x="1439.6" y="1716.1" font-size="21.42" fill="#ee746b" stroke="#ee746b" stroke-width="0.36" textLength="380" lengthAdjust="spacingAndGlyphs"><tspan font-size="72%" dy="-0.09em">•</tspan><tspan dy="0.065em" dx="0.1em"> No CirAE: 65.8 (95% CI: 38.7–92.9)</tspan></text>
<rect x="1980.3" y="1668" width="143.3" height="58.1" fill="#fff" stroke="#000" stroke-width="2"/>
<line x1="1990.3" y1="1681.1" x2="2015.6" y2="1681.1" stroke="#20b4ba" stroke-width="2.6"/>
<line x1="1990.3" y1="1709.4" x2="2015.6" y2="1709.4" stroke="#ee746b" stroke-width="2.6"/>
<text x="2024.7" y="1688.7" font-size="21.42" stroke="#000" stroke-width="0.36" textLength="55" lengthAdjust="spacingAndGlyphs">CirAE</text>
<text x="2024.7" y="1715.5" font-size="21.42" stroke="#000" stroke-width="0.36" textLength="88" lengthAdjust="spacingAndGlyphs">No CirAE</text></g>
<g><text x="8" y="2082" font-size="38.66" fill="#231f20" stroke="#231f20" stroke-width="0.66" font-weight="bold">k</text>
<text x="125.6" y="2083.3" font-size="27.69" fill="#231f20" stroke="#231f20" stroke-width="0.47" textLength="394" lengthAdjust="spacingAndGlyphs">Risk factors for CirAE (cilta-cel)</text>
<text x="658.5" y="2083.3" font-size="27.69" fill="#231f20" stroke="#231f20" stroke-width="0.47" textLength="282" lengthAdjust="spacingAndGlyphs">Neuro CirAE (cilta-cel)</text>
<text x="1191.2" y="2083.3" font-size="27.69" fill="#231f20" stroke="#231f20" stroke-width="0.47" textLength="338" lengthAdjust="spacingAndGlyphs">Non-neuro CirAE (cilta-cel)</text>
<rect x="246.15" y="2114.3" width="103.55" height="300.5" fill="#fdeeed"/>
<rect x="349.7" y="2114.3" width="204.6" height="300.5" fill="#e3f6f9"/>
<line x1="349.7" y1="2116.3" x2="349.7" y2="2412.8" stroke="#000" stroke-width="3.2" stroke-dasharray="0.1 6.6" stroke-linecap="round"/>
<line x1="370.84" y1="2152.4" x2="454.58" y2="2152.4" stroke="#000" stroke-width="4.5" stroke-linecap="round"/>
<circle cx="412.04" cy="2152.4" r="7.8" fill="#000"/>
<line x1="370.84" y1="2208.7" x2="464" y2="2208.7" stroke="#000" stroke-width="4.5" stroke-linecap="round"/>
<circle cx="415.3" cy="2208.7" r="7.8" fill="#000"/>
<line x1="353.99" y1="2265.1" x2="455.01" y2="2265.1" stroke="#000" stroke-width="4.5" stroke-linecap="round"/>
<circle cx="406.04" cy="2265.1" r="7.8" fill="#000"/>
<line x1="318.53" y1="2321.5" x2="439.1" y2="2321.5" stroke="#000" stroke-width="4.5" stroke-linecap="round"/>
<circle cx="370.84" cy="2321.5" r="7.8" fill="#000"/>
<line x1="333.66" y1="2378.2" x2="459.14" y2="2378.2" stroke="#000" stroke-width="4.5" stroke-linecap="round"/>
<circle cx="399.11" cy="2378.2" r="7.8" fill="#000"/>
<line x1="246.15" y1="2114.3" x2="246.15" y2="2417" stroke="#000" stroke-width="4.2"/>
<line x1="244.05" y1="2414.8" x2="558.9" y2="2414.8" stroke="#000" stroke-width="4.4"/>
<line x1="246.15" y1="2414.8" x2="246.15" y2="2431.4" stroke="#000" stroke-width="4.2"/>
<text x="246.15" y="2459.7" font-size="26.12" text-anchor="middle" stroke="#000" stroke-width="0.44" textLength="35" lengthAdjust="spacingAndGlyphs">0.1</text>
<line x1="349.7" y1="2414.8" x2="349.7" y2="2431.4" stroke="#000" stroke-width="4.2"/>
<text x="349.7" y="2459.7" font-size="26.12" text-anchor="middle" stroke="#000" stroke-width="0.44" textLength="14" lengthAdjust="spacingAndGlyphs">1</text>
<line x1="453.25" y1="2414.8" x2="453.25" y2="2431.4" stroke="#000" stroke-width="4.2"/>
<text x="453.25" y="2459.7" font-size="26.12" text-anchor="middle" stroke="#000" stroke-width="0.44" textLength="28" lengthAdjust="spacingAndGlyphs">10</text>
<line x1="556.8" y1="2414.8" x2="556.8" y2="2431.4" stroke="#000" stroke-width="4.2"/>
<text x="556.8" y="2459.7" font-size="26.12" text-anchor="middle" stroke="#000" stroke-width="0.44" textLength="42" lengthAdjust="spacingAndGlyphs">100</text>
<line x1="229.15" y1="2152.4" x2="246.15" y2="2152.4" stroke="#000" stroke-width="4.2"/>
<line x1="229.15" y1="2208.7" x2="246.15" y2="2208.7" stroke="#000" stroke-width="4.2"/>
<line x1="229.15" y1="2265.1" x2="246.15" y2="2265.1" stroke="#000" stroke-width="4.2"/>
<line x1="229.15" y1="2321.5" x2="246.15" y2="2321.5" stroke="#000" stroke-width="4.2"/>
<line x1="229.15" y1="2378.2" x2="246.15" y2="2378.2" stroke="#000" stroke-width="4.2"/>
<rect x="644" y="2114.3" width="103.4" height="300.5" fill="#fdeeed"/>
<rect x="747.4" y="2114.3" width="204.3" height="300.5" fill="#e3f6f9"/>
<line x1="747.4" y1="2116.3" x2="747.4" y2="2412.8" stroke="#000" stroke-width="3.2" stroke-dasharray="0.1 6.6" stroke-linecap="round"/>
<line x1="776.22" y1="2152.4" x2="875.41" y2="2152.4" stroke="#000" stroke-width="4.5" stroke-linecap="round"/>
<circle cx="823.95" cy="2152.4" r="7.8" fill="#000"/>
<line x1="755.59" y1="2208.7" x2="867.17" y2="2208.7" stroke="#000" stroke-width="4.5" stroke-linecap="round"/>
<circle cx="807.35" cy="2208.7" r="7.8" fill="#000"/>
<line x1="762.51" y1="2265.1" x2="870.48" y2="2265.1" stroke="#000" stroke-width="4.5" stroke-linecap="round"/>
<circle cx="817.84" cy="2265.1" r="7.8" fill="#000"/>
<line x1="731.38" y1="2321.5" x2="936.55" y2="2321.5" stroke="#000" stroke-width="4.5" stroke-linecap="round"/>
<circle cx="804.92" cy="2321.5" r="7.8" fill="#000"/>
<line x1="724.46" y1="2378.2" x2="861.18" y2="2378.2" stroke="#000" stroke-width="4.5" stroke-linecap="round"/>
<circle cx="798.21" cy="2378.2" r="7.8" fill="#000"/>
<line x1="954.2" y1="2114.3" x2="954.2" y2="2417" stroke="#000" stroke-width="4.2"/>
<line x1="641.9" y1="2414.8" x2="956.3" y2="2414.8" stroke="#000" stroke-width="4.4"/>
<line x1="644" y1="2414.8" x2="644" y2="2431.4" stroke="#000" stroke-width="4.2"/>
<text x="644" y="2459.7" font-size="26.12" text-anchor="middle" stroke="#000" stroke-width="0.44" textLength="35" lengthAdjust="spacingAndGlyphs">0.1</text>
<line x1="747.4" y1="2414.8" x2="747.4" y2="2431.4" stroke="#000" stroke-width="4.2"/>
<text x="747.4" y="2459.7" font-size="26.12" text-anchor="middle" stroke="#000" stroke-width="0.44" textLength="14" lengthAdjust="spacingAndGlyphs">1</text>
<line x1="850.8" y1="2414.8" x2="850.8" y2="2431.4" stroke="#000" stroke-width="4.2"/>
<text x="850.8" y="2459.7" font-size="26.12" text-anchor="middle" stroke="#000" stroke-width="0.44" textLength="28" lengthAdjust="spacingAndGlyphs">10</text>
<line x1="954.2" y1="2414.8" x2="954.2" y2="2431.4" stroke="#000" stroke-width="4.2"/>
<text x="954.2" y="2459.7" font-size="26.12" text-anchor="middle" stroke="#000" stroke-width="0.44" textLength="42" lengthAdjust="spacingAndGlyphs">100</text>
<line x1="954.2" y1="2152.4" x2="972.2" y2="2152.4" stroke="#000" stroke-width="4.2"/>
<line x1="954.2" y1="2208.7" x2="972.2" y2="2208.7" stroke="#000" stroke-width="4.2"/>
<line x1="954.2" y1="2265.1" x2="972.2" y2="2265.1" stroke="#000" stroke-width="4.2"/>
<line x1="954.2" y1="2321.5" x2="972.2" y2="2321.5" stroke="#000" stroke-width="4.2"/>
<line x1="954.2" y1="2378.2" x2="972.2" y2="2378.2" stroke="#000" stroke-width="4.2"/>
<rect x="1205.3" y="2114.3" width="156" height="300.5" fill="#fdeeed"/>
<rect x="1361.3" y="2114.3" width="153.5" height="300.5" fill="#e3f6f9"/>
<line x1="1361.3" y1="2116.3" x2="1361.3" y2="2412.8" stroke="#000" stroke-width="3.2" stroke-dasharray="0.1 6.6" stroke-linecap="round"/>
<line x1="1337.82" y1="2152.4" x2="1430.45" y2="2152.4" stroke="#000" stroke-width="4.5" stroke-linecap="round"/>
<circle cx="1383.04" cy="2152.4" r="7.8" fill="#000"/>
<line x1="1357.73" y1="2208.7" x2="1475.01" y2="2208.7" stroke="#000" stroke-width="4.5" stroke-linecap="round"/>
<circle cx="1409.1" cy="2208.7" r="7.8" fill="#000"/>
<line x1="1320.52" y1="2265.1" x2="1434.97" y2="2265.1" stroke="#000" stroke-width="4.5" stroke-linecap="round"/>
<circle cx="1383.04" cy="2265.1" r="7.8" fill="#000"/>
<line x1="1306.78" y1="2321.5" x2="1414.44" y2="2321.5" stroke="#000" stroke-width="4.5" stroke-linecap="round"/>
<circle cx="1349.22" cy="2321.5" r="7.8" fill="#000"/>
<line x1="1283.3" y1="2378.2" x2="1437.56" y2="2378.2" stroke="#000" stroke-width="4.5" stroke-linecap="round"/>
<circle cx="1375.04" cy="2378.2" r="7.8" fill="#000"/>
<line x1="1205.3" y1="2114.3" x2="1205.3" y2="2417" stroke="#000" stroke-width="4.2"/>
<line x1="1203.2" y1="2414.8" x2="1519.4" y2="2414.8" stroke="#000" stroke-width="4.4"/>
<line x1="1205.3" y1="2414.8" x2="1205.3" y2="2431.4" stroke="#000" stroke-width="4.2"/>
<text x="1205.3" y="2459.7" font-size="26.12" text-anchor="middle" stroke="#000" stroke-width="0.44" textLength="49" lengthAdjust="spacingAndGlyphs">0.01</text>
<line x1="1283.3" y1="2414.8" x2="1283.3" y2="2431.4" stroke="#000" stroke-width="4.2"/>
<text x="1283.3" y="2459.7" font-size="26.12" text-anchor="middle" stroke="#000" stroke-width="0.44" textLength="35" lengthAdjust="spacingAndGlyphs">0.1</text>
<line x1="1361.3" y1="2414.8" x2="1361.3" y2="2431.4" stroke="#000" stroke-width="4.2"/>
<text x="1361.3" y="2459.7" font-size="26.12" text-anchor="middle" stroke="#000" stroke-width="0.44" textLength="14" lengthAdjust="spacingAndGlyphs">1</text>
<line x1="1439.3" y1="2414.8" x2="1439.3" y2="2431.4" stroke="#000" stroke-width="4.2"/>
<text x="1439.3" y="2459.7" font-size="26.12" text-anchor="middle" stroke="#000" stroke-width="0.44" textLength="28" lengthAdjust="spacingAndGlyphs">10</text>
<line x1="1517.3" y1="2414.8" x2="1517.3" y2="2431.4" stroke="#000" stroke-width="4.2"/>
<text x="1517.3" y="2459.7" font-size="26.12" text-anchor="middle" stroke="#000" stroke-width="0.44" textLength="42" lengthAdjust="spacingAndGlyphs">100</text>
<line x1="1188.3" y1="2152.4" x2="1205.3" y2="2152.4" stroke="#000" stroke-width="4.2"/>
<line x1="1188.3" y1="2208.7" x2="1205.3" y2="2208.7" stroke="#000" stroke-width="4.2"/>
<line x1="1188.3" y1="2265.1" x2="1205.3" y2="2265.1" stroke="#000" stroke-width="4.2"/>
<line x1="1188.3" y1="2321.5" x2="1205.3" y2="2321.5" stroke="#000" stroke-width="4.2"/>
<line x1="1188.3" y1="2378.2" x2="1205.3" y2="2378.2" stroke="#000" stroke-width="4.2"/>
<text x="222.4" y="2159.5" font-size="24.77" text-anchor="end" stroke="#000" stroke-width="0.42">D14 ALC<tspan font-size="57%" dy="-0.69em">Peak</tspan><tspan dy="0.4em">≥2.8</tspan></text>
<text x="222.4" y="2216.2" font-size="24.98" text-anchor="end" stroke="#000" stroke-width="0.42" textLength="214" lengthAdjust="spacingAndGlyphs">Apheresis CD4/8&gt;1</text>
<text x="222.4" y="2272.2" font-size="24.98" text-anchor="end" stroke="#000" stroke-width="0.42" textLength="74" lengthAdjust="spacingAndGlyphs">ICANS</text>
<text x="222.4" y="2328.9" font-size="24.98" text-anchor="end" stroke="#000" stroke-width="0.42" textLength="51" lengthAdjust="spacingAndGlyphs">CRS</text>
<text x="222.4" y="2370.7" font-size="24.98" text-anchor="end" stroke="#000" stroke-width="0.42" textLength="52" lengthAdjust="spacingAndGlyphs">Prior</text>
<text x="222.4" y="2398.5" font-size="24.98" text-anchor="end" stroke="#000" stroke-width="0.42" textLength="136" lengthAdjust="spacingAndGlyphs">autoimmune</text>
<text x="1081.5" y="2159.5" font-size="24.77" text-anchor="middle" stroke="#000" stroke-width="0.42">D14 ALC<tspan font-size="57%" dy="-0.69em">Peak</tspan><tspan dy="0.4em">≥2.9</tspan></text>
<text x="1081.5" y="2216.2" font-size="24.98" text-anchor="middle" stroke="#000" stroke-width="0.42" textLength="213" lengthAdjust="spacingAndGlyphs">Apheresis CD4/8&gt;1</text>
<text x="1081.5" y="2272.2" font-size="24.98" text-anchor="middle" stroke="#000" stroke-width="0.42" textLength="74" lengthAdjust="spacingAndGlyphs">ICANS</text>
<text x="1081.5" y="2328.9" font-size="24.98" text-anchor="middle" stroke="#000" stroke-width="0.42" textLength="51" lengthAdjust="spacingAndGlyphs">CRS</text>
<text x="1081.5" y="2370.7" font-size="24.98" text-anchor="middle" stroke="#000" stroke-width="0.42" textLength="52" lengthAdjust="spacingAndGlyphs">Prior</text>
<text x="1081.5" y="2398.5" font-size="24.98" text-anchor="middle" stroke="#000" stroke-width="0.42" textLength="136" lengthAdjust="spacingAndGlyphs">autoimmune</text>
<text x="185" y="2494" font-size="22.99" fill="#ee746b" stroke="#ee746b" stroke-width="0.39" textLength="162" lengthAdjust="spacingAndGlyphs">CirAE less likely</text>
<text x="362.6" y="2494" font-size="22.99" fill="#20b4ba" stroke="#20b4ba" stroke-width="0.39" textLength="173.9" lengthAdjust="spacingAndGlyphs">CirAE more likely</text>
<text x="582" y="2494" font-size="22.99" fill="#ee746b" stroke="#ee746b" stroke-width="0.39" textLength="163" lengthAdjust="spacingAndGlyphs">CirAE less likely</text>
<text x="760.3" y="2494" font-size="22.99" fill="#20b4ba" stroke="#20b4ba" stroke-width="0.39" textLength="173.2" lengthAdjust="spacingAndGlyphs">CirAE more likely</text>
<text x="1196" y="2494" font-size="22.99" fill="#ee746b" stroke="#ee746b" stroke-width="0.39" textLength="161.9" lengthAdjust="spacingAndGlyphs">CirAE less likely</text>
<text x="1374" y="2494" font-size="22.99" fill="#20b4ba" stroke="#20b4ba" stroke-width="0.39" textLength="173.5" lengthAdjust="spacingAndGlyphs">CirAE more likely</text></g>
<g><text x="1641" y="2082.3" font-size="38.66" fill="#231f20" stroke="#231f20" stroke-width="0.66" font-weight="bold">l</text>
<text x="1686.8" y="2083.5" font-size="27.69" fill="#231f20" stroke="#231f20" stroke-width="0.47" textLength="377.5" lengthAdjust="spacingAndGlyphs">Multivariate analysis (cilta-cel)</text>
<rect x="1874.4" y="2114.3" width="241.1" height="300.5" fill="#e3f6f9"/>
<line x1="1879.41" y1="2198.8" x2="1981.67" y2="2198.8" stroke="#000" stroke-width="4.5" stroke-linecap="round"/>
<circle cx="1930.35" cy="2198.8" r="7.8" fill="#000"/>
<line x1="1888.19" y1="2328" x2="1999.93" y2="2328" stroke="#000" stroke-width="4.5" stroke-linecap="round"/>
<circle cx="1941.71" cy="2328" r="7.8" fill="#000"/>
<line x1="1874.4" y1="2114.3" x2="1874.4" y2="2417" stroke="#000" stroke-width="4.2"/>
<line x1="1872.3" y1="2414.8" x2="2118.5" y2="2414.8" stroke="#000" stroke-width="4.4"/>
<line x1="1874.4" y1="2414.8" x2="1874.4" y2="2431.4" stroke="#000" stroke-width="4.2"/>
<text x="1874.4" y="2459.7" font-size="26.12" text-anchor="middle" stroke="#000" stroke-width="0.44" textLength="14" lengthAdjust="spacingAndGlyphs">1</text>
<line x1="1995.4" y1="2414.8" x2="1995.4" y2="2431.4" stroke="#000" stroke-width="4.2"/>
<text x="1995.4" y="2459.7" font-size="26.12" text-anchor="middle" stroke="#000" stroke-width="0.44" textLength="28" lengthAdjust="spacingAndGlyphs">10</text>
<line x1="2116.4" y1="2414.8" x2="2116.4" y2="2431.4" stroke="#000" stroke-width="4.2"/>
<text x="2116.4" y="2459.7" font-size="26.12" text-anchor="middle" stroke="#000" stroke-width="0.44" textLength="42" lengthAdjust="spacingAndGlyphs">100</text>
<line x1="1857.4" y1="2198.8" x2="1874.4" y2="2198.8" stroke="#000" stroke-width="4.2"/>
<line x1="1857.4" y1="2328" x2="1874.4" y2="2328" stroke="#000" stroke-width="4.2"/>
<text x="1853" y="2208.4" font-size="24.77" text-anchor="end" stroke="#000" stroke-width="0.42">D14 ALC<tspan font-size="57%" dy="-0.69em">Peak</tspan><tspan dy="0.4em">≥2.9</tspan></text>
<text x="1853" y="2337" font-size="24.98" text-anchor="end" stroke="#000" stroke-width="0.42" textLength="214" lengthAdjust="spacingAndGlyphs">Apheresis CD4/8&gt;1</text>
<text x="1912.7" y="2494" font-size="22.99" fill="#20b4ba" stroke="#20b4ba" stroke-width="0.39" textLength="174" lengthAdjust="spacingAndGlyphs">CirAE more likely</text></g>
<g><text x="19.8" y="2537.4" font-size="24.56" fill="#231f20" stroke="#231f20" stroke-width="0.42" textLength="229" lengthAdjust="spacingAndGlyphs">Odds Ratio (95% CI)</text>
<rect x="20.2" y="2553.2" width="534.2" height="162.6" fill="none" stroke="#1a1a1a" stroke-width="1.8"/>
<text x="247.9" y="2578.3" font-size="24.56" text-anchor="end" fill="#111" stroke="#111" stroke-width="0.42">D14 ALC<tspan font-size="57%" dy="-0.69em">Peak</tspan><tspan dy="0.4em">≥2.9</tspan></text>
<text x="247.9" y="2610.7" font-size="24.56" text-anchor="end" fill="#111" stroke="#111" stroke-width="0.42" textLength="213" lengthAdjust="spacingAndGlyphs">Apheresis CD4/8&gt;1</text>
<text x="247.9" y="2643.1" font-size="24.56" text-anchor="end" fill="#111" stroke="#111" stroke-width="0.42" textLength="74" lengthAdjust="spacingAndGlyphs">ICANS</text>
<text x="247.9" y="2675.4" font-size="24.56" text-anchor="end" fill="#111" stroke="#111" stroke-width="0.42" textLength="51" lengthAdjust="spacingAndGlyphs">CRS</text>
<text x="247.9" y="2707.6" font-size="24.56" text-anchor="end" fill="#111" stroke="#111" stroke-width="0.42" textLength="194" lengthAdjust="spacingAndGlyphs">Prior autoimmune</text>
<text x="282.5" y="2578.3" font-size="24.56" fill="#111" stroke="#111" stroke-width="0.42" font-weight="bold">4 (1.6–10.3); P=0.0028</text>
<text x="282.5" y="2610.7" font-size="24.56" fill="#111" stroke="#111" stroke-width="0.42" font-weight="bold">4.3 (1.6–12.7); P=0.005</text>
<text x="282.5" y="2643.1" font-size="24.56" fill="#111" stroke="#111" stroke-width="0.42" font-weight="bold">3.5 (1.1–10.4); P=0.024</text>
<text x="282.5" y="2675.4" font-size="24.56" fill="#111" stroke="#111" stroke-width="0.42">1.6 (0.5–7.3); P=0.48</text>
<text x="282.5" y="2707.6" font-size="24.56" fill="#111" stroke="#111" stroke-width="0.42">3 (0.7–11.4); P=0.11</text>
<text x="601.8" y="2537.4" font-size="24.56" fill="#231f20" stroke="#231f20" stroke-width="0.42" textLength="229" lengthAdjust="spacingAndGlyphs">Odds Ratio (95% CI)</text>
<rect x="601.8" y="2553.2" width="916.3" height="162.6" fill="none" stroke="#1a1a1a" stroke-width="1.8"/>
<text x="829.6" y="2578.3" font-size="24.56" text-anchor="end" fill="#111" stroke="#111" stroke-width="0.42">D14 ALC<tspan font-size="57%" dy="-0.69em">Peak</tspan><tspan dy="0.4em">≥2.9</tspan></text>
<text x="829.6" y="2610.7" font-size="24.56" text-anchor="end" fill="#111" stroke="#111" stroke-width="0.42" textLength="213" lengthAdjust="spacingAndGlyphs">Apheresis CD4/8&gt;1</text>
<text x="829.6" y="2643.1" font-size="24.56" text-anchor="end" fill="#111" stroke="#111" stroke-width="0.42" textLength="74" lengthAdjust="spacingAndGlyphs">ICANS</text>
<text x="829.6" y="2675.4" font-size="24.56" text-anchor="end" fill="#111" stroke="#111" stroke-width="0.42" textLength="51" lengthAdjust="spacingAndGlyphs">CRS</text>
<text x="829.6" y="2707.6" font-size="24.56" text-anchor="end" fill="#111" stroke="#111" stroke-width="0.42" textLength="194" lengthAdjust="spacingAndGlyphs">Prior autoimmune</text>
<text x="854.3" y="2578.3" font-size="24.56" fill="#111" stroke="#111" stroke-width="0.42" font-weight="bold">5.5 (1.9–17.3); P=0.021</text>
<text x="854.3" y="2610.7" font-size="24.56" fill="#111" stroke="#111" stroke-width="0.42" font-weight="bold">3.8 (1.2–14.4); P=0.029</text>
<text x="854.3" y="2643.1" font-size="24.56" fill="#111" stroke="#111" stroke-width="0.42" font-weight="bold">4.8 (1.4–15.5); P=0.0087</text>
<text x="854.3" y="2675.4" font-size="24.56" fill="#111" stroke="#111" stroke-width="0.42">3.6 (0.7–67.5); P=0.22</text>
<text x="854.3" y="2707.6" font-size="24.56" fill="#111" stroke="#111" stroke-width="0.42">3.1 (0.6–12.6); P=0.13</text>
<text x="1235.8" y="2578.3" font-size="24.56" fill="#111" stroke="#111" stroke-width="0.42">1.9 (0.5–7.7); P=0.35</text>
<text x="1235.8" y="2610.7" font-size="24.56" fill="#111" stroke="#111" stroke-width="0.42">4.1 (0.9–28.7); P=0.085</text>
<text x="1235.8" y="2643.1" font-size="24.56" fill="#111" stroke="#111" stroke-width="0.42">1.9 (0.3–8.8); P=0.44</text>
<text x="1235.8" y="2675.4" font-size="24.56" fill="#111" stroke="#111" stroke-width="0.42">0.7 (0.2–4.8); P=0.65</text>
<text x="1235.8" y="2707.6" font-size="24.56" fill="#111" stroke="#111" stroke-width="0.42">1.5 (0.1–9.5); P=0.72</text>
<text x="1641.2" y="2537.8" font-size="24.56" fill="#231f20" stroke="#231f20" stroke-width="0.42" textLength="229" lengthAdjust="spacingAndGlyphs">Odds Ratio (95% CI)</text>
<rect x="1639.5" y="2552.3" width="504.3" height="73" fill="none" stroke="#1a1a1a" stroke-width="1.8"/>
<text x="1862.1" y="2579" font-size="24.56" text-anchor="end" fill="#111" stroke="#111" stroke-width="0.42">D14 ALC<tspan font-size="57%" dy="-0.69em">Peak</tspan><tspan dy="0.4em">≥2.9</tspan></text>
<text x="1862.1" y="2610.6" font-size="24.56" text-anchor="end" fill="#111" stroke="#111" stroke-width="0.42" textLength="213" lengthAdjust="spacingAndGlyphs">Apheresis CD4/8&gt;1</text>
<text x="1871.7" y="2579" font-size="24.56" fill="#111" stroke="#111" stroke-width="0.42" font-weight="bold" textLength="248" lengthAdjust="spacingAndGlyphs">2.9 (1.1–7.7); P=0.032</text>
<text x="1871.7" y="2610.6" font-size="24.56" fill="#111" stroke="#111" stroke-width="0.42" font-weight="bold" textLength="262" lengthAdjust="spacingAndGlyphs">3.6 (1.3–10.9); P=0.016</text></g>
</svg>
</body></html>
